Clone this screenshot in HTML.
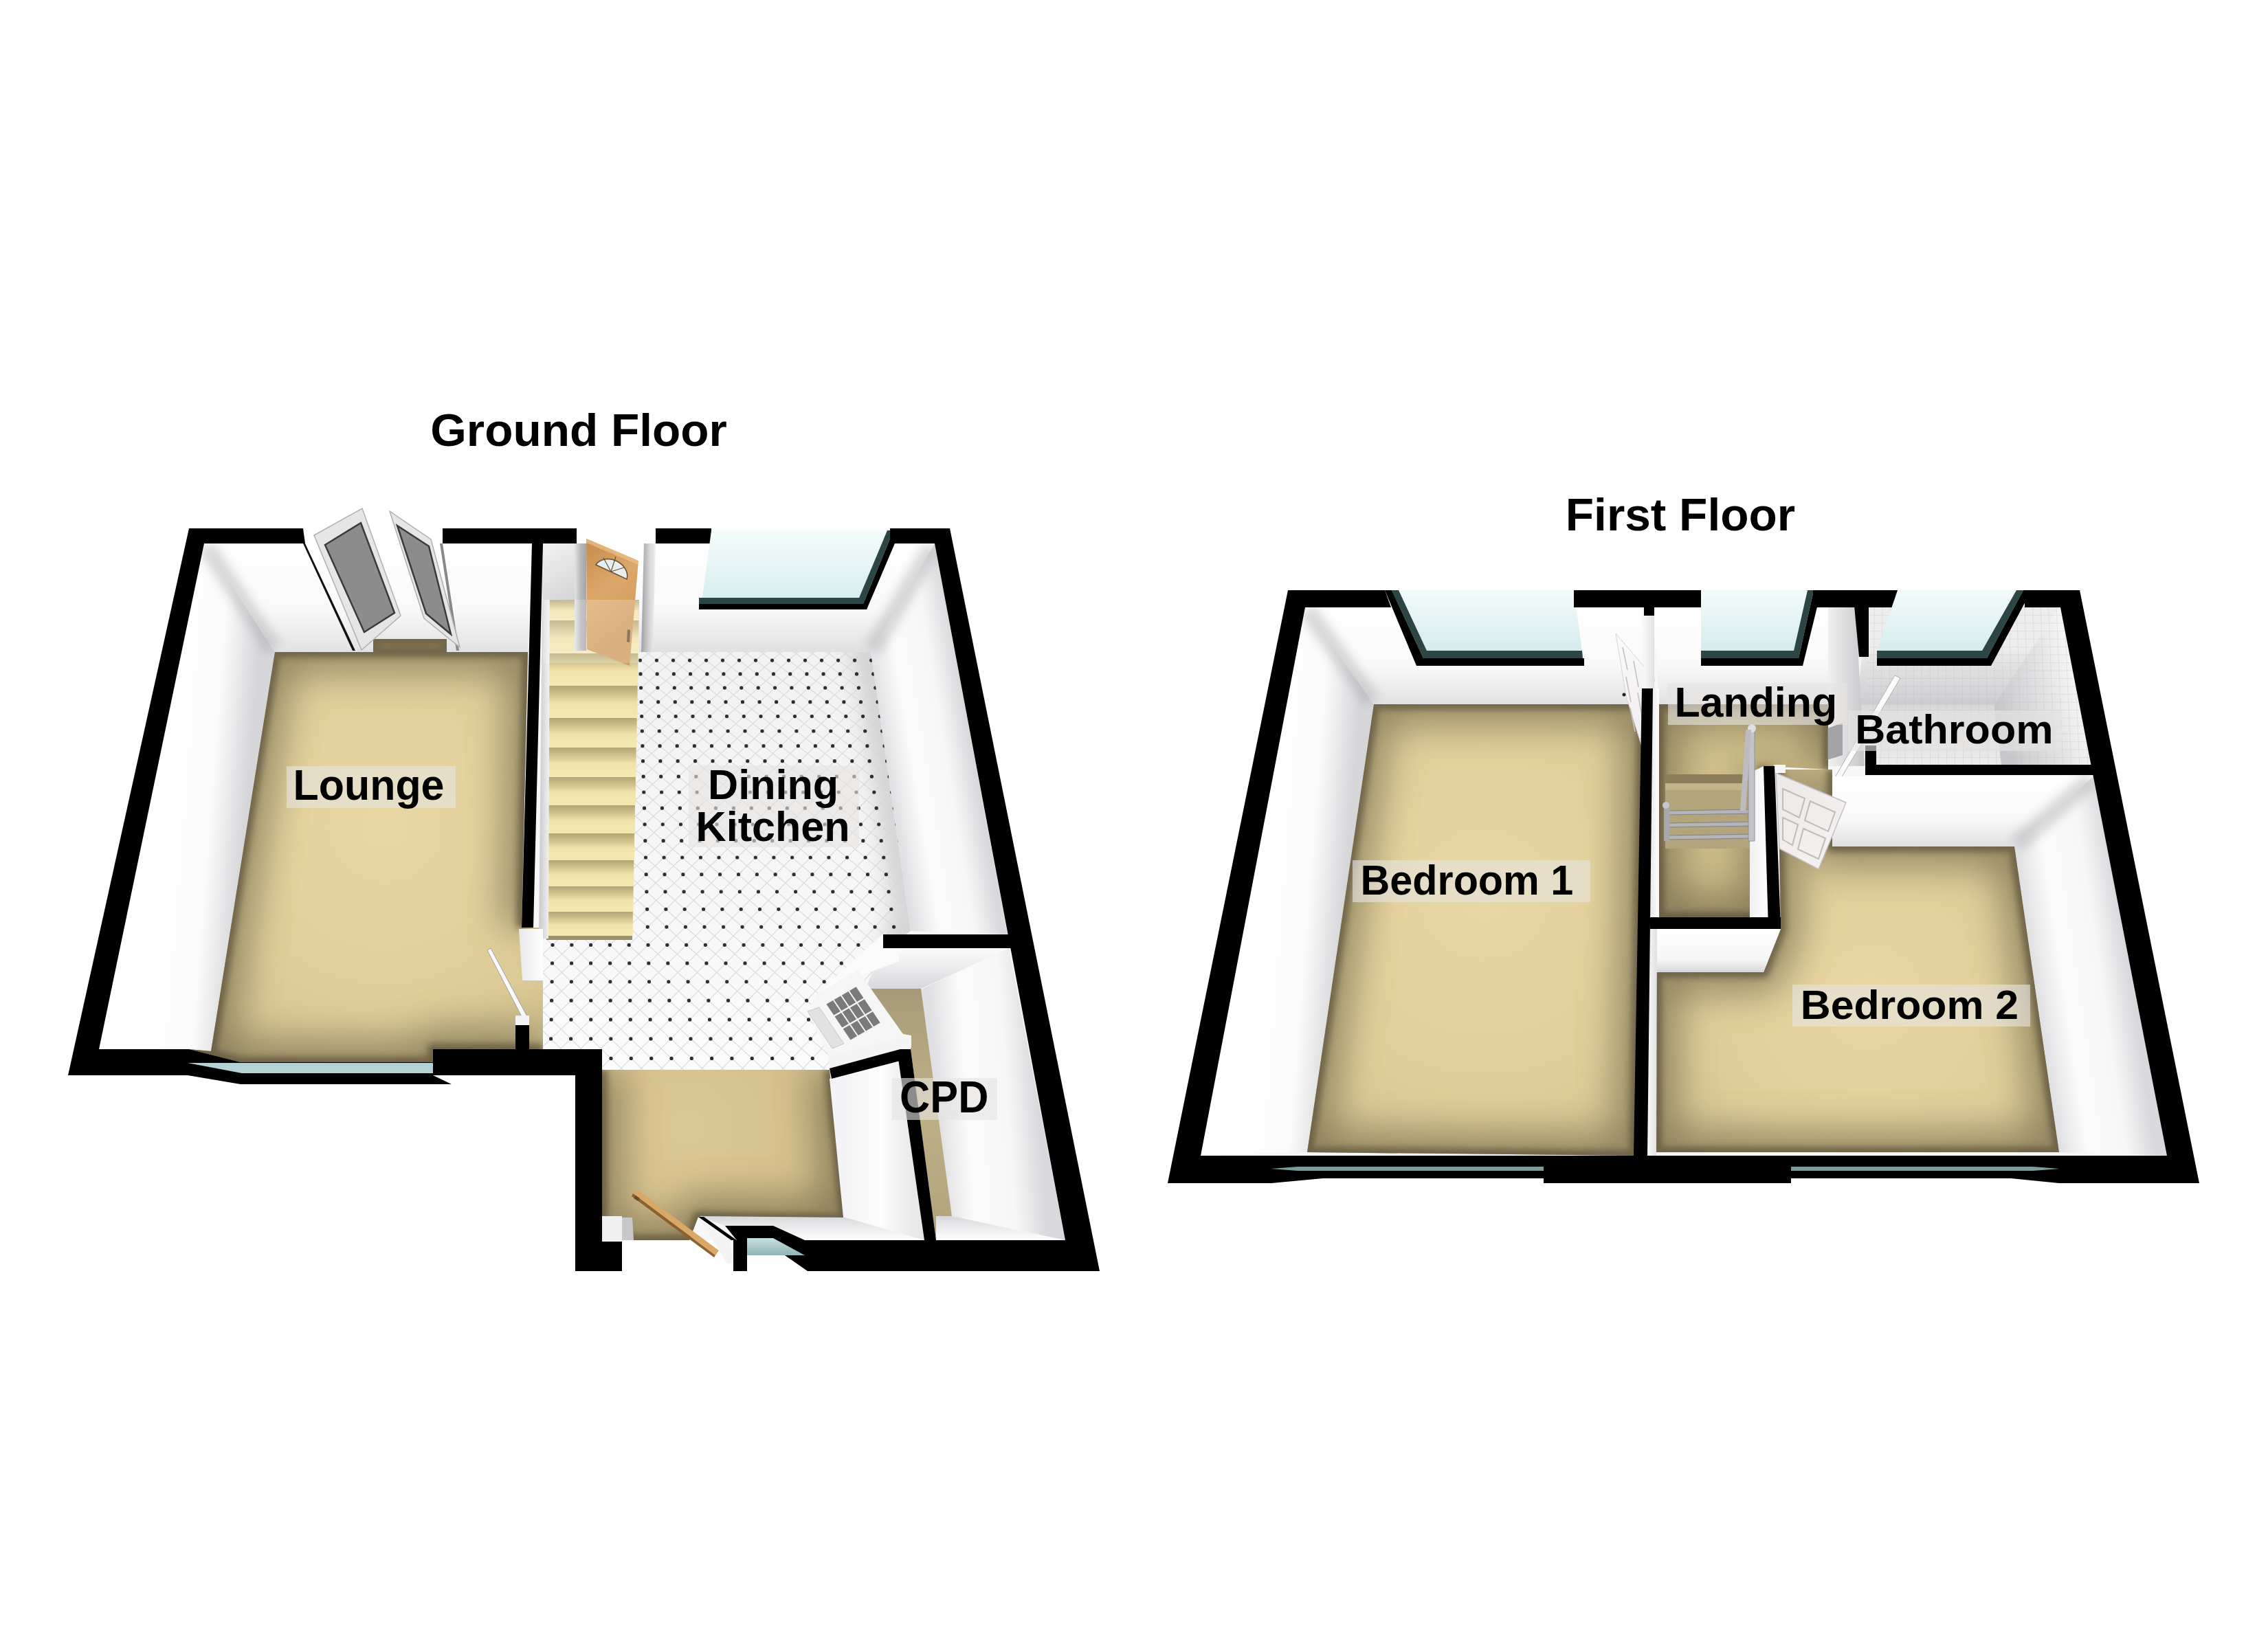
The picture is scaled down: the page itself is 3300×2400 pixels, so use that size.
<!DOCTYPE html>
<html><head><meta charset="utf-8"><style>html,body{margin:0;padding:0;background:#fff;width:3300px;height:2400px;overflow:hidden}</style></head>
<body><svg xmlns="http://www.w3.org/2000/svg" width="3300" height="2400" viewBox="0 0 3300 2400" style="display:block;font-family:'Liberation Sans',sans-serif;font-weight:bold">
<defs>
<filter id="blur" x="-50%" y="-50%" width="200%" height="200%"><feGaussianBlur stdDeviation="7"/></filter>
<filter id="blur2" x="-50%" y="-50%" width="200%" height="200%"><feGaussianBlur stdDeviation="16"/></filter>
<filter id="blur3" x="-20%" y="-20%" width="140%" height="140%"><feGaussianBlur stdDeviation="28"/></filter>
<filter id="blur4" x="-20%" y="-20%" width="140%" height="140%"><feGaussianBlur stdDeviation="5"/></filter>
<linearGradient id="g1" gradientUnits="userSpaceOnUse" x1="500" y1="791" x2="500" y2="949"><stop offset="0" stop-color="#ffffff"/><stop offset="0.6" stop-color="#f9f9f9"/><stop offset="1" stop-color="#e2e2e4"/></linearGradient>
<linearGradient id="g2" gradientUnits="userSpaceOnUse" x1="230" y1="1150" x2="360" y2="1160"><stop offset="0" stop-color="#ffffff"/><stop offset="0.6" stop-color="#fbfbfb"/><stop offset="1" stop-color="#d6d6da"/></linearGradient>
<radialGradient id="g3" gradientUnits="userSpaceOnUse" cx="560" cy="1200" r="420"><stop offset="0" stop-color="#e9d7a3"/><stop offset="0.6" stop-color="#e0ce9a"/><stop offset="1" stop-color="#cebd8c"/></radialGradient>
<clipPath id="cc1"><polygon points="400,949 768,949 759,1350 790,1350 790,1527 630,1527 630,1546 350,1546 275,1527 307,1530"/></clipPath>
<radialGradient id="g4" gradientUnits="userSpaceOnUse" cx="600" cy="1100" r="400"><stop offset="0" stop-color="#e9d7a3"/><stop offset="0.6" stop-color="#e0ce9a"/><stop offset="1" stop-color="#cebd8c"/></radialGradient>
<clipPath id="cc2"><polygon points="543,930 650,930 650,949 543,949"/></clipPath>
<linearGradient id="g5" gradientUnits="userSpaceOnUse" x1="1000" y1="791" x2="1000" y2="949"><stop offset="0" stop-color="#ffffff"/><stop offset="0.6" stop-color="#f9f9f9"/><stop offset="1" stop-color="#e0e0e2"/></linearGradient>
<linearGradient id="g6" gradientUnits="userSpaceOnUse" x1="1296" y1="1150" x2="1420" y2="1130"><stop offset="0" stop-color="#e0e0e3"/><stop offset="0.3" stop-color="#fbfbfb"/><stop offset="0.7" stop-color="#f7f7f7"/><stop offset="1" stop-color="#d9d9dd"/></linearGradient>
<linearGradient id="g7" gradientUnits="userSpaceOnUse" x1="790" y1="949" x2="790" y2="1557"><stop offset="0" stop-color="#f2f2f2"/><stop offset="1" stop-color="#fbfbfb"/></linearGradient>
<clipPath id="kclip"><polygon points="790,949 1267,949 1325,1355 1290,1380 1207,1557 790,1557"/></clipPath>
<linearGradient id="g8" gradientUnits="userSpaceOnUse" x1="0" y1="873" x2="0" y2="903"><stop offset="0" stop-color="#b4a474"/><stop offset="0.28" stop-color="#d3c38e"/><stop offset="0.55" stop-color="#f1e3aa"/><stop offset="1" stop-color="#f4e8b2"/></linearGradient>
<linearGradient id="g9" gradientUnits="userSpaceOnUse" x1="0" y1="903" x2="0" y2="951"><stop offset="0" stop-color="#b4a474"/><stop offset="0.28" stop-color="#d3c38e"/><stop offset="0.55" stop-color="#f1e3aa"/><stop offset="1" stop-color="#f4e8b2"/></linearGradient>
<linearGradient id="g10" gradientUnits="userSpaceOnUse" x1="0" y1="951" x2="0" y2="998"><stop offset="0" stop-color="#b4a474"/><stop offset="0.28" stop-color="#d3c38e"/><stop offset="0.55" stop-color="#f1e3aa"/><stop offset="1" stop-color="#f4e8b2"/></linearGradient>
<linearGradient id="g11" gradientUnits="userSpaceOnUse" x1="0" y1="998" x2="0" y2="1045"><stop offset="0" stop-color="#b4a474"/><stop offset="0.28" stop-color="#d3c38e"/><stop offset="0.55" stop-color="#f1e3aa"/><stop offset="1" stop-color="#f4e8b2"/></linearGradient>
<linearGradient id="g12" gradientUnits="userSpaceOnUse" x1="0" y1="1045" x2="0" y2="1088"><stop offset="0" stop-color="#b4a474"/><stop offset="0.28" stop-color="#d3c38e"/><stop offset="0.55" stop-color="#f1e3aa"/><stop offset="1" stop-color="#f4e8b2"/></linearGradient>
<linearGradient id="g13" gradientUnits="userSpaceOnUse" x1="0" y1="1088" x2="0" y2="1131"><stop offset="0" stop-color="#b4a474"/><stop offset="0.28" stop-color="#d3c38e"/><stop offset="0.55" stop-color="#f1e3aa"/><stop offset="1" stop-color="#f4e8b2"/></linearGradient>
<linearGradient id="g14" gradientUnits="userSpaceOnUse" x1="0" y1="1131" x2="0" y2="1172"><stop offset="0" stop-color="#b4a474"/><stop offset="0.28" stop-color="#d3c38e"/><stop offset="0.55" stop-color="#f1e3aa"/><stop offset="1" stop-color="#f4e8b2"/></linearGradient>
<linearGradient id="g15" gradientUnits="userSpaceOnUse" x1="0" y1="1172" x2="0" y2="1213"><stop offset="0" stop-color="#b4a474"/><stop offset="0.28" stop-color="#d3c38e"/><stop offset="0.55" stop-color="#f1e3aa"/><stop offset="1" stop-color="#f4e8b2"/></linearGradient>
<linearGradient id="g16" gradientUnits="userSpaceOnUse" x1="0" y1="1213" x2="0" y2="1252"><stop offset="0" stop-color="#b4a474"/><stop offset="0.28" stop-color="#d3c38e"/><stop offset="0.55" stop-color="#f1e3aa"/><stop offset="1" stop-color="#f4e8b2"/></linearGradient>
<linearGradient id="g17" gradientUnits="userSpaceOnUse" x1="0" y1="1252" x2="0" y2="1290"><stop offset="0" stop-color="#b4a474"/><stop offset="0.28" stop-color="#d3c38e"/><stop offset="0.55" stop-color="#f1e3aa"/><stop offset="1" stop-color="#f4e8b2"/></linearGradient>
<linearGradient id="g18" gradientUnits="userSpaceOnUse" x1="0" y1="1290" x2="0" y2="1327"><stop offset="0" stop-color="#b4a474"/><stop offset="0.28" stop-color="#d3c38e"/><stop offset="0.55" stop-color="#f1e3aa"/><stop offset="1" stop-color="#f4e8b2"/></linearGradient>
<linearGradient id="g19" gradientUnits="userSpaceOnUse" x1="0" y1="1327" x2="0" y2="1362"><stop offset="0" stop-color="#b4a474"/><stop offset="0.28" stop-color="#d3c38e"/><stop offset="0.55" stop-color="#f1e3aa"/><stop offset="1" stop-color="#f4e8b2"/></linearGradient>
<linearGradient id="g20" gradientUnits="userSpaceOnUse" x1="784" y1="0" x2="800" y2="0"><stop offset="0" stop-color="#c8c8cc"/><stop offset="1" stop-color="#f4f4f4"/></linearGradient>
<linearGradient id="g21" gradientUnits="userSpaceOnUse" x1="790" y1="791" x2="839" y2="873"><stop offset="0" stop-color="#f2f2f2"/><stop offset="1" stop-color="#d4d4d6"/></linearGradient>
<linearGradient id="g22" gradientUnits="userSpaceOnUse" x1="836" y1="0" x2="853" y2="0"><stop offset="0" stop-color="#e4e4e4"/><stop offset="0.5" stop-color="#b8b8ba"/><stop offset="1" stop-color="#a4a4a6"/></linearGradient>
<linearGradient id="g23" gradientUnits="userSpaceOnUse" x1="853" y1="800" x2="929" y2="900"><stop offset="0" stop-color="#c99050"/><stop offset="0.5" stop-color="#dca86a"/><stop offset="1" stop-color="#cf9a5c"/></linearGradient>
<linearGradient id="g24" gradientUnits="userSpaceOnUse" x1="0" y1="873" x2="0" y2="965"><stop offset="0" stop-color="#ffffff"/><stop offset="1" stop-color="#ffffff"/></linearGradient>
<linearGradient id="g25" gradientUnits="userSpaceOnUse" x1="933" y1="0" x2="954" y2="0"><stop offset="0" stop-color="#a0a0a4"/><stop offset="0.6" stop-color="#d8d8da"/><stop offset="1" stop-color="#f0f0f0"/></linearGradient>
<radialGradient id="g26" gradientUnits="userSpaceOnUse" cx="1000" cy="1640" r="300"><stop offset="0" stop-color="#dcc894"/><stop offset="0.6" stop-color="#d4c08c"/><stop offset="1" stop-color="#c4b080"/></radialGradient>
<clipPath id="cc3"><polygon points="876,1557 1207,1557 1230,1775 1016,1771 1003,1805 876,1805"/></clipPath>
<linearGradient id="g27" gradientUnits="userSpaceOnUse" x1="1230" y1="1680" x2="1330" y2="1680"><stop offset="0" stop-color="#f4f4f6"/><stop offset="0.5" stop-color="#fdfdfd"/><stop offset="1" stop-color="#e8e8ea"/></linearGradient>
<linearGradient id="g28" gradientUnits="userSpaceOnUse" x1="1150" y1="1770" x2="1150" y2="1805"><stop offset="0" stop-color="#d8d8dc"/><stop offset="1" stop-color="#ffffff"/></linearGradient>
<linearGradient id="g29" gradientUnits="userSpaceOnUse" x1="1350" y1="1380" x2="1350" y2="1439"><stop offset="0" stop-color="#fcfcfc"/><stop offset="1" stop-color="#d8d8dc"/></linearGradient>
<linearGradient id="g30" gradientUnits="userSpaceOnUse" x1="1362" y1="1600" x2="1510" y2="1590"><stop offset="0" stop-color="#e0e0e3"/><stop offset="0.3" stop-color="#fbfbfb"/><stop offset="0.7" stop-color="#f7f7f7"/><stop offset="1" stop-color="#d9d9dd"/></linearGradient>
<linearGradient id="g31" gradientUnits="userSpaceOnUse" x1="0" y1="1439" x2="0" y2="1780"><stop offset="0" stop-color="#a89a78"/><stop offset="0.5" stop-color="#c0b088"/><stop offset="1" stop-color="#b4a47e"/></linearGradient>
<linearGradient id="g32" gradientUnits="userSpaceOnUse" x1="1450" y1="1770" x2="1450" y2="1805"><stop offset="0" stop-color="#d8d8dc"/><stop offset="1" stop-color="#ffffff"/></linearGradient>
<linearGradient id="g33" gradientUnits="userSpaceOnUse" x1="755" y1="0" x2="790" y2="0"><stop offset="0" stop-color="#e8e8e8"/><stop offset="1" stop-color="#ffffff"/></linearGradient>
<linearGradient id="g34" gradientUnits="userSpaceOnUse" x1="0" y1="772" x2="0" y2="870"><stop offset="0" stop-color="#f6fcfc"/><stop offset="1" stop-color="#d6eeee"/></linearGradient>
<linearGradient id="g35" gradientUnits="userSpaceOnUse" x1="0" y1="1802" x2="0" y2="1827"><stop offset="0" stop-color="#c8e0e0"/><stop offset="1" stop-color="#90b4b4"/></linearGradient>
<linearGradient id="g36" gradientUnits="userSpaceOnUse" x1="2100" y1="884" x2="2100" y2="1025"><stop offset="0" stop-color="#ffffff"/><stop offset="0.6" stop-color="#f9f9f9"/><stop offset="1" stop-color="#e2e2e4"/></linearGradient>
<linearGradient id="g37" gradientUnits="userSpaceOnUse" x1="1830" y1="1250" x2="1960" y2="1260"><stop offset="0" stop-color="#ffffff"/><stop offset="0.6" stop-color="#fbfbfb"/><stop offset="1" stop-color="#d6d6da"/></linearGradient>
<radialGradient id="g38" gradientUnits="userSpaceOnUse" cx="2160" cy="1300" r="480"><stop offset="0" stop-color="#e9d7a3"/><stop offset="0.6" stop-color="#e0ce9a"/><stop offset="1" stop-color="#cebd8c"/></radialGradient>
<clipPath id="cc4"><polygon points="1999,1025 2390,1025 2378,1682 1902,1677"/></clipPath>
<linearGradient id="g39" gradientUnits="userSpaceOnUse" x1="2500" y1="884" x2="2500" y2="1025"><stop offset="0" stop-color="#ffffff"/><stop offset="0.6" stop-color="#f9f9f9"/><stop offset="1" stop-color="#e2e2e4"/></linearGradient>
<radialGradient id="g40" gradientUnits="userSpaceOnUse" cx="2530" cy="1150" r="230"><stop offset="0" stop-color="#d4c490"/><stop offset="0.6" stop-color="#ccbb88"/><stop offset="1" stop-color="#bcab80"/></radialGradient>
<clipPath id="cc5"><polygon points="2414,1025 2660,1025 2660,1120 2566,1115 2566,1335 2414,1335"/></clipPath>
<linearGradient id="g41" gradientUnits="userSpaceOnUse" x1="2401" y1="0" x2="2414" y2="0"><stop offset="0" stop-color="#e8e8e8"/><stop offset="1" stop-color="#ffffff"/></linearGradient>
<linearGradient id="g42" gradientUnits="userSpaceOnUse" x1="2546" y1="0" x2="2573" y2="0"><stop offset="0" stop-color="#f0f0f0"/><stop offset="1" stop-color="#ffffff"/></linearGradient>
<clipPath id="bclip"><polygon points="2716,884 2998,882 3046,1115 2716,1115"/></clipPath>
<linearGradient id="g43" gradientUnits="userSpaceOnUse" x1="2800" y1="940" x2="2800" y2="1026"><stop offset="0" stop-color="#ededed"/><stop offset="1" stop-color="#cdcdd0"/></linearGradient>
<linearGradient id="g44" gradientUnits="userSpaceOnUse" x1="3020" y1="1000" x2="2905" y2="1030"><stop offset="0" stop-color="#f4f4f4"/><stop offset="1" stop-color="#c8c8cc"/></linearGradient>
<linearGradient id="g45" gradientUnits="userSpaceOnUse" x1="0" y1="1026" x2="0" y2="1115"><stop offset="0" stop-color="#d8d8da"/><stop offset="1" stop-color="#ececec"/></linearGradient>
<linearGradient id="g46" gradientUnits="userSpaceOnUse" x1="2660" y1="1000" x2="2713" y2="1000"><stop offset="0" stop-color="#f0f0f0"/><stop offset="1" stop-color="#c6c6ca"/></linearGradient>
<linearGradient id="g47" gradientUnits="userSpaceOnUse" x1="2800" y1="1130" x2="2800" y2="1232"><stop offset="0" stop-color="#ffffff"/><stop offset="0.6" stop-color="#f9f9f9"/><stop offset="1" stop-color="#e0e0e2"/></linearGradient>
<linearGradient id="g48" gradientUnits="userSpaceOnUse" x1="2963" y1="1450" x2="3100" y2="1430"><stop offset="0" stop-color="#e0e0e3"/><stop offset="0.3" stop-color="#fbfbfb"/><stop offset="0.7" stop-color="#f7f7f7"/><stop offset="1" stop-color="#d9d9dd"/></linearGradient>
<radialGradient id="g49" gradientUnits="userSpaceOnUse" cx="2720" cy="1450" r="380"><stop offset="0" stop-color="#e9d7a3"/><stop offset="0.6" stop-color="#e0ce9a"/><stop offset="1" stop-color="#cebd8c"/></radialGradient>
<clipPath id="cc6"><polygon points="2587,1120 2666,1120 2666,1232 2931,1232 2996,1677 2410,1677 2410,1415 2566,1415 2591,1352"/></clipPath>
<linearGradient id="g50" gradientUnits="userSpaceOnUse" x1="2500" y1="1352" x2="2500" y2="1415"><stop offset="0" stop-color="#ffffff"/><stop offset="0.7" stop-color="#f6f6f6"/><stop offset="1" stop-color="#d8d8dc"/></linearGradient>
<linearGradient id="g51" gradientUnits="userSpaceOnUse" x1="2397" y1="0" x2="2411" y2="0"><stop offset="0" stop-color="#f8f8f8"/><stop offset="1" stop-color="#e0e0e4"/></linearGradient>
<linearGradient id="g52" gradientUnits="userSpaceOnUse" x1="2584" y1="1125" x2="2686" y2="1265"><stop offset="0" stop-color="#ece8e8"/><stop offset="1" stop-color="#f6f2f2"/></linearGradient>
<linearGradient id="g53" gradientUnits="userSpaceOnUse" x1="2352" y1="923" x2="2406" y2="1085"><stop offset="0" stop-color="#fbfafa"/><stop offset="1" stop-color="#efecec"/></linearGradient>
<linearGradient id="g54" gradientUnits="userSpaceOnUse" x1="2392" y1="0" x2="2407" y2="0"><stop offset="0" stop-color="#f8f8f8"/><stop offset="1" stop-color="#e0e0e4"/></linearGradient>
<linearGradient id="g55" gradientUnits="userSpaceOnUse" x1="0" y1="859" x2="0" y2="947"><stop offset="0" stop-color="#f4fbfb"/><stop offset="1" stop-color="#d4ecec"/></linearGradient>
</defs>
<rect width="3300" height="2400" fill="#fff"/>
<polygon points="297,791 1360,791 1550,1805 876,1805 876,1527 144,1527" fill="#f7f7f7" />
<polygon points="297,791 774,791 768,949 400,949" fill="url(#g1)" />
<polygon points="297,791 400,949 307,1530 144,1527" fill="url(#g2)" />
<line x1="297" y1="791" x2="400" y2="949" stroke="#a0a0a4" stroke-width="0" />
<line x1="300" y1="795" x2="398" y2="945" stroke="#a8a8ac" stroke-width="26" filter="url(#blur)" opacity="0.42"/>
<polygon points="400,949 768,949 759,1350 790,1350 790,1527 630,1527 630,1546 350,1546 275,1527 307,1530" fill="url(#g3)" />
<g clip-path="url(#cc1)"><polyline points="790,1527 630,1527 630,1546 350,1546 275,1527 307,1530 400,949 768,949 759,1350" fill="none" stroke="#6a5e44" stroke-width="56" stroke-linejoin="round" filter="url(#blur3)" opacity="0.68"/><polyline points="790,1527 630,1527 630,1546 350,1546 275,1527 307,1530 400,949 768,949 759,1350" fill="none" stroke="#5a5038" stroke-width="16" stroke-linejoin="round" filter="url(#blur4)" opacity="0.7"/></g>
<polygon points="543,930 650,930 650,949 543,949" fill="url(#g4)" />
<g clip-path="url(#cc2)"><polygon points="543,930 650,930 650,949 543,949" fill="none" stroke="#6a5e44" stroke-width="56" stroke-linejoin="round" filter="url(#blur3)" opacity="0.68"/><polygon points="543,930 650,930 650,949 543,949" fill="none" stroke="#5a5038" stroke-width="16" stroke-linejoin="round" filter="url(#blur4)" opacity="0.7"/></g>
<polygon points="790,791 1360,791 1267,949 790,949" fill="url(#g5)" />
<polygon points="1360,791 1466,1360 1325,1355 1267,949" fill="url(#g6)" />
<line x1="1357" y1="795" x2="1270" y2="945" stroke="#a8a8ac" stroke-width="26" filter="url(#blur)" opacity="0.42"/>
<polygon points="839,769 954,769 954,791 839,791" fill="#ffffff" />
<polygon points="790,949 1267,949 1325,1355 1290,1380 1207,1557 790,1557" fill="url(#g7)" />
<g clip-path="url(#kclip)">
<polyline points="1240,946 1267,949 1325,1355 1290,1380" fill="none" stroke="#b4b4b8" stroke-width="46" filter="url(#blur2)" opacity="0.55"/>
<polyline points="790,949 1267,949" fill="none" stroke="#c4c4c8" stroke-width="30" filter="url(#blur2)" opacity="0.45"/>
<g fill="none" stroke="#d6d6d8" stroke-width="1.3" opacity="0.8"><polyline points="-110.6,922.6 -93.9,941.7 -77.0,961.1 -59.9,980.9 -42.5,1001.1 -24.9,1021.7 -7.0,1042.6 11.1,1064.0 29.5,1085.7 48.2,1107.7 67.2,1130.2 86.5,1153.0 106.1,1176.2 126.0,1199.8 146.3,1223.7 167.0,1248.0 187.9,1272.7 209.3,1297.8 231.1,1323.3 253.2,1349.1 275.7,1375.3 298.7,1401.9 322.1,1428.8 345.9,1456.2 370.1,1483.9 394.8,1511.9 420.0,1540.4 445.6,1569.2 471.7,1598.4 498.3,1628.0"/><polyline points="-15.9,922.6 -46.2,941.7 -77.0,961.1 -108.3,980.9 -140.0,1001.1 -172.3,1021.7 -205.1,1042.6 -238.4,1064.0 -272.3,1085.7 -306.8,1107.7 -341.8,1130.2 -377.4,1153.0 -413.5,1176.2 -450.3,1199.8 -487.7,1223.7 -525.7,1248.0 -564.3,1272.7 -603.5,1297.8 -643.4,1323.3 -684.0,1349.1 -725.2,1375.3 -767.1,1401.9 -809.7,1428.8 -853.0,1456.2 -897.0,1483.9 -941.8,1511.9 -987.2,1540.4 -1033.4,1569.2 -1080.4,1598.4 -1128.1,1628.0"/><polyline points="-86.9,922.6 -70.1,941.7 -53.0,961.1 -35.7,980.9 -18.1,1001.1 -0.3,1021.7 17.7,1042.6 36.0,1064.0 54.6,1085.7 73.5,1107.7 92.7,1130.2 112.2,1153.0 132.1,1176.2 152.2,1199.8 172.7,1223.7 193.6,1248.0 214.8,1272.7 236.4,1297.8 258.4,1323.3 280.8,1349.1 303.5,1375.3 326.7,1401.9 350.3,1428.8 374.4,1456.2 398.9,1483.9 423.9,1511.9 449.3,1540.4 475.2,1569.2 501.6,1598.4 528.4,1628.0"/><polyline points="7.7,922.6 -22.4,941.7 -53.0,961.1 -84.1,980.9 -115.6,1001.1 -147.7,1021.7 -180.3,1042.6 -213.5,1064.0 -247.2,1085.7 -281.4,1107.7 -316.2,1130.2 -351.6,1153.0 -387.5,1176.2 -424.1,1199.8 -461.2,1223.7 -499.0,1248.0 -537.4,1272.7 -576.4,1297.8 -616.1,1323.3 -656.4,1349.1 -697.4,1375.3 -739.1,1401.9 -781.4,1428.8 -824.5,1456.2 -868.2,1483.9 -912.7,1511.9 -957.9,1540.4 -1003.9,1569.2 -1050.5,1598.4 -1098.0,1628.0"/><polyline points="-63.3,922.6 -46.2,941.7 -29.0,961.1 -11.5,980.9 6.2,1001.1 24.2,1021.7 42.5,1042.6 61.0,1064.0 79.8,1085.7 98.9,1107.7 118.3,1130.2 138.0,1153.0 158.0,1176.2 178.4,1199.8 199.1,1223.7 220.2,1248.0 241.7,1272.7 263.5,1297.8 285.7,1323.3 308.3,1349.1 331.3,1375.3 354.8,1401.9 378.6,1428.8 402.9,1456.2 427.7,1483.9 452.9,1511.9 478.6,1540.4 504.8,1569.2 531.4,1598.4 558.6,1628.0"/><polyline points="31.4,922.6 1.4,941.7 -29.0,961.1 -59.9,980.9 -91.3,1001.1 -123.2,1021.7 -155.6,1042.6 -188.5,1064.0 -222.0,1085.7 -256.1,1107.7 -290.7,1130.2 -325.8,1153.0 -361.6,1176.2 -397.9,1199.8 -434.8,1223.7 -472.4,1248.0 -510.5,1272.7 -549.3,1297.8 -588.8,1323.3 -628.9,1349.1 -669.6,1375.3 -711.0,1401.9 -753.1,1428.8 -795.9,1456.2 -839.4,1483.9 -883.7,1511.9 -928.6,1540.4 -974.3,1569.2 -1020.7,1598.4 -1067.9,1628.0"/><polyline points="-39.6,922.6 -22.4,941.7 -5.0,961.1 12.7,980.9 30.6,1001.1 48.8,1021.7 67.2,1042.6 85.9,1064.0 104.9,1085.7 124.2,1107.7 143.8,1130.2 163.8,1153.0 184.0,1176.2 204.6,1199.8 225.6,1223.7 246.9,1248.0 268.5,1272.7 290.6,1297.8 313.0,1323.3 335.9,1349.1 359.1,1375.3 382.8,1401.9 406.9,1428.8 431.5,1456.2 456.5,1483.9 482.0,1511.9 507.9,1540.4 534.3,1569.2 561.3,1598.4 588.7,1628.0"/><polyline points="55.0,922.6 25.3,941.7 -5.0,961.1 -35.7,980.9 -66.9,1001.1 -98.6,1021.7 -130.8,1042.6 -163.6,1064.0 -196.9,1085.7 -230.7,1107.7 -265.1,1130.2 -300.1,1153.0 -335.6,1176.2 -371.7,1199.8 -408.4,1223.7 -445.7,1248.0 -483.7,1272.7 -522.2,1297.8 -561.4,1323.3 -601.3,1349.1 -641.8,1375.3 -683.0,1401.9 -724.8,1428.8 -767.4,1456.2 -810.6,1483.9 -854.6,1511.9 -899.3,1540.4 -944.7,1569.2 -990.8,1598.4 -1037.8,1628.0"/><polyline points="-15.9,922.6 1.4,941.7 19.0,961.1 36.9,980.9 55.0,1001.1 73.4,1021.7 92.0,1042.6 110.9,1064.0 130.1,1085.7 149.6,1107.7 169.4,1130.2 189.5,1153.0 210.0,1176.2 230.8,1199.8 252.0,1223.7 273.5,1248.0 295.4,1272.7 317.7,1297.8 340.4,1323.3 363.5,1349.1 386.9,1375.3 410.9,1401.9 435.2,1428.8 460.0,1456.2 485.3,1483.9 511.0,1511.9 537.2,1540.4 563.9,1569.2 591.1,1598.4 618.8,1628.0"/><polyline points="78.7,922.6 49.1,941.7 19.0,961.1 -11.5,980.9 -42.5,1001.1 -74.0,1021.7 -106.1,1042.6 -138.6,1064.0 -171.7,1085.7 -205.4,1107.7 -239.5,1130.2 -274.3,1153.0 -309.6,1176.2 -345.5,1199.8 -382.0,1223.7 -419.1,1248.0 -456.8,1272.7 -495.1,1297.8 -534.1,1323.3 -573.7,1349.1 -614.0,1375.3 -654.9,1401.9 -696.6,1428.8 -738.9,1456.2 -781.8,1483.9 -825.6,1511.9 -870.0,1540.4 -915.1,1569.2 -961.0,1598.4 -1007.6,1628.0"/><polyline points="7.7,922.6 25.3,941.7 43.1,961.1 61.1,980.9 79.4,1001.1 97.9,1021.7 116.7,1042.6 135.8,1064.0 155.2,1085.7 174.9,1107.7 195.0,1130.2 215.3,1153.0 236.0,1176.2 257.0,1199.8 278.4,1223.7 300.1,1248.0 322.3,1272.7 344.8,1297.8 367.7,1323.3 391.0,1349.1 414.8,1375.3 438.9,1401.9 463.5,1428.8 488.6,1456.2 514.1,1483.9 540.1,1511.9 566.5,1540.4 593.5,1569.2 621.0,1598.4 648.9,1628.0"/><polyline points="102.3,922.6 72.9,941.7 43.1,961.1 12.7,980.9 -18.1,1001.1 -49.5,1021.7 -81.3,1042.6 -113.7,1064.0 -146.6,1085.7 -180.0,1107.7 -214.0,1130.2 -248.5,1153.0 -283.6,1176.2 -319.3,1199.8 -355.6,1223.7 -392.5,1248.0 -429.9,1272.7 -468.1,1297.8 -506.8,1323.3 -546.2,1349.1 -586.2,1375.3 -626.9,1401.9 -668.3,1428.8 -710.3,1456.2 -753.0,1483.9 -796.5,1511.9 -840.7,1540.4 -885.5,1569.2 -931.2,1598.4 -977.5,1628.0"/><polyline points="31.4,922.6 49.1,941.7 67.1,961.1 85.3,980.9 103.7,1001.1 122.5,1021.7 141.5,1042.6 160.8,1064.0 180.4,1085.7 200.3,1107.7 220.5,1130.2 241.1,1153.0 262.0,1176.2 283.2,1199.8 304.8,1223.7 326.8,1248.0 349.1,1272.7 371.9,1297.8 395.0,1323.3 418.6,1349.1 442.6,1375.3 467.0,1401.9 491.8,1428.8 517.1,1456.2 542.9,1483.9 569.1,1511.9 595.9,1540.4 623.1,1569.2 650.8,1598.4 679.0,1628.0"/><polyline points="126.0,922.6 96.8,941.7 67.1,961.1 36.9,980.9 6.2,1001.1 -24.9,1021.7 -56.6,1042.6 -88.7,1064.0 -121.4,1085.7 -154.7,1107.7 -188.4,1130.2 -222.7,1153.0 -257.6,1176.2 -293.1,1199.8 -329.2,1223.7 -365.8,1248.0 -403.1,1272.7 -441.0,1297.8 -479.5,1323.3 -518.6,1349.1 -558.4,1375.3 -598.8,1401.9 -640.0,1428.8 -681.8,1456.2 -724.3,1483.9 -767.4,1511.9 -811.3,1540.4 -856.0,1569.2 -901.3,1598.4 -947.4,1628.0"/><polyline points="55.0,922.6 72.9,941.7 91.1,961.1 109.5,980.9 128.1,1001.1 147.0,1021.7 166.2,1042.6 185.7,1064.0 205.5,1085.7 225.6,1107.7 246.1,1130.2 266.8,1153.0 287.9,1176.2 309.4,1199.8 331.2,1223.7 353.4,1248.0 376.0,1272.7 399.0,1297.8 422.4,1323.3 446.1,1349.1 470.4,1375.3 495.0,1401.9 520.1,1428.8 545.7,1456.2 571.7,1483.9 598.2,1511.9 625.2,1540.4 652.7,1569.2 680.7,1598.4 709.2,1628.0"/><polyline points="149.7,922.6 120.6,941.7 91.1,961.1 61.1,980.9 30.6,1001.1 -0.3,1021.7 -31.8,1042.6 -63.8,1064.0 -96.3,1085.7 -129.3,1107.7 -162.9,1130.2 -197.0,1153.0 -231.7,1176.2 -266.9,1199.8 -302.8,1223.7 -339.2,1248.0 -376.2,1272.7 -413.9,1297.8 -452.1,1323.3 -491.0,1349.1 -530.6,1375.3 -570.8,1401.9 -611.7,1428.8 -653.2,1456.2 -695.5,1483.9 -738.4,1511.9 -782.0,1540.4 -826.4,1569.2 -871.5,1598.4 -917.3,1628.0"/><polyline points="78.7,922.6 96.8,941.7 115.1,961.1 133.7,980.9 152.5,1001.1 171.6,1021.7 191.0,1042.6 210.7,1064.0 230.7,1085.7 251.0,1107.7 271.6,1130.2 292.6,1153.0 313.9,1176.2 335.6,1199.8 357.6,1223.7 380.1,1248.0 402.9,1272.7 426.1,1297.8 449.7,1323.3 473.7,1349.1 498.2,1375.3 523.1,1401.9 548.4,1428.8 574.2,1456.2 600.5,1483.9 627.2,1511.9 654.5,1540.4 682.2,1569.2 710.5,1598.4 739.3,1628.0"/><polyline points="173.3,922.6 144.4,941.7 115.1,961.1 85.3,980.9 55.0,1001.1 24.2,1021.7 -7.0,1042.6 -38.8,1064.0 -71.1,1085.7 -103.9,1107.7 -137.3,1130.2 -171.2,1153.0 -205.7,1176.2 -240.7,1199.8 -276.3,1223.7 -312.5,1248.0 -349.4,1272.7 -386.8,1297.8 -424.8,1323.3 -463.5,1349.1 -502.8,1375.3 -542.8,1401.9 -583.4,1428.8 -624.7,1456.2 -666.7,1483.9 -709.3,1511.9 -752.7,1540.4 -796.8,1569.2 -841.6,1598.4 -887.2,1628.0"/><polyline points="102.3,922.6 120.6,941.7 139.1,961.1 157.9,980.9 176.9,1001.1 196.2,1021.7 215.8,1042.6 235.6,1064.0 255.8,1085.7 276.4,1107.7 297.2,1130.2 318.4,1153.0 339.9,1176.2 361.8,1199.8 384.1,1223.7 406.7,1248.0 429.7,1272.7 453.2,1297.8 477.0,1323.3 501.3,1349.1 526.0,1375.3 551.1,1401.9 576.7,1428.8 602.8,1456.2 629.3,1483.9 656.3,1511.9 683.8,1540.4 711.8,1569.2 740.3,1598.4 769.4,1628.0"/><polyline points="197.0,922.6 168.3,941.7 139.1,961.1 109.5,980.9 79.4,1001.1 48.8,1021.7 17.7,1042.6 -13.9,1064.0 -46.0,1085.7 -78.6,1107.7 -111.7,1130.2 -145.4,1153.0 -179.7,1176.2 -214.5,1199.8 -249.9,1223.7 -285.9,1248.0 -322.5,1272.7 -359.7,1297.8 -397.5,1323.3 -435.9,1349.1 -475.0,1375.3 -514.7,1401.9 -555.1,1428.8 -596.1,1456.2 -637.9,1483.9 -680.3,1511.9 -723.4,1540.4 -767.2,1569.2 -811.8,1598.4 -857.0,1628.0"/><polyline points="126.0,922.6 144.4,941.7 163.1,961.1 182.0,980.9 201.3,1001.1 220.7,1021.7 240.5,1042.6 260.6,1064.0 281.0,1085.7 301.7,1107.7 322.8,1130.2 344.1,1153.0 365.9,1176.2 388.0,1199.8 410.5,1223.7 433.3,1248.0 456.6,1272.7 480.3,1297.8 504.3,1323.3 528.8,1349.1 553.8,1375.3 579.2,1401.9 605.0,1428.8 631.3,1456.2 658.1,1483.9 685.4,1511.9 713.1,1540.4 741.4,1569.2 770.2,1598.4 799.5,1628.0"/><polyline points="220.6,922.6 192.1,941.7 163.1,961.1 133.7,980.9 103.7,1001.1 73.4,1021.7 42.5,1042.6 11.1,1064.0 -20.8,1085.7 -53.2,1107.7 -86.2,1130.2 -119.7,1153.0 -153.7,1176.2 -188.3,1199.8 -223.5,1223.7 -259.3,1248.0 -295.6,1272.7 -332.6,1297.8 -370.2,1323.3 -408.3,1349.1 -447.2,1375.3 -486.7,1401.9 -526.8,1428.8 -567.6,1456.2 -609.1,1483.9 -651.2,1511.9 -694.1,1540.4 -737.6,1569.2 -781.9,1598.4 -826.9,1628.0"/><polyline points="149.7,922.6 168.3,941.7 187.1,961.1 206.2,980.9 225.6,1001.1 245.3,1021.7 265.3,1042.6 285.6,1064.0 306.1,1085.7 327.1,1107.7 348.3,1130.2 369.9,1153.0 391.9,1176.2 414.2,1199.8 436.9,1223.7 460.0,1248.0 483.5,1272.7 507.4,1297.8 531.7,1323.3 556.4,1349.1 581.6,1375.3 607.2,1401.9 633.3,1428.8 659.9,1456.2 686.9,1483.9 714.4,1511.9 742.4,1540.4 771.0,1569.2 800.0,1598.4 829.6,1628.0"/><polyline points="244.3,922.6 215.9,941.7 187.1,961.1 157.9,980.9 128.1,1001.1 97.9,1021.7 67.2,1042.6 36.0,1064.0 4.3,1085.7 -27.9,1107.7 -60.6,1130.2 -93.9,1153.0 -127.7,1176.2 -162.1,1199.8 -197.1,1223.7 -232.6,1248.0 -268.8,1272.7 -305.5,1297.8 -342.8,1323.3 -380.8,1349.1 -419.4,1375.3 -458.6,1401.9 -498.5,1428.8 -539.0,1456.2 -580.3,1483.9 -622.2,1511.9 -664.8,1540.4 -708.1,1569.2 -752.1,1598.4 -796.8,1628.0"/><polyline points="173.3,922.6 192.1,941.7 211.1,961.1 230.4,980.9 250.0,1001.1 269.9,1021.7 290.0,1042.6 310.5,1064.0 331.3,1085.7 352.4,1107.7 373.9,1130.2 395.7,1153.0 417.8,1176.2 440.4,1199.8 463.3,1223.7 486.6,1248.0 510.3,1272.7 534.4,1297.8 559.0,1323.3 584.0,1349.1 609.4,1375.3 635.3,1401.9 661.6,1428.8 688.4,1456.2 715.7,1483.9 743.5,1511.9 771.8,1540.4 800.6,1569.2 829.9,1598.4 859.8,1628.0"/><polyline points="267.9,922.6 239.8,941.7 211.1,961.1 182.0,980.9 152.5,1001.1 122.5,1021.7 92.0,1042.6 61.0,1064.0 29.5,1085.7 -2.5,1107.7 -35.1,1130.2 -68.1,1153.0 -101.8,1176.2 -135.9,1199.8 -170.7,1223.7 -206.0,1248.0 -241.9,1272.7 -278.4,1297.8 -315.5,1323.3 -353.2,1349.1 -391.6,1375.3 -430.6,1401.9 -470.2,1428.8 -510.5,1456.2 -551.5,1483.9 -593.1,1511.9 -635.4,1540.4 -678.5,1569.2 -722.2,1598.4 -766.7,1628.0"/><polyline points="197.0,922.6 215.9,941.7 235.1,961.1 254.6,980.9 274.4,1001.1 294.4,1021.7 314.8,1042.6 335.5,1064.0 356.4,1085.7 377.8,1107.7 399.4,1130.2 421.4,1153.0 443.8,1176.2 466.6,1199.8 489.7,1223.7 513.3,1248.0 537.2,1272.7 561.5,1297.8 586.3,1323.3 611.5,1349.1 637.2,1375.3 663.3,1401.9 689.9,1428.8 716.9,1456.2 744.5,1483.9 772.5,1511.9 801.1,1540.4 830.1,1569.2 859.7,1598.4 889.9,1628.0"/><polyline points="291.6,922.6 263.6,941.7 235.1,961.1 206.2,980.9 176.9,1001.1 147.0,1021.7 116.7,1042.6 85.9,1064.0 54.6,1085.7 22.8,1107.7 -9.5,1130.2 -42.4,1153.0 -75.8,1176.2 -109.7,1199.8 -144.3,1223.7 -179.4,1248.0 -215.0,1272.7 -251.3,1297.8 -288.2,1323.3 -325.7,1349.1 -363.8,1375.3 -402.5,1401.9 -441.9,1428.8 -481.9,1456.2 -522.7,1483.9 -564.0,1511.9 -606.1,1540.4 -648.9,1569.2 -692.4,1598.4 -736.6,1628.0"/><polyline points="220.6,922.6 239.8,941.7 259.1,961.1 278.8,980.9 298.8,1001.1 319.0,1021.7 339.5,1042.6 360.4,1064.0 381.6,1085.7 403.1,1107.7 425.0,1130.2 447.2,1153.0 469.8,1176.2 492.8,1199.8 516.1,1223.7 539.9,1248.0 564.1,1272.7 588.6,1297.8 613.6,1323.3 639.1,1349.1 665.0,1375.3 691.3,1401.9 718.2,1428.8 745.5,1456.2 773.3,1483.9 801.6,1511.9 830.4,1540.4 859.7,1569.2 889.6,1598.4 920.0,1628.0"/><polyline points="315.3,922.6 287.4,941.7 259.1,961.1 230.4,980.9 201.3,1001.1 171.6,1021.7 141.5,1042.6 110.9,1064.0 79.8,1085.7 48.2,1107.7 16.0,1130.2 -16.6,1153.0 -49.8,1176.2 -83.5,1199.8 -117.8,1223.7 -152.7,1248.0 -188.2,1272.7 -224.2,1297.8 -260.8,1323.3 -298.1,1349.1 -336.0,1375.3 -374.5,1401.9 -413.6,1428.8 -453.4,1456.2 -493.9,1483.9 -535.0,1511.9 -576.8,1540.4 -619.3,1569.2 -662.5,1598.4 -706.4,1628.0"/><polyline points="244.3,922.6 263.6,941.7 283.2,961.1 303.0,980.9 323.1,1001.1 343.6,1021.7 364.3,1042.6 385.4,1064.0 406.7,1085.7 428.5,1107.7 450.5,1130.2 473.0,1153.0 495.8,1176.2 519.0,1199.8 542.6,1223.7 566.5,1248.0 590.9,1272.7 615.7,1297.8 641.0,1323.3 666.7,1349.1 692.8,1375.3 719.4,1401.9 746.5,1428.8 774.0,1456.2 802.1,1483.9 830.6,1511.9 859.7,1540.4 889.3,1569.2 919.4,1598.4 950.1,1628.0"/><polyline points="338.9,922.6 311.3,941.7 283.2,961.1 254.6,980.9 225.6,1001.1 196.2,1021.7 166.2,1042.6 135.8,1064.0 104.9,1085.7 73.5,1107.7 41.6,1130.2 9.2,1153.0 -23.8,1176.2 -57.3,1199.8 -91.4,1223.7 -126.1,1248.0 -161.3,1272.7 -197.1,1297.8 -233.5,1323.3 -270.5,1349.1 -308.2,1375.3 -346.4,1401.9 -385.3,1428.8 -424.9,1456.2 -465.1,1483.9 -505.9,1511.9 -547.5,1540.4 -589.7,1569.2 -632.7,1598.4 -676.3,1628.0"/><polyline points="267.9,922.6 287.4,941.7 307.2,961.1 327.2,980.9 347.5,1001.1 368.1,1021.7 389.1,1042.6 410.3,1064.0 431.9,1085.7 453.8,1107.7 476.1,1130.2 498.8,1153.0 521.8,1176.2 545.2,1199.8 569.0,1223.7 593.2,1248.0 617.8,1272.7 642.8,1297.8 668.3,1323.3 694.2,1349.1 720.6,1375.3 747.4,1401.9 774.8,1428.8 802.6,1456.2 830.9,1483.9 859.7,1511.9 889.0,1540.4 918.9,1569.2 949.3,1598.4 980.2,1628.0"/><polyline points="362.6,922.6 335.1,941.7 307.2,961.1 278.8,980.9 250.0,1001.1 220.7,1021.7 191.0,1042.6 160.8,1064.0 130.1,1085.7 98.9,1107.7 67.2,1130.2 34.9,1153.0 2.2,1176.2 -31.1,1199.8 -65.0,1223.7 -99.4,1248.0 -134.4,1272.7 -170.0,1297.8 -206.2,1323.3 -243.0,1349.1 -280.4,1375.3 -318.4,1401.9 -357.0,1428.8 -396.3,1456.2 -436.3,1483.9 -476.9,1511.9 -518.2,1540.4 -560.1,1569.2 -602.8,1598.4 -646.2,1628.0"/><polyline points="291.6,922.6 311.3,941.7 331.2,961.1 351.4,980.9 371.9,1001.1 392.7,1021.7 413.8,1042.6 435.3,1064.0 457.1,1085.7 479.2,1107.7 501.7,1130.2 524.5,1153.0 547.8,1176.2 571.4,1199.8 595.4,1223.7 619.8,1248.0 644.6,1272.7 669.9,1297.8 695.6,1323.3 721.8,1349.1 748.4,1375.3 775.5,1401.9 803.1,1428.8 831.1,1456.2 859.7,1483.9 888.8,1511.9 918.3,1540.4 948.5,1569.2 979.1,1598.4 1010.4,1628.0"/><polyline points="386.2,922.6 358.9,941.7 331.2,961.1 303.0,980.9 274.4,1001.1 245.3,1021.7 215.8,1042.6 185.7,1064.0 155.2,1085.7 124.2,1107.7 92.7,1130.2 60.7,1153.0 28.1,1176.2 -5.0,1199.8 -38.6,1223.7 -72.8,1248.0 -107.6,1272.7 -142.9,1297.8 -178.9,1323.3 -215.4,1349.1 -252.5,1375.3 -290.3,1401.9 -328.7,1428.8 -367.8,1456.2 -407.5,1483.9 -447.8,1511.9 -488.9,1540.4 -530.6,1569.2 -573.0,1598.4 -616.1,1628.0"/><polyline points="315.3,922.6 335.1,941.7 355.2,961.1 375.6,980.9 396.3,1001.1 417.3,1021.7 438.6,1042.6 460.2,1064.0 482.2,1085.7 504.5,1107.7 527.2,1130.2 550.3,1153.0 573.7,1176.2 597.6,1199.8 621.8,1223.7 646.4,1248.0 671.5,1272.7 697.0,1297.8 723.0,1323.3 749.4,1349.1 776.2,1375.3 803.5,1401.9 831.4,1428.8 859.7,1456.2 888.5,1483.9 917.8,1511.9 947.7,1540.4 978.0,1569.2 1009.0,1598.4 1040.5,1628.0"/><polyline points="409.9,922.6 382.8,941.7 355.2,961.1 327.2,980.9 298.8,1001.1 269.9,1021.7 240.5,1042.6 210.7,1064.0 180.4,1085.7 149.6,1107.7 118.3,1130.2 86.5,1153.0 54.1,1176.2 21.2,1199.8 -12.2,1223.7 -46.2,1248.0 -80.7,1272.7 -115.8,1297.8 -151.5,1323.3 -187.8,1349.1 -224.7,1375.3 -262.3,1401.9 -300.4,1428.8 -339.2,1456.2 -378.7,1483.9 -418.8,1511.9 -459.5,1540.4 -501.0,1569.2 -543.1,1598.4 -586.0,1628.0"/><polyline points="338.9,922.6 358.9,941.7 379.2,961.1 399.8,980.9 420.6,1001.1 441.8,1021.7 463.3,1042.6 485.2,1064.0 507.4,1085.7 529.9,1107.7 552.8,1130.2 576.1,1153.0 599.7,1176.2 623.8,1199.8 648.2,1223.7 673.1,1248.0 698.4,1272.7 724.1,1297.8 750.3,1323.3 776.9,1349.1 804.0,1375.3 831.6,1401.9 859.7,1428.8 888.2,1456.2 917.3,1483.9 946.9,1511.9 977.0,1540.4 1007.6,1569.2 1038.8,1598.4 1070.6,1628.0"/><polyline points="433.5,922.6 406.6,941.7 379.2,961.1 351.4,980.9 323.1,1001.1 294.4,1021.7 265.3,1042.6 235.6,1064.0 205.5,1085.7 174.9,1107.7 143.8,1130.2 112.2,1153.0 80.1,1176.2 47.4,1199.8 14.2,1223.7 -19.5,1248.0 -53.8,1272.7 -88.7,1297.8 -124.2,1323.3 -160.3,1349.1 -196.9,1375.3 -234.2,1401.9 -272.1,1428.8 -310.7,1456.2 -349.9,1483.9 -389.7,1511.9 -430.2,1540.4 -471.4,1569.2 -513.3,1598.4 -555.8,1628.0"/><polyline points="362.6,922.6 382.8,941.7 403.2,961.1 424.0,980.9 445.0,1001.1 466.4,1021.7 488.1,1042.6 510.1,1064.0 532.5,1085.7 555.2,1107.7 578.3,1130.2 601.8,1153.0 625.7,1176.2 650.0,1199.8 674.6,1223.7 699.7,1248.0 725.2,1272.7 751.2,1297.8 777.6,1323.3 804.5,1349.1 831.8,1375.3 859.6,1401.9 887.9,1428.8 916.8,1456.2 946.1,1483.9 975.9,1511.9 1006.3,1540.4 1037.2,1569.2 1068.7,1598.4 1100.7,1628.0"/><polyline points="457.2,922.6 430.4,941.7 403.2,961.1 375.6,980.9 347.5,1001.1 319.0,1021.7 290.0,1042.6 260.6,1064.0 230.7,1085.7 200.3,1107.7 169.4,1130.2 138.0,1153.0 106.1,1176.2 73.6,1199.8 40.7,1223.7 7.1,1248.0 -27.0,1272.7 -61.6,1297.8 -96.9,1323.3 -132.7,1349.1 -169.1,1375.3 -206.2,1401.9 -243.8,1428.8 -282.1,1456.2 -321.1,1483.9 -360.7,1511.9 -400.9,1540.4 -441.8,1569.2 -483.4,1598.4 -525.7,1628.0"/><polyline points="386.2,922.6 406.6,941.7 427.2,961.1 448.2,980.9 469.4,1001.1 491.0,1021.7 512.8,1042.6 535.1,1064.0 557.7,1085.7 580.6,1107.7 603.9,1130.2 627.6,1153.0 651.7,1176.2 676.2,1199.8 701.0,1223.7 726.4,1248.0 752.1,1272.7 778.3,1297.8 804.9,1323.3 832.0,1349.1 859.6,1375.3 887.7,1401.9 916.2,1428.8 945.3,1456.2 974.9,1483.9 1005.0,1511.9 1035.6,1540.4 1066.8,1569.2 1098.5,1598.4 1130.8,1628.0"/><polyline points="480.9,922.6 454.2,941.7 427.2,961.1 399.8,980.9 371.9,1001.1 343.6,1021.7 314.8,1042.6 285.6,1064.0 255.8,1085.7 225.6,1107.7 195.0,1130.2 163.8,1153.0 132.1,1176.2 99.8,1199.8 67.1,1223.7 33.8,1248.0 -0.1,1272.7 -34.5,1297.8 -69.5,1323.3 -105.1,1349.1 -141.3,1375.3 -178.1,1401.9 -215.5,1428.8 -253.6,1456.2 -292.3,1483.9 -331.6,1511.9 -371.6,1540.4 -412.2,1569.2 -453.6,1598.4 -495.6,1628.0"/><polyline points="409.9,922.6 430.4,941.7 451.2,961.1 472.3,980.9 493.8,1001.1 515.5,1021.7 537.6,1042.6 560.0,1064.0 582.8,1085.7 605.9,1107.7 629.5,1130.2 653.4,1153.0 677.7,1176.2 702.3,1199.8 727.5,1223.7 753.0,1248.0 779.0,1272.7 805.4,1297.8 832.3,1323.3 859.6,1349.1 887.4,1375.3 915.7,1401.9 944.5,1428.8 973.8,1456.2 1003.7,1483.9 1034.0,1511.9 1064.9,1540.4 1096.4,1569.2 1128.4,1598.4 1160.9,1628.0"/><polyline points="504.5,922.6 478.1,941.7 451.2,961.1 424.0,980.9 396.3,1001.1 368.1,1021.7 339.5,1042.6 310.5,1064.0 281.0,1085.7 251.0,1107.7 220.5,1130.2 189.5,1153.0 158.0,1176.2 126.0,1199.8 93.5,1223.7 60.4,1248.0 26.8,1272.7 -7.4,1297.8 -42.2,1323.3 -77.6,1349.1 -113.5,1375.3 -150.1,1401.9 -187.3,1428.8 -225.0,1456.2 -263.5,1483.9 -302.5,1511.9 -342.3,1540.4 -382.7,1569.2 -423.7,1598.4 -465.5,1628.0"/><polyline points="433.5,922.6 454.2,941.7 475.2,961.1 496.5,980.9 518.1,1001.1 540.1,1021.7 562.4,1042.6 585.0,1064.0 608.0,1085.7 631.3,1107.7 655.0,1130.2 679.1,1153.0 703.6,1176.2 728.5,1199.8 753.9,1223.7 779.6,1248.0 805.8,1272.7 832.5,1297.8 859.6,1323.3 887.2,1349.1 915.2,1375.3 943.8,1401.9 972.8,1428.8 1002.4,1456.2 1032.5,1483.9 1063.1,1511.9 1094.2,1540.4 1126.0,1569.2 1158.2,1598.4 1191.1,1628.0"/><polyline points="528.2,922.6 501.9,941.7 475.2,961.1 448.2,980.9 420.6,1001.1 392.7,1021.7 364.3,1042.6 335.5,1064.0 306.1,1085.7 276.4,1107.7 246.1,1130.2 215.3,1153.0 184.0,1176.2 152.2,1199.8 119.9,1223.7 87.0,1248.0 53.6,1272.7 19.6,1297.8 -14.9,1323.3 -50.0,1349.1 -85.7,1375.3 -122.0,1401.9 -159.0,1428.8 -196.5,1456.2 -234.7,1483.9 -273.5,1511.9 -313.0,1540.4 -353.1,1569.2 -393.9,1598.4 -435.4,1628.0"/><polyline points="457.2,922.6 478.1,941.7 499.2,961.1 520.7,980.9 542.5,1001.1 564.7,1021.7 587.1,1042.6 609.9,1064.0 633.1,1085.7 656.7,1107.7 680.6,1130.2 704.9,1153.0 729.6,1176.2 754.7,1199.8 780.3,1223.7 806.3,1248.0 832.7,1272.7 859.6,1297.8 886.9,1323.3 914.7,1349.1 943.0,1375.3 971.8,1401.9 1001.1,1428.8 1030.9,1456.2 1061.3,1483.9 1092.1,1511.9 1123.6,1540.4 1155.5,1569.2 1188.1,1598.4 1221.2,1628.0"/><polyline points="551.8,922.6 525.7,941.7 499.2,961.1 472.3,980.9 445.0,1001.1 417.3,1021.7 389.1,1042.6 360.4,1064.0 331.3,1085.7 301.7,1107.7 271.6,1130.2 241.1,1153.0 210.0,1176.2 178.4,1199.8 146.3,1223.7 113.7,1248.0 80.5,1272.7 46.7,1297.8 12.4,1323.3 -22.4,1349.1 -57.9,1375.3 -94.0,1401.9 -130.7,1428.8 -168.0,1456.2 -205.9,1483.9 -244.4,1511.9 -283.6,1540.4 -323.5,1569.2 -364.0,1598.4 -405.2,1628.0"/><polyline points="480.9,922.6 501.9,941.7 523.3,961.1 544.9,980.9 566.9,1001.1 589.2,1021.7 611.9,1042.6 634.9,1064.0 658.3,1085.7 682.0,1107.7 706.1,1130.2 730.7,1153.0 755.6,1176.2 780.9,1199.8 806.7,1223.7 832.9,1248.0 859.6,1272.7 886.7,1297.8 914.2,1323.3 942.3,1349.1 970.8,1375.3 999.9,1401.9 1029.4,1428.8 1059.5,1456.2 1090.1,1483.9 1121.2,1511.9 1152.9,1540.4 1185.1,1569.2 1217.9,1598.4 1251.3,1628.0"/><polyline points="575.5,922.6 549.6,941.7 523.3,961.1 496.5,980.9 469.4,1001.1 441.8,1021.7 413.8,1042.6 385.4,1064.0 356.4,1085.7 327.1,1107.7 297.2,1130.2 266.8,1153.0 236.0,1176.2 204.6,1199.8 172.7,1223.7 140.3,1248.0 107.4,1272.7 73.8,1297.8 39.8,1323.3 5.1,1349.1 -30.1,1375.3 -65.9,1401.9 -102.4,1428.8 -139.4,1456.2 -177.1,1483.9 -215.4,1511.9 -254.3,1540.4 -293.9,1569.2 -334.2,1598.4 -375.1,1628.0"/><polyline points="504.5,922.6 525.7,941.7 547.3,961.1 569.1,980.9 591.3,1001.1 613.8,1021.7 636.6,1042.6 659.8,1064.0 683.4,1085.7 707.4,1107.7 731.7,1130.2 756.4,1153.0 781.6,1176.2 807.1,1199.8 833.1,1223.7 859.6,1248.0 886.4,1272.7 913.8,1297.8 941.6,1323.3 969.9,1349.1 998.6,1375.3 1027.9,1401.9 1057.7,1428.8 1088.0,1456.2 1118.9,1483.9 1150.3,1511.9 1182.2,1540.4 1214.7,1569.2 1247.8,1598.4 1281.4,1628.0"/><polyline points="599.2,922.6 573.4,941.7 547.3,961.1 520.7,980.9 493.8,1001.1 466.4,1021.7 438.6,1042.6 410.3,1064.0 381.6,1085.7 352.4,1107.7 322.8,1130.2 292.6,1153.0 262.0,1176.2 230.8,1199.8 199.1,1223.7 167.0,1248.0 134.2,1272.7 100.9,1297.8 67.1,1323.3 32.7,1349.1 -2.3,1375.3 -37.9,1401.9 -74.1,1428.8 -110.9,1456.2 -148.3,1483.9 -186.3,1511.9 -225.0,1540.4 -264.3,1569.2 -304.3,1598.4 -345.0,1628.0"/><polyline points="528.2,922.6 549.6,941.7 571.3,961.1 593.3,980.9 615.7,1001.1 638.3,1021.7 661.4,1042.6 684.8,1064.0 708.6,1085.7 732.7,1107.7 757.3,1130.2 782.2,1153.0 807.6,1176.2 833.3,1199.8 859.5,1223.7 886.2,1248.0 913.3,1272.7 940.9,1297.8 968.9,1323.3 997.4,1349.1 1026.4,1375.3 1056.0,1401.9 1086.0,1428.8 1116.6,1456.2 1147.7,1483.9 1179.3,1511.9 1211.5,1540.4 1244.3,1569.2 1277.6,1598.4 1311.5,1628.0"/><polyline points="622.8,922.6 597.2,941.7 571.3,961.1 544.9,980.9 518.1,1001.1 491.0,1021.7 463.3,1042.6 435.3,1064.0 406.7,1085.7 377.8,1107.7 348.3,1130.2 318.4,1153.0 287.9,1176.2 257.0,1199.8 225.6,1223.7 193.6,1248.0 161.1,1272.7 128.0,1297.8 94.4,1323.3 60.2,1349.1 25.5,1375.3 -9.8,1401.9 -45.8,1428.8 -82.3,1456.2 -119.5,1483.9 -157.3,1511.9 -195.7,1540.4 -234.8,1569.2 -274.5,1598.4 -314.9,1628.0"/><polyline points="551.8,922.6 573.4,941.7 595.3,961.1 617.5,980.9 640.0,1001.1 662.9,1021.7 686.1,1042.6 709.7,1064.0 733.7,1085.7 758.1,1107.7 782.8,1130.2 808.0,1153.0 833.5,1176.2 859.5,1199.8 886.0,1223.7 912.8,1248.0 940.2,1272.7 968.0,1297.8 996.2,1323.3 1025.0,1349.1 1054.3,1375.3 1084.0,1401.9 1114.3,1428.8 1145.1,1456.2 1176.5,1483.9 1208.4,1511.9 1240.8,1540.4 1273.9,1569.2 1307.5,1598.4 1341.7,1628.0"/><polyline points="646.5,922.6 621.1,941.7 595.3,961.1 569.1,980.9 542.5,1001.1 515.5,1021.7 488.1,1042.6 460.2,1064.0 431.9,1085.7 403.1,1107.7 373.9,1130.2 344.1,1153.0 313.9,1176.2 283.2,1199.8 252.0,1223.7 220.2,1248.0 187.9,1272.7 155.1,1297.8 121.7,1323.3 87.8,1349.1 53.3,1375.3 18.2,1401.9 -17.5,1428.8 -53.8,1456.2 -90.7,1483.9 -128.2,1511.9 -166.4,1540.4 -205.2,1569.2 -244.6,1598.4 -284.8,1628.0"/><polyline points="575.5,922.6 597.2,941.7 619.3,961.1 641.7,980.9 664.4,1001.1 687.5,1021.7 710.9,1042.6 734.7,1064.0 758.9,1085.7 783.4,1107.7 808.4,1130.2 833.7,1153.0 859.5,1176.2 885.7,1199.8 912.4,1223.7 939.5,1248.0 967.0,1272.7 995.1,1297.8 1023.6,1323.3 1052.6,1349.1 1082.1,1375.3 1112.1,1401.9 1142.6,1428.8 1173.7,1456.2 1205.3,1483.9 1237.4,1511.9 1270.1,1540.4 1303.4,1569.2 1337.3,1598.4 1371.8,1628.0"/><polyline points="670.1,922.6 644.9,941.7 619.3,961.1 593.3,980.9 566.9,1001.1 540.1,1021.7 512.8,1042.6 485.2,1064.0 457.1,1085.7 428.5,1107.7 399.4,1130.2 369.9,1153.0 339.9,1176.2 309.4,1199.8 278.4,1223.7 246.9,1248.0 214.8,1272.7 182.2,1297.8 149.1,1323.3 115.4,1349.1 81.1,1375.3 46.3,1401.9 10.8,1428.8 -25.2,1456.2 -61.9,1483.9 -99.2,1511.9 -137.1,1540.4 -175.6,1569.2 -214.8,1598.4 -254.7,1628.0"/><polyline points="599.2,922.6 621.1,941.7 643.3,961.1 665.9,980.9 688.8,1001.1 712.0,1021.7 735.7,1042.6 759.6,1064.0 784.0,1085.7 808.8,1107.7 833.9,1130.2 859.5,1153.0 885.5,1176.2 911.9,1199.8 938.8,1223.7 966.1,1248.0 993.9,1272.7 1022.1,1297.8 1050.9,1323.3 1080.1,1349.1 1109.9,1375.3 1140.1,1401.9 1170.9,1428.8 1202.2,1456.2 1234.1,1483.9 1266.5,1511.9 1299.5,1540.4 1333.0,1569.2 1367.2,1598.4 1401.9,1628.0"/><polyline points="693.8,922.6 668.7,941.7 643.3,961.1 617.5,980.9 591.3,1001.1 564.7,1021.7 537.6,1042.6 510.1,1064.0 482.2,1085.7 453.8,1107.7 425.0,1130.2 395.7,1153.0 365.9,1176.2 335.6,1199.8 304.8,1223.7 273.5,1248.0 241.7,1272.7 209.3,1297.8 176.4,1323.3 142.9,1349.1 108.9,1375.3 74.3,1401.9 39.1,1428.8 3.3,1456.2 -33.1,1483.9 -70.1,1511.9 -107.7,1540.4 -146.0,1569.2 -184.9,1598.4 -224.5,1628.0"/><polyline points="622.8,922.6 644.9,941.7 667.3,961.1 690.1,980.9 713.2,1001.1 736.6,1021.7 760.4,1042.6 784.6,1064.0 809.2,1085.7 834.1,1107.7 859.5,1130.2 885.3,1153.0 911.5,1176.2 938.1,1199.8 965.2,1223.7 992.7,1248.0 1020.8,1272.7 1049.2,1297.8 1078.2,1323.3 1107.7,1349.1 1137.7,1375.3 1168.2,1401.9 1199.2,1428.8 1230.7,1456.2 1262.9,1483.9 1295.5,1511.9 1328.8,1540.4 1362.6,1569.2 1397.0,1598.4 1432.0,1628.0"/><polyline points="717.4,922.6 692.6,941.7 667.3,961.1 641.7,980.9 615.7,1001.1 589.2,1021.7 562.4,1042.6 535.1,1064.0 507.4,1085.7 479.2,1107.7 450.5,1130.2 421.4,1153.0 391.9,1176.2 361.8,1199.8 331.2,1223.7 300.1,1248.0 268.5,1272.7 236.4,1297.8 203.7,1323.3 170.5,1349.1 136.7,1375.3 102.3,1401.9 67.4,1428.8 31.9,1456.2 -4.3,1483.9 -41.0,1511.9 -78.4,1540.4 -116.4,1569.2 -155.1,1598.4 -194.4,1628.0"/><polyline points="646.5,922.6 668.7,941.7 691.3,961.1 714.3,980.9 737.5,1001.1 761.2,1021.7 785.2,1042.6 809.6,1064.0 834.3,1085.7 859.5,1107.7 885.0,1130.2 911.0,1153.0 937.5,1176.2 964.3,1199.8 991.6,1223.7 1019.4,1248.0 1047.6,1272.7 1076.3,1297.8 1105.5,1323.3 1135.3,1349.1 1165.5,1375.3 1196.2,1401.9 1227.5,1428.8 1259.3,1456.2 1291.7,1483.9 1324.6,1511.9 1358.1,1540.4 1392.2,1569.2 1426.9,1598.4 1462.1,1628.0"/><polyline points="741.1,922.6 716.4,941.7 691.3,961.1 665.9,980.9 640.0,1001.1 613.8,1021.7 587.1,1042.6 560.0,1064.0 532.5,1085.7 504.5,1107.7 476.1,1130.2 447.2,1153.0 417.8,1176.2 388.0,1199.8 357.6,1223.7 326.8,1248.0 295.4,1272.7 263.5,1297.8 231.1,1323.3 198.1,1349.1 164.5,1375.3 130.4,1401.9 95.7,1428.8 60.4,1456.2 24.5,1483.9 -12.0,1511.9 -49.1,1540.4 -86.9,1569.2 -125.2,1598.4 -164.3,1628.0"/><polyline points="670.1,922.6 692.6,941.7 715.3,961.1 738.5,980.9 761.9,1001.1 785.7,1021.7 809.9,1042.6 834.5,1064.0 859.5,1085.7 884.8,1107.7 910.6,1130.2 936.8,1153.0 963.4,1176.2 990.5,1199.8 1018.0,1223.7 1046.0,1248.0 1074.5,1272.7 1103.4,1297.8 1132.9,1323.3 1162.8,1349.1 1193.3,1375.3 1224.3,1401.9 1255.8,1428.8 1287.8,1456.2 1320.5,1483.9 1353.6,1511.9 1387.4,1540.4 1421.8,1569.2 1456.7,1598.4 1492.3,1628.0"/><polyline points="764.8,922.6 740.2,941.7 715.3,961.1 690.1,980.9 664.4,1001.1 638.3,1021.7 611.9,1042.6 585.0,1064.0 557.7,1085.7 529.9,1107.7 501.7,1130.2 473.0,1153.0 443.8,1176.2 414.2,1199.8 384.1,1223.7 353.4,1248.0 322.3,1272.7 290.6,1297.8 258.4,1323.3 225.6,1349.1 192.3,1375.3 158.4,1401.9 124.0,1428.8 89.0,1456.2 53.3,1483.9 17.1,1511.9 -19.8,1540.4 -57.3,1569.2 -95.4,1598.4 -134.2,1628.0"/><polyline points="693.8,922.6 716.4,941.7 739.4,961.1 762.6,980.9 786.3,1001.1 810.3,1021.7 834.7,1042.6 859.5,1064.0 884.6,1085.7 910.2,1107.7 936.2,1130.2 962.6,1153.0 989.4,1176.2 1016.7,1199.8 1044.5,1223.7 1072.7,1248.0 1101.4,1272.7 1130.5,1297.8 1160.2,1323.3 1190.4,1349.1 1221.1,1375.3 1252.3,1401.9 1284.1,1428.8 1316.4,1456.2 1349.3,1483.9 1382.7,1511.9 1416.7,1540.4 1451.3,1569.2 1486.6,1598.4 1522.4,1628.0"/><polyline points="788.4,922.6 764.1,941.7 739.4,961.1 714.3,980.9 688.8,1001.1 662.9,1021.7 636.6,1042.6 609.9,1064.0 582.8,1085.7 555.2,1107.7 527.2,1130.2 498.8,1153.0 469.8,1176.2 440.4,1199.8 410.5,1223.7 380.1,1248.0 349.1,1272.7 317.7,1297.8 285.7,1323.3 253.2,1349.1 220.1,1375.3 186.5,1401.9 152.3,1428.8 117.5,1456.2 82.1,1483.9 46.1,1511.9 9.5,1540.4 -27.7,1569.2 -65.6,1598.4 -104.1,1628.0"/><polyline points="717.4,922.6 740.2,941.7 763.4,961.1 786.8,980.9 810.7,1001.1 834.9,1021.7 859.4,1042.6 884.4,1064.0 909.8,1085.7 935.5,1107.7 961.7,1130.2 988.3,1153.0 1015.4,1176.2 1042.9,1199.8 1070.9,1223.7 1099.3,1248.0 1128.2,1272.7 1157.6,1297.8 1187.5,1323.3 1217.9,1349.1 1248.9,1375.3 1280.4,1401.9 1312.4,1428.8 1344.9,1456.2 1378.1,1483.9 1411.8,1511.9 1446.0,1540.4 1480.9,1569.2 1516.4,1598.4 1552.5,1628.0"/><polyline points="812.1,922.6 787.9,941.7 763.4,961.1 738.5,980.9 713.2,1001.1 687.5,1021.7 661.4,1042.6 634.9,1064.0 608.0,1085.7 580.6,1107.7 552.8,1130.2 524.5,1153.0 495.8,1176.2 466.6,1199.8 436.9,1223.7 406.7,1248.0 376.0,1272.7 344.8,1297.8 313.0,1323.3 280.8,1349.1 247.9,1375.3 214.5,1401.9 180.6,1428.8 146.0,1456.2 110.9,1483.9 75.2,1511.9 38.8,1540.4 1.9,1569.2 -35.7,1598.4 -73.9,1628.0"/><polyline points="741.1,922.6 764.1,941.7 787.4,961.1 811.0,980.9 835.0,1001.1 859.4,1021.7 884.2,1042.6 909.4,1064.0 934.9,1085.7 960.9,1107.7 987.3,1130.2 1014.1,1153.0 1041.4,1176.2 1069.1,1199.8 1097.3,1223.7 1125.9,1248.0 1155.1,1272.7 1184.7,1297.8 1214.9,1323.3 1245.5,1349.1 1276.7,1375.3 1308.4,1401.9 1340.7,1428.8 1373.5,1456.2 1406.9,1483.9 1440.8,1511.9 1475.4,1540.4 1510.5,1569.2 1546.2,1598.4 1582.6,1628.0"/><polyline points="835.7,922.6 811.7,941.7 787.4,961.1 762.6,980.9 737.5,1001.1 712.0,1021.7 686.1,1042.6 659.8,1064.0 633.1,1085.7 605.9,1107.7 578.3,1130.2 550.3,1153.0 521.8,1176.2 492.8,1199.8 463.3,1223.7 433.3,1248.0 402.9,1272.7 371.9,1297.8 340.4,1323.3 308.3,1349.1 275.7,1375.3 242.6,1401.9 208.9,1428.8 174.6,1456.2 139.7,1483.9 104.2,1511.9 68.2,1540.4 31.5,1569.2 -5.9,1598.4 -43.8,1628.0"/><polyline points="764.8,922.6 787.9,941.7 811.4,961.1 835.2,980.9 859.4,1001.1 884.0,1021.7 909.0,1042.6 934.3,1064.0 960.1,1085.7 986.2,1107.7 1012.8,1130.2 1039.9,1153.0 1067.4,1176.2 1095.3,1199.8 1123.7,1223.7 1152.6,1248.0 1181.9,1272.7 1211.8,1297.8 1242.2,1323.3 1273.1,1349.1 1304.5,1375.3 1336.4,1401.9 1369.0,1428.8 1402.0,1456.2 1435.7,1483.9 1469.9,1511.9 1504.7,1540.4 1540.1,1569.2 1576.1,1598.4 1612.7,1628.0"/><polyline points="859.4,922.6 835.6,941.7 811.4,961.1 786.8,980.9 761.9,1001.1 736.6,1021.7 710.9,1042.6 684.8,1064.0 658.3,1085.7 631.3,1107.7 603.9,1130.2 576.1,1153.0 547.8,1176.2 519.0,1199.8 489.7,1223.7 460.0,1248.0 429.7,1272.7 399.0,1297.8 367.7,1323.3 335.9,1349.1 303.5,1375.3 270.6,1401.9 237.2,1428.8 203.1,1456.2 168.5,1483.9 133.3,1511.9 97.5,1540.4 61.0,1569.2 24.0,1598.4 -13.7,1628.0"/><polyline points="788.4,922.6 811.7,941.7 835.4,961.1 859.4,980.9 883.8,1001.1 908.6,1021.7 933.7,1042.6 959.3,1064.0 985.2,1085.7 1011.6,1107.7 1038.4,1130.2 1065.6,1153.0 1093.3,1176.2 1121.5,1199.8 1150.1,1223.7 1179.2,1248.0 1208.8,1272.7 1238.9,1297.8 1269.5,1323.3 1300.6,1349.1 1332.3,1375.3 1364.5,1401.9 1397.2,1428.8 1430.6,1456.2 1464.5,1483.9 1498.9,1511.9 1534.0,1540.4 1569.7,1569.2 1605.9,1598.4 1642.9,1628.0"/><polyline points="883.0,922.6 859.4,941.7 835.4,961.1 811.0,980.9 786.3,1001.1 761.2,1021.7 735.7,1042.6 709.7,1064.0 683.4,1085.7 656.7,1107.7 629.5,1130.2 601.8,1153.0 573.7,1176.2 545.2,1199.8 516.1,1223.7 486.6,1248.0 456.6,1272.7 426.1,1297.8 395.0,1323.3 363.5,1349.1 331.3,1375.3 298.7,1401.9 265.5,1428.8 231.7,1456.2 197.3,1483.9 162.4,1511.9 126.8,1540.4 90.6,1569.2 53.8,1598.4 16.4,1628.0"/><polyline points="812.1,922.6 835.6,941.7 859.4,961.1 883.6,980.9 908.2,1001.1 933.1,1021.7 958.5,1042.6 984.2,1064.0 1010.4,1085.7 1037.0,1107.7 1064.0,1130.2 1091.4,1153.0 1119.3,1176.2 1147.7,1199.8 1176.5,1223.7 1205.9,1248.0 1235.7,1272.7 1266.0,1297.8 1296.8,1323.3 1328.2,1349.1 1360.1,1375.3 1392.5,1401.9 1425.5,1428.8 1459.1,1456.2 1493.3,1483.9 1528.0,1511.9 1563.3,1540.4 1599.2,1569.2 1635.8,1598.4 1673.0,1628.0"/><polyline points="906.7,922.6 883.2,941.7 859.4,961.1 835.2,980.9 810.7,1001.1 785.7,1021.7 760.4,1042.6 734.7,1064.0 708.6,1085.7 682.0,1107.7 655.0,1130.2 627.6,1153.0 599.7,1176.2 571.4,1199.8 542.6,1223.7 513.3,1248.0 483.5,1272.7 453.2,1297.8 422.4,1323.3 391.0,1349.1 359.1,1375.3 326.7,1401.9 293.8,1428.8 260.2,1456.2 226.1,1483.9 191.4,1511.9 156.1,1540.4 120.2,1569.2 83.7,1598.4 46.5,1628.0"/><polyline points="835.7,922.6 859.4,941.7 883.4,961.1 907.8,980.9 932.6,1001.1 957.7,1021.7 983.2,1042.6 1009.2,1064.0 1035.5,1085.7 1062.3,1107.7 1089.5,1130.2 1117.2,1153.0 1145.3,1176.2 1173.9,1199.8 1202.9,1223.7 1232.5,1248.0 1262.5,1272.7 1293.1,1297.8 1324.2,1323.3 1355.8,1349.1 1387.9,1375.3 1420.6,1401.9 1453.8,1428.8 1487.7,1456.2 1522.1,1483.9 1557.0,1511.9 1592.6,1540.4 1628.8,1569.2 1665.6,1598.4 1703.1,1628.0"/><polyline points="930.4,922.6 907.1,941.7 883.4,961.1 859.4,980.9 835.0,1001.1 810.3,1021.7 785.2,1042.6 759.6,1064.0 733.7,1085.7 707.4,1107.7 680.6,1130.2 653.4,1153.0 625.7,1176.2 597.6,1199.8 569.0,1223.7 539.9,1248.0 510.3,1272.7 480.3,1297.8 449.7,1323.3 418.6,1349.1 386.9,1375.3 354.8,1401.9 322.1,1428.8 288.8,1456.2 254.9,1483.9 220.5,1511.9 185.4,1540.4 149.8,1569.2 113.5,1598.4 76.7,1628.0"/><polyline points="859.4,922.6 883.2,941.7 907.4,961.1 932.0,980.9 956.9,1001.1 982.3,1021.7 1008.0,1042.6 1034.1,1064.0 1060.7,1085.7 1087.7,1107.7 1115.1,1130.2 1143.0,1153.0 1171.3,1176.2 1200.1,1199.8 1229.4,1223.7 1259.1,1248.0 1289.4,1272.7 1320.2,1297.8 1351.5,1323.3 1383.3,1349.1 1415.7,1375.3 1448.6,1401.9 1482.1,1428.8 1516.2,1456.2 1550.8,1483.9 1586.1,1511.9 1621.9,1540.4 1658.4,1569.2 1695.5,1598.4 1733.2,1628.0"/><polyline points="954.0,922.6 930.9,941.7 907.4,961.1 883.6,980.9 859.4,1001.1 834.9,1021.7 809.9,1042.6 784.6,1064.0 758.9,1085.7 732.7,1107.7 706.1,1130.2 679.1,1153.0 651.7,1176.2 623.8,1199.8 595.4,1223.7 566.5,1248.0 537.2,1272.7 507.4,1297.8 477.0,1323.3 446.1,1349.1 414.8,1375.3 382.8,1401.9 350.3,1428.8 317.3,1456.2 283.7,1483.9 249.5,1511.9 214.7,1540.4 179.4,1569.2 143.4,1598.4 106.8,1628.0"/><polyline points="883.0,922.6 907.1,941.7 931.4,961.1 956.2,980.9 981.3,1001.1 1006.8,1021.7 1032.7,1042.6 1059.1,1064.0 1085.8,1085.7 1113.0,1107.7 1140.6,1130.2 1168.7,1153.0 1197.3,1176.2 1226.3,1199.8 1255.8,1223.7 1285.8,1248.0 1316.3,1272.7 1347.3,1297.8 1378.8,1323.3 1410.9,1349.1 1443.5,1375.3 1476.7,1401.9 1510.4,1428.8 1544.7,1456.2 1579.6,1483.9 1615.1,1511.9 1651.3,1540.4 1688.0,1569.2 1725.3,1598.4 1763.3,1628.0"/><polyline points="977.7,922.6 954.7,941.7 931.4,961.1 907.8,980.9 883.8,1001.1 859.4,1021.7 834.7,1042.6 809.6,1064.0 784.0,1085.7 758.1,1107.7 731.7,1130.2 704.9,1153.0 677.7,1176.2 650.0,1199.8 621.8,1223.7 593.2,1248.0 564.1,1272.7 534.4,1297.8 504.3,1323.3 473.7,1349.1 442.6,1375.3 410.9,1401.9 378.6,1428.8 345.9,1456.2 312.5,1483.9 278.6,1511.9 244.1,1540.4 209.0,1569.2 173.2,1598.4 136.9,1628.0"/><polyline points="906.7,922.6 930.9,941.7 955.4,961.1 980.4,980.9 1005.7,1001.1 1031.4,1021.7 1057.5,1042.6 1084.0,1064.0 1111.0,1085.7 1138.4,1107.7 1166.2,1130.2 1194.5,1153.0 1223.2,1176.2 1252.5,1199.8 1282.2,1223.7 1312.4,1248.0 1343.1,1272.7 1374.4,1297.8 1406.1,1323.3 1438.5,1349.1 1471.3,1375.3 1504.7,1401.9 1538.7,1428.8 1573.3,1456.2 1608.4,1483.9 1644.2,1511.9 1680.6,1540.4 1717.6,1569.2 1755.2,1598.4 1793.5,1628.0"/><polyline points="1001.3,922.6 978.5,941.7 955.4,961.1 932.0,980.9 908.2,1001.1 884.0,1021.7 859.4,1042.6 834.5,1064.0 809.2,1085.7 783.4,1107.7 757.3,1130.2 730.7,1153.0 703.6,1176.2 676.2,1199.8 648.2,1223.7 619.8,1248.0 590.9,1272.7 561.5,1297.8 531.7,1323.3 501.3,1349.1 470.4,1375.3 438.9,1401.9 406.9,1428.8 374.4,1456.2 341.3,1483.9 307.6,1511.9 273.4,1540.4 238.5,1569.2 203.1,1598.4 167.0,1628.0"/><polyline points="930.4,922.6 954.7,941.7 979.5,961.1 1004.6,980.9 1030.1,1001.1 1056.0,1021.7 1082.3,1042.6 1109.0,1064.0 1136.1,1085.7 1163.7,1107.7 1191.8,1130.2 1220.3,1153.0 1249.2,1176.2 1278.7,1199.8 1308.6,1223.7 1339.0,1248.0 1370.0,1272.7 1401.5,1297.8 1433.5,1323.3 1466.0,1349.1 1499.1,1375.3 1532.8,1401.9 1567.0,1428.8 1601.8,1456.2 1637.2,1483.9 1673.3,1511.9 1709.9,1540.4 1747.1,1569.2 1785.0,1598.4 1823.6,1628.0"/><polyline points="1025.0,922.6 1002.4,941.7 979.5,961.1 956.2,980.9 932.6,1001.1 908.6,1021.7 884.2,1042.6 859.5,1064.0 834.3,1085.7 808.8,1107.7 782.8,1130.2 756.4,1153.0 729.6,1176.2 702.3,1199.8 674.6,1223.7 646.4,1248.0 617.8,1272.7 588.6,1297.8 559.0,1323.3 528.8,1349.1 498.2,1375.3 467.0,1401.9 435.2,1428.8 402.9,1456.2 370.1,1483.9 336.7,1511.9 302.7,1540.4 268.1,1569.2 232.9,1598.4 197.1,1628.0"/><polyline points="954.0,922.6 978.5,941.7 1003.5,961.1 1028.8,980.9 1054.4,1001.1 1080.5,1021.7 1107.0,1042.6 1133.9,1064.0 1161.3,1085.7 1189.1,1107.7 1217.3,1130.2 1246.0,1153.0 1275.2,1176.2 1304.9,1199.8 1335.0,1223.7 1365.7,1248.0 1396.9,1272.7 1428.6,1297.8 1460.8,1323.3 1493.6,1349.1 1526.9,1375.3 1560.8,1401.9 1595.3,1428.8 1630.4,1456.2 1666.0,1483.9 1702.3,1511.9 1739.2,1540.4 1776.7,1569.2 1814.9,1598.4 1853.7,1628.0"/><polyline points="1048.6,922.6 1026.2,941.7 1003.5,961.1 980.4,980.9 956.9,1001.1 933.1,1021.7 909.0,1042.6 884.4,1064.0 859.5,1085.7 834.1,1107.7 808.4,1130.2 782.2,1153.0 755.6,1176.2 728.5,1199.8 701.0,1223.7 673.1,1248.0 644.6,1272.7 615.7,1297.8 586.3,1323.3 556.4,1349.1 526.0,1375.3 495.0,1401.9 463.5,1428.8 431.5,1456.2 398.9,1483.9 365.7,1511.9 332.0,1540.4 297.7,1569.2 262.8,1598.4 227.3,1628.0"/><polyline points="977.7,922.6 1002.4,941.7 1027.5,961.1 1052.9,980.9 1078.8,1001.1 1105.1,1021.7 1131.8,1042.6 1158.9,1064.0 1186.4,1085.7 1214.4,1107.7 1242.9,1130.2 1271.8,1153.0 1301.2,1176.2 1331.1,1199.8 1361.4,1223.7 1392.3,1248.0 1423.7,1272.7 1455.7,1297.8 1488.1,1323.3 1521.2,1349.1 1554.7,1375.3 1588.9,1401.9 1623.6,1428.8 1658.9,1456.2 1694.8,1483.9 1731.4,1511.9 1768.5,1540.4 1806.3,1569.2 1844.7,1598.4 1883.8,1628.0"/><polyline points="1072.3,922.6 1050.0,941.7 1027.5,961.1 1004.6,980.9 981.3,1001.1 957.7,1021.7 933.7,1042.6 909.4,1064.0 884.6,1085.7 859.5,1107.7 833.9,1130.2 808.0,1153.0 781.6,1176.2 754.7,1199.8 727.5,1223.7 699.7,1248.0 671.5,1272.7 642.8,1297.8 613.6,1323.3 584.0,1349.1 553.8,1375.3 523.1,1401.9 491.8,1428.8 460.0,1456.2 427.7,1483.9 394.8,1511.9 361.3,1540.4 327.3,1569.2 292.6,1598.4 257.4,1628.0"/><polyline points="1001.3,922.6 1026.2,941.7 1051.5,961.1 1077.1,980.9 1103.2,1001.1 1129.6,1021.7 1156.5,1042.6 1183.8,1064.0 1211.6,1085.7 1239.8,1107.7 1268.4,1130.2 1297.6,1153.0 1327.2,1176.2 1357.3,1199.8 1387.9,1223.7 1419.0,1248.0 1450.6,1272.7 1482.8,1297.8 1515.5,1323.3 1548.7,1349.1 1582.5,1375.3 1616.9,1401.9 1651.9,1428.8 1687.5,1456.2 1723.6,1483.9 1760.4,1511.9 1797.8,1540.4 1835.9,1569.2 1874.6,1598.4 1913.9,1628.0"/><polyline points="1096.0,922.6 1073.9,941.7 1051.5,961.1 1028.8,980.9 1005.7,1001.1 982.3,1021.7 958.5,1042.6 934.3,1064.0 909.8,1085.7 884.8,1107.7 859.5,1130.2 833.7,1153.0 807.6,1176.2 780.9,1199.8 753.9,1223.7 726.4,1248.0 698.4,1272.7 669.9,1297.8 641.0,1323.3 611.5,1349.1 581.6,1375.3 551.1,1401.9 520.1,1428.8 488.6,1456.2 456.5,1483.9 423.9,1511.9 390.6,1540.4 356.9,1569.2 322.5,1598.4 287.5,1628.0"/><polyline points="1025.0,922.6 1050.0,941.7 1075.5,961.1 1101.3,980.9 1127.6,1001.1 1154.2,1021.7 1181.3,1042.6 1208.8,1064.0 1236.7,1085.7 1265.1,1107.7 1294.0,1130.2 1323.3,1153.0 1353.1,1176.2 1383.5,1199.8 1414.3,1223.7 1445.6,1248.0 1477.5,1272.7 1509.9,1297.8 1542.8,1323.3 1576.3,1349.1 1610.3,1375.3 1645.0,1401.9 1680.2,1428.8 1716.0,1456.2 1752.4,1483.9 1789.5,1511.9 1827.2,1540.4 1865.5,1569.2 1904.4,1598.4 1944.0,1628.0"/><polyline points="1119.6,922.6 1097.7,941.7 1075.5,961.1 1052.9,980.9 1030.1,1001.1 1006.8,1021.7 983.2,1042.6 959.3,1064.0 934.9,1085.7 910.2,1107.7 885.0,1130.2 859.5,1153.0 833.5,1176.2 807.1,1199.8 780.3,1223.7 753.0,1248.0 725.2,1272.7 697.0,1297.8 668.3,1323.3 639.1,1349.1 609.4,1375.3 579.2,1401.9 548.4,1428.8 517.1,1456.2 485.3,1483.9 452.9,1511.9 420.0,1540.4 386.4,1569.2 352.3,1598.4 317.6,1628.0"/><polyline points="1048.6,922.6 1073.9,941.7 1099.5,961.1 1125.5,980.9 1151.9,1001.1 1178.8,1021.7 1206.0,1042.6 1233.7,1064.0 1261.9,1085.7 1290.5,1107.7 1319.6,1130.2 1349.1,1153.0 1379.1,1176.2 1409.7,1199.8 1440.7,1223.7 1472.2,1248.0 1504.3,1272.7 1536.9,1297.8 1570.1,1323.3 1603.8,1349.1 1638.1,1375.3 1673.0,1401.9 1708.5,1428.8 1744.6,1456.2 1781.2,1483.9 1818.5,1511.9 1856.5,1540.4 1895.0,1569.2 1934.3,1598.4 1974.2,1628.0"/><polyline points="1143.3,922.6 1121.5,941.7 1099.5,961.1 1077.1,980.9 1054.4,1001.1 1031.4,1021.7 1008.0,1042.6 984.2,1064.0 960.1,1085.7 935.5,1107.7 910.6,1130.2 885.3,1153.0 859.5,1176.2 833.3,1199.8 806.7,1223.7 779.6,1248.0 752.1,1272.7 724.1,1297.8 695.6,1323.3 666.7,1349.1 637.2,1375.3 607.2,1401.9 576.7,1428.8 545.7,1456.2 514.1,1483.9 482.0,1511.9 449.3,1540.4 416.0,1569.2 382.2,1598.4 347.7,1628.0"/><polyline points="1072.3,922.6 1097.7,941.7 1123.5,961.1 1149.7,980.9 1176.3,1001.1 1203.3,1021.7 1230.8,1042.6 1258.7,1064.0 1287.0,1085.7 1315.8,1107.7 1345.1,1130.2 1374.9,1153.0 1405.1,1176.2 1435.8,1199.8 1467.1,1223.7 1498.9,1248.0 1531.2,1272.7 1564.0,1297.8 1597.4,1323.3 1631.4,1349.1 1665.9,1375.3 1701.1,1401.9 1736.8,1428.8 1773.1,1456.2 1810.0,1483.9 1847.6,1511.9 1885.8,1540.4 1924.6,1569.2 1964.1,1598.4 2004.3,1628.0"/><polyline points="1166.9,922.6 1145.4,941.7 1123.5,961.1 1101.3,980.9 1078.8,1001.1 1056.0,1021.7 1032.7,1042.6 1009.2,1064.0 985.2,1085.7 960.9,1107.7 936.2,1130.2 911.0,1153.0 885.5,1176.2 859.5,1199.8 833.1,1223.7 806.3,1248.0 779.0,1272.7 751.2,1297.8 723.0,1323.3 694.2,1349.1 665.0,1375.3 635.3,1401.9 605.0,1428.8 574.2,1456.2 542.9,1483.9 511.0,1511.9 478.6,1540.4 445.6,1569.2 412.0,1598.4 377.9,1628.0"/><polyline points="1096.0,922.6 1121.5,941.7 1147.5,961.1 1173.9,980.9 1200.7,1001.1 1227.9,1021.7 1255.6,1042.6 1283.6,1064.0 1312.2,1085.7 1341.2,1107.7 1370.7,1130.2 1400.6,1153.0 1431.1,1176.2 1462.0,1199.8 1493.5,1223.7 1525.5,1248.0 1558.1,1272.7 1591.1,1297.8 1624.8,1323.3 1659.0,1349.1 1693.8,1375.3 1729.1,1401.9 1765.1,1428.8 1801.6,1456.2 1838.8,1483.9 1876.7,1511.9 1915.1,1540.4 1954.2,1569.2 1994.0,1598.4 2034.4,1628.0"/><polyline points="1190.6,922.6 1169.2,941.7 1147.5,961.1 1125.5,980.9 1103.2,1001.1 1080.5,1021.7 1057.5,1042.6 1034.1,1064.0 1010.4,1085.7 986.2,1107.7 961.7,1130.2 936.8,1153.0 911.5,1176.2 885.7,1199.8 859.5,1223.7 832.9,1248.0 805.8,1272.7 778.3,1297.8 750.3,1323.3 721.8,1349.1 692.8,1375.3 663.3,1401.9 633.3,1428.8 602.8,1456.2 571.7,1483.9 540.1,1511.9 507.9,1540.4 475.2,1569.2 441.9,1598.4 408.0,1628.0"/><polyline points="1119.6,922.6 1145.4,941.7 1171.5,961.1 1198.1,980.9 1225.1,1001.1 1252.5,1021.7 1280.3,1042.6 1308.6,1064.0 1337.3,1085.7 1366.5,1107.7 1396.2,1130.2 1426.4,1153.0 1457.1,1176.2 1488.2,1199.8 1519.9,1223.7 1552.2,1248.0 1584.9,1272.7 1618.2,1297.8 1652.1,1323.3 1686.5,1349.1 1721.6,1375.3 1757.2,1401.9 1793.4,1428.8 1830.2,1456.2 1867.6,1483.9 1905.7,1511.9 1944.4,1540.4 1983.8,1569.2 2023.8,1598.4 2064.5,1628.0"/><polyline points="1214.2,922.6 1193.0,941.7 1171.5,961.1 1149.7,980.9 1127.6,1001.1 1105.1,1021.7 1082.3,1042.6 1059.1,1064.0 1035.5,1085.7 1011.6,1107.7 987.3,1130.2 962.6,1153.0 937.5,1176.2 911.9,1199.8 886.0,1223.7 859.6,1248.0 832.7,1272.7 805.4,1297.8 777.6,1323.3 749.4,1349.1 720.6,1375.3 691.3,1401.9 661.6,1428.8 631.3,1456.2 600.5,1483.9 569.1,1511.9 537.2,1540.4 504.8,1569.2 471.7,1598.4 438.1,1628.0"/><polyline points="1143.3,922.6 1169.2,941.7 1195.5,961.1 1222.3,980.9 1249.4,1001.1 1277.0,1021.7 1305.1,1042.6 1333.5,1064.0 1362.5,1085.7 1391.9,1107.7 1421.8,1130.2 1452.2,1153.0 1483.0,1176.2 1514.4,1199.8 1546.4,1223.7 1578.8,1248.0 1611.8,1272.7 1645.3,1297.8 1679.4,1323.3 1714.1,1349.1 1749.4,1375.3 1785.2,1401.9 1821.7,1428.8 1858.7,1456.2 1896.4,1483.9 1934.8,1511.9 1973.7,1540.4 2013.4,1569.2 2053.7,1598.4 2094.6,1628.0"/><polyline points="1237.9,922.6 1216.9,941.7 1195.5,961.1 1173.9,980.9 1151.9,1001.1 1129.6,1021.7 1107.0,1042.6 1084.0,1064.0 1060.7,1085.7 1037.0,1107.7 1012.8,1130.2 988.3,1153.0 963.4,1176.2 938.1,1199.8 912.4,1223.7 886.2,1248.0 859.6,1272.7 832.5,1297.8 804.9,1323.3 776.9,1349.1 748.4,1375.3 719.4,1401.9 689.9,1428.8 659.9,1456.2 629.3,1483.9 598.2,1511.9 566.5,1540.4 534.3,1569.2 501.6,1598.4 468.2,1628.0"/><polyline points="1166.9,922.6 1193.0,941.7 1219.6,961.1 1246.5,980.9 1273.8,1001.1 1301.6,1021.7 1329.8,1042.6 1358.5,1064.0 1387.6,1085.7 1417.2,1107.7 1447.3,1130.2 1477.9,1153.0 1509.0,1176.2 1540.6,1199.8 1572.8,1223.7 1605.4,1248.0 1638.6,1272.7 1672.4,1297.8 1706.8,1323.3 1741.7,1349.1 1777.2,1375.3 1813.3,1401.9 1850.0,1428.8 1887.3,1456.2 1925.2,1483.9 1963.8,1511.9 2003.1,1540.4 2043.0,1569.2 2083.5,1598.4 2124.8,1628.0"/><polyline points="1261.6,922.6 1240.7,941.7 1219.6,961.1 1198.1,980.9 1176.3,1001.1 1154.2,1021.7 1131.8,1042.6 1109.0,1064.0 1085.8,1085.7 1062.3,1107.7 1038.4,1130.2 1014.1,1153.0 989.4,1176.2 964.3,1199.8 938.8,1223.7 912.8,1248.0 886.4,1272.7 859.6,1297.8 832.3,1323.3 804.5,1349.1 776.2,1375.3 747.4,1401.9 718.2,1428.8 688.4,1456.2 658.1,1483.9 627.2,1511.9 595.9,1540.4 563.9,1569.2 531.4,1598.4 498.3,1628.0"/><polyline points="1190.6,922.6 1216.9,941.7 1243.6,961.1 1270.7,980.9 1298.2,1001.1 1326.2,1021.7 1354.6,1042.6 1383.5,1064.0 1412.8,1085.7 1442.6,1107.7 1472.9,1130.2 1503.7,1153.0 1535.0,1176.2 1566.8,1199.8 1599.2,1223.7 1632.1,1248.0 1665.5,1272.7 1699.5,1297.8 1734.1,1323.3 1769.2,1349.1 1805.0,1375.3 1841.3,1401.9 1878.3,1428.8 1915.8,1456.2 1954.0,1483.9 1992.9,1511.9 2032.4,1540.4 2072.5,1569.2 2113.4,1598.4 2154.9,1628.0"/><polyline points="1285.2,922.6 1264.5,941.7 1243.6,961.1 1222.3,980.9 1200.7,1001.1 1178.8,1021.7 1156.5,1042.6 1133.9,1064.0 1111.0,1085.7 1087.7,1107.7 1064.0,1130.2 1039.9,1153.0 1015.4,1176.2 990.5,1199.8 965.2,1223.7 939.5,1248.0 913.3,1272.7 886.7,1297.8 859.6,1323.3 832.0,1349.1 804.0,1375.3 775.5,1401.9 746.5,1428.8 716.9,1456.2 686.9,1483.9 656.3,1511.9 625.2,1540.4 593.5,1569.2 561.3,1598.4 528.4,1628.0"/><polyline points="1214.2,922.6 1240.7,941.7 1267.6,961.1 1294.9,980.9 1322.6,1001.1 1350.7,1021.7 1379.3,1042.6 1408.4,1064.0 1437.9,1085.7 1468.0,1107.7 1498.5,1130.2 1529.5,1153.0 1561.0,1176.2 1593.0,1199.8 1625.6,1223.7 1658.7,1248.0 1692.4,1272.7 1726.6,1297.8 1761.4,1323.3 1796.8,1349.1 1832.8,1375.3 1869.4,1401.9 1906.6,1428.8 1944.4,1456.2 1982.8,1483.9 2021.9,1511.9 2061.7,1540.4 2102.1,1569.2 2143.2,1598.4 2185.0,1628.0"/><polyline points="1308.9,922.6 1288.4,941.7 1267.6,961.1 1246.5,980.9 1225.1,1001.1 1203.3,1021.7 1181.3,1042.6 1158.9,1064.0 1136.1,1085.7 1113.0,1107.7 1089.5,1130.2 1065.6,1153.0 1041.4,1176.2 1016.7,1199.8 991.6,1223.7 966.1,1248.0 940.2,1272.7 913.8,1297.8 886.9,1323.3 859.6,1349.1 831.8,1375.3 803.5,1401.9 774.8,1428.8 745.5,1456.2 715.7,1483.9 685.4,1511.9 654.5,1540.4 623.1,1569.2 591.1,1598.4 558.6,1628.0"/><polyline points="1237.9,922.6 1264.5,941.7 1291.6,961.1 1319.1,980.9 1347.0,1001.1 1375.3,1021.7 1404.1,1042.6 1433.4,1064.0 1463.1,1085.7 1493.3,1107.7 1524.0,1130.2 1555.2,1153.0 1587.0,1176.2 1619.2,1199.8 1652.0,1223.7 1685.4,1248.0 1719.2,1272.7 1753.7,1297.8 1788.7,1323.3 1824.4,1349.1 1860.6,1375.3 1897.4,1401.9 1934.8,1428.8 1972.9,1456.2 2011.6,1483.9 2051.0,1511.9 2091.0,1540.4 2131.7,1569.2 2173.1,1598.4 2215.1,1628.0"/><polyline points="1332.5,922.6 1312.2,941.7 1291.6,961.1 1270.7,980.9 1249.4,1001.1 1227.9,1021.7 1206.0,1042.6 1183.8,1064.0 1161.3,1085.7 1138.4,1107.7 1115.1,1130.2 1091.4,1153.0 1067.4,1176.2 1042.9,1199.8 1018.0,1223.7 992.7,1248.0 967.0,1272.7 940.9,1297.8 914.2,1323.3 887.2,1349.1 859.6,1375.3 831.6,1401.9 803.1,1428.8 774.0,1456.2 744.5,1483.9 714.4,1511.9 683.8,1540.4 652.7,1569.2 621.0,1598.4 588.7,1628.0"/><polyline points="1261.6,922.6 1288.4,941.7 1315.6,961.1 1343.2,980.9 1371.3,1001.1 1399.9,1021.7 1428.9,1042.6 1458.3,1064.0 1488.2,1085.7 1518.7,1107.7 1549.6,1130.2 1581.0,1153.0 1612.9,1176.2 1645.4,1199.8 1678.4,1223.7 1712.0,1248.0 1746.1,1272.7 1780.8,1297.8 1816.1,1323.3 1851.9,1349.1 1888.4,1375.3 1925.5,1401.9 1963.1,1428.8 2001.5,1456.2 2040.4,1483.9 2080.0,1511.9 2120.3,1540.4 2161.3,1569.2 2202.9,1598.4 2245.2,1628.0"/><polyline points="1356.2,922.6 1336.0,941.7 1315.6,961.1 1294.9,980.9 1273.8,1001.1 1252.5,1021.7 1230.8,1042.6 1208.8,1064.0 1186.4,1085.7 1163.7,1107.7 1140.6,1130.2 1117.2,1153.0 1093.3,1176.2 1069.1,1199.8 1044.5,1223.7 1019.4,1248.0 993.9,1272.7 968.0,1297.8 941.6,1323.3 914.7,1349.1 887.4,1375.3 859.6,1401.9 831.4,1428.8 802.6,1456.2 773.3,1483.9 743.5,1511.9 713.1,1540.4 682.2,1569.2 650.8,1598.4 618.8,1628.0"/><polyline points="1285.2,922.6 1312.2,941.7 1339.6,961.1 1367.4,980.9 1395.7,1001.1 1424.4,1021.7 1453.6,1042.6 1483.3,1064.0 1513.4,1085.7 1544.0,1107.7 1575.1,1130.2 1606.8,1153.0 1638.9,1176.2 1671.6,1199.8 1704.8,1223.7 1738.6,1248.0 1773.0,1272.7 1807.9,1297.8 1843.4,1323.3 1879.5,1349.1 1916.2,1375.3 1953.5,1401.9 1991.4,1428.8 2030.0,1456.2 2069.2,1483.9 2109.1,1511.9 2149.6,1540.4 2190.9,1569.2 2232.8,1598.4 2275.4,1628.0"/><polyline points="1379.8,922.6 1359.9,941.7 1339.6,961.1 1319.1,980.9 1298.2,1001.1 1277.0,1021.7 1255.6,1042.6 1233.7,1064.0 1211.6,1085.7 1189.1,1107.7 1166.2,1130.2 1143.0,1153.0 1119.3,1176.2 1095.3,1199.8 1070.9,1223.7 1046.0,1248.0 1020.8,1272.7 995.1,1297.8 968.9,1323.3 942.3,1349.1 915.2,1375.3 887.7,1401.9 859.7,1428.8 831.1,1456.2 802.1,1483.9 772.5,1511.9 742.4,1540.4 711.8,1569.2 680.7,1598.4 648.9,1628.0"/><polyline points="1308.9,922.6 1336.0,941.7 1363.6,961.1 1391.6,980.9 1420.1,1001.1 1449.0,1021.7 1478.4,1042.6 1508.2,1064.0 1538.5,1085.7 1569.4,1107.7 1600.7,1130.2 1632.5,1153.0 1664.9,1176.2 1697.8,1199.8 1731.3,1223.7 1765.3,1248.0 1799.8,1272.7 1835.0,1297.8 1870.7,1323.3 1907.1,1349.1 1944.0,1375.3 1981.5,1401.9 2019.7,1428.8 2058.6,1456.2 2098.0,1483.9 2138.2,1511.9 2179.0,1540.4 2220.4,1569.2 2262.6,1598.4 2305.5,1628.0"/><polyline points="1403.5,922.6 1383.7,941.7 1363.6,961.1 1343.2,980.9 1322.6,1001.1 1301.6,1021.7 1280.3,1042.6 1258.7,1064.0 1236.7,1085.7 1214.4,1107.7 1191.8,1130.2 1168.7,1153.0 1145.3,1176.2 1121.5,1199.8 1097.3,1223.7 1072.7,1248.0 1047.6,1272.7 1022.1,1297.8 996.2,1323.3 969.9,1349.1 943.0,1375.3 915.7,1401.9 887.9,1428.8 859.7,1456.2 830.9,1483.9 801.6,1511.9 771.8,1540.4 741.4,1569.2 710.5,1598.4 679.0,1628.0"/><polyline points="1332.5,922.6 1359.9,941.7 1387.6,961.1 1415.8,980.9 1444.5,1001.1 1473.6,1021.7 1503.1,1042.6 1533.2,1064.0 1563.7,1085.7 1594.7,1107.7 1626.3,1130.2 1658.3,1153.0 1690.9,1176.2 1724.0,1199.8 1757.7,1223.7 1791.9,1248.0 1826.7,1272.7 1862.1,1297.8 1898.0,1323.3 1934.6,1349.1 1971.8,1375.3 2009.6,1401.9 2048.0,1428.8 2087.1,1456.2 2126.8,1483.9 2167.2,1511.9 2208.3,1540.4 2250.0,1569.2 2292.5,1598.4 2335.6,1628.0"/><polyline points="1427.2,922.6 1407.5,941.7 1387.6,961.1 1367.4,980.9 1347.0,1001.1 1326.2,1021.7 1305.1,1042.6 1283.6,1064.0 1261.9,1085.7 1239.8,1107.7 1217.3,1130.2 1194.5,1153.0 1171.3,1176.2 1147.7,1199.8 1123.7,1223.7 1099.3,1248.0 1074.5,1272.7 1049.2,1297.8 1023.6,1323.3 997.4,1349.1 970.8,1375.3 943.8,1401.9 916.2,1428.8 888.2,1456.2 859.7,1483.9 830.6,1511.9 801.1,1540.4 771.0,1569.2 740.3,1598.4 709.2,1628.0"/><polyline points="1356.2,922.6 1383.7,941.7 1411.6,961.1 1440.0,980.9 1468.8,1001.1 1498.1,1021.7 1527.9,1042.6 1558.1,1064.0 1588.8,1085.7 1620.1,1107.7 1651.8,1130.2 1684.1,1153.0 1716.9,1176.2 1750.2,1199.8 1784.1,1223.7 1818.5,1248.0 1853.6,1272.7 1889.2,1297.8 1925.4,1323.3 1962.2,1349.1 1999.6,1375.3 2037.6,1401.9 2076.3,1428.8 2115.6,1456.2 2155.6,1483.9 2196.3,1511.9 2237.6,1540.4 2279.6,1569.2 2322.3,1598.4 2365.7,1628.0"/><polyline points="1450.8,922.6 1431.4,941.7 1411.6,961.1 1391.6,980.9 1371.3,1001.1 1350.7,1021.7 1329.8,1042.6 1308.6,1064.0 1287.0,1085.7 1265.1,1107.7 1242.9,1130.2 1220.3,1153.0 1197.3,1176.2 1173.9,1199.8 1150.1,1223.7 1125.9,1248.0 1101.4,1272.7 1076.3,1297.8 1050.9,1323.3 1025.0,1349.1 998.6,1375.3 971.8,1401.9 944.5,1428.8 916.8,1456.2 888.5,1483.9 859.7,1511.9 830.4,1540.4 800.6,1569.2 770.2,1598.4 739.3,1628.0"/><polyline points="1379.8,922.6 1407.5,941.7 1435.6,961.1 1464.2,980.9 1493.2,1001.1 1522.7,1021.7 1552.6,1042.6 1583.1,1064.0 1614.0,1085.7 1645.4,1107.7 1677.4,1130.2 1709.8,1153.0 1742.9,1176.2 1776.4,1199.8 1810.5,1223.7 1845.2,1248.0 1880.4,1272.7 1916.3,1297.8 1952.7,1323.3 1989.7,1349.1 2027.4,1375.3 2065.7,1401.9 2104.6,1428.8 2144.2,1456.2 2184.4,1483.9 2225.3,1511.9 2266.9,1540.4 2309.2,1569.2 2352.2,1598.4 2395.8,1628.0"/><polyline points="1474.5,922.6 1455.2,941.7 1435.6,961.1 1415.8,980.9 1395.7,1001.1 1375.3,1021.7 1354.6,1042.6 1333.5,1064.0 1312.2,1085.7 1290.5,1107.7 1268.4,1130.2 1246.0,1153.0 1223.2,1176.2 1200.1,1199.8 1176.5,1223.7 1152.6,1248.0 1128.2,1272.7 1103.4,1297.8 1078.2,1323.3 1052.6,1349.1 1026.4,1375.3 999.9,1401.9 972.8,1428.8 945.3,1456.2 917.3,1483.9 888.8,1511.9 859.7,1540.4 830.1,1569.2 800.0,1598.4 769.4,1628.0"/><polyline points="1403.5,922.6 1431.4,941.7 1459.7,961.1 1488.4,980.9 1517.6,1001.1 1547.3,1021.7 1577.4,1042.6 1608.0,1064.0 1639.1,1085.7 1670.8,1107.7 1702.9,1130.2 1735.6,1153.0 1768.8,1176.2 1802.6,1199.8 1836.9,1223.7 1871.8,1248.0 1907.3,1272.7 1943.4,1297.8 1980.0,1323.3 2017.3,1349.1 2055.2,1375.3 2093.7,1401.9 2132.9,1428.8 2172.7,1456.2 2213.2,1483.9 2254.4,1511.9 2296.2,1540.4 2338.8,1569.2 2382.0,1598.4 2426.0,1628.0"/><polyline points="1498.1,922.6 1479.0,941.7 1459.7,961.1 1440.0,980.9 1420.1,1001.1 1399.9,1021.7 1379.3,1042.6 1358.5,1064.0 1337.3,1085.7 1315.8,1107.7 1294.0,1130.2 1271.8,1153.0 1249.2,1176.2 1226.3,1199.8 1202.9,1223.7 1179.2,1248.0 1155.1,1272.7 1130.5,1297.8 1105.5,1323.3 1080.1,1349.1 1054.3,1375.3 1027.9,1401.9 1001.1,1428.8 973.8,1456.2 946.1,1483.9 917.8,1511.9 889.0,1540.4 859.7,1569.2 829.9,1598.4 799.5,1628.0"/><polyline points="1427.2,922.6 1455.2,941.7 1483.7,961.1 1512.6,980.9 1542.0,1001.1 1571.8,1021.7 1602.2,1042.6 1633.0,1064.0 1664.3,1085.7 1696.1,1107.7 1728.5,1130.2 1761.4,1153.0 1794.8,1176.2 1828.8,1199.8 1863.3,1223.7 1898.5,1248.0 1934.2,1272.7 1970.5,1297.8 2007.4,1323.3 2044.9,1349.1 2083.0,1375.3 2121.8,1401.9 2161.2,1428.8 2201.3,1456.2 2242.0,1483.9 2283.4,1511.9 2325.5,1540.4 2368.3,1569.2 2411.8,1598.4 2456.1,1628.0"/><polyline points="1521.8,922.6 1502.9,941.7 1483.7,961.1 1464.2,980.9 1444.5,1001.1 1424.4,1021.7 1404.1,1042.6 1383.5,1064.0 1362.5,1085.7 1341.2,1107.7 1319.6,1130.2 1297.6,1153.0 1275.2,1176.2 1252.5,1199.8 1229.4,1223.7 1205.9,1248.0 1181.9,1272.7 1157.6,1297.8 1132.9,1323.3 1107.7,1349.1 1082.1,1375.3 1056.0,1401.9 1029.4,1428.8 1002.4,1456.2 974.9,1483.9 946.9,1511.9 918.3,1540.4 889.3,1569.2 859.7,1598.4 829.6,1628.0"/><polyline points="1450.8,922.6 1479.0,941.7 1507.7,961.1 1536.8,980.9 1566.3,1001.1 1596.4,1021.7 1626.9,1042.6 1657.9,1064.0 1689.5,1085.7 1721.5,1107.7 1754.1,1130.2 1787.1,1153.0 1820.8,1176.2 1855.0,1199.8 1889.8,1223.7 1925.1,1248.0 1961.0,1272.7 1997.6,1297.8 2034.7,1323.3 2072.4,1349.1 2110.8,1375.3 2149.8,1401.9 2189.5,1428.8 2229.8,1456.2 2270.8,1483.9 2312.5,1511.9 2354.9,1540.4 2397.9,1569.2 2441.7,1598.4 2486.2,1628.0"/><polyline points="1545.4,922.6 1526.7,941.7 1507.7,961.1 1488.4,980.9 1468.8,1001.1 1449.0,1021.7 1428.9,1042.6 1408.4,1064.0 1387.6,1085.7 1366.5,1107.7 1345.1,1130.2 1323.3,1153.0 1301.2,1176.2 1278.7,1199.8 1255.8,1223.7 1232.5,1248.0 1208.8,1272.7 1184.7,1297.8 1160.2,1323.3 1135.3,1349.1 1109.9,1375.3 1084.0,1401.9 1057.7,1428.8 1030.9,1456.2 1003.7,1483.9 975.9,1511.9 947.7,1540.4 918.9,1569.2 889.6,1598.4 859.8,1628.0"/><polyline points="1474.5,922.6 1502.9,941.7 1531.7,961.1 1561.0,980.9 1590.7,1001.1 1621.0,1021.7 1651.7,1042.6 1682.9,1064.0 1714.6,1085.7 1746.8,1107.7 1779.6,1130.2 1812.9,1153.0 1846.8,1176.2 1881.2,1199.8 1916.2,1223.7 1951.7,1248.0 1987.9,1272.7 2024.6,1297.8 2062.0,1323.3 2100.0,1349.1 2138.6,1375.3 2177.9,1401.9 2217.8,1428.8 2258.4,1456.2 2299.6,1483.9 2341.5,1511.9 2384.2,1540.4 2427.5,1569.2 2471.5,1598.4 2516.3,1628.0"/><polyline points="1569.1,922.6 1550.5,941.7 1531.7,961.1 1512.6,980.9 1493.2,1001.1 1473.6,1021.7 1453.6,1042.6 1433.4,1064.0 1412.8,1085.7 1391.9,1107.7 1370.7,1130.2 1349.1,1153.0 1327.2,1176.2 1304.9,1199.8 1282.2,1223.7 1259.1,1248.0 1235.7,1272.7 1211.8,1297.8 1187.5,1323.3 1162.8,1349.1 1137.7,1375.3 1112.1,1401.9 1086.0,1428.8 1059.5,1456.2 1032.5,1483.9 1005.0,1511.9 977.0,1540.4 948.5,1569.2 919.4,1598.4 889.9,1628.0"/><polyline points="1498.1,922.6 1526.7,941.7 1555.7,961.1 1585.2,980.9 1615.1,1001.1 1645.5,1021.7 1676.4,1042.6 1707.8,1064.0 1739.8,1085.7 1772.2,1107.7 1805.2,1130.2 1838.7,1153.0 1872.8,1176.2 1907.4,1199.8 1942.6,1223.7 1978.4,1248.0 2014.8,1272.7 2051.7,1297.8 2089.3,1323.3 2127.6,1349.1 2166.4,1375.3 2205.9,1401.9 2246.1,1428.8 2286.9,1456.2 2328.4,1483.9 2370.6,1511.9 2413.5,1540.4 2457.1,1569.2 2501.4,1598.4 2546.4,1628.0"/><polyline points="1592.8,922.6 1574.3,941.7 1555.7,961.1 1536.8,980.9 1517.6,1001.1 1498.1,1021.7 1478.4,1042.6 1458.3,1064.0 1437.9,1085.7 1417.2,1107.7 1396.2,1130.2 1374.9,1153.0 1353.1,1176.2 1331.1,1199.8 1308.6,1223.7 1285.8,1248.0 1262.5,1272.7 1238.9,1297.8 1214.9,1323.3 1190.4,1349.1 1165.5,1375.3 1140.1,1401.9 1114.3,1428.8 1088.0,1456.2 1061.3,1483.9 1034.0,1511.9 1006.3,1540.4 978.0,1569.2 949.3,1598.4 920.0,1628.0"/><polyline points="1521.8,922.6 1550.5,941.7 1579.7,961.1 1609.4,980.9 1639.5,1001.1 1670.1,1021.7 1701.2,1042.6 1732.8,1064.0 1764.9,1085.7 1797.5,1107.7 1830.7,1130.2 1864.5,1153.0 1898.7,1176.2 1933.6,1199.8 1969.0,1223.7 2005.0,1248.0 2041.6,1272.7 2078.8,1297.8 2116.7,1323.3 2155.1,1349.1 2194.2,1375.3 2234.0,1401.9 2274.4,1428.8 2315.5,1456.2 2357.2,1483.9 2399.7,1511.9 2442.8,1540.4 2486.7,1569.2 2531.2,1598.4 2576.5,1628.0"/><polyline points="1616.4,922.6 1598.2,941.7 1579.7,961.1 1561.0,980.9 1542.0,1001.1 1522.7,1021.7 1503.1,1042.6 1483.3,1064.0 1463.1,1085.7 1442.6,1107.7 1421.8,1130.2 1400.6,1153.0 1379.1,1176.2 1357.3,1199.8 1335.0,1223.7 1312.4,1248.0 1289.4,1272.7 1266.0,1297.8 1242.2,1323.3 1217.9,1349.1 1193.3,1375.3 1168.2,1401.9 1142.6,1428.8 1116.6,1456.2 1090.1,1483.9 1063.1,1511.9 1035.6,1540.4 1007.6,1569.2 979.1,1598.4 950.1,1628.0"/><polyline points="1545.4,922.6 1574.3,941.7 1603.7,961.1 1633.5,980.9 1663.9,1001.1 1694.6,1021.7 1725.9,1042.6 1757.7,1064.0 1790.1,1085.7 1822.9,1107.7 1856.3,1130.2 1890.2,1153.0 1924.7,1176.2 1959.8,1199.8 1995.4,1223.7 2031.7,1248.0 2068.5,1272.7 2105.9,1297.8 2144.0,1323.3 2182.7,1349.1 2222.0,1375.3 2262.0,1401.9 2302.7,1428.8 2344.0,1456.2 2386.0,1483.9 2428.7,1511.9 2472.1,1540.4 2516.2,1569.2 2561.1,1598.4 2606.7,1628.0"/><polyline points="1640.1,922.6 1622.0,941.7 1603.7,961.1 1585.2,980.9 1566.3,1001.1 1547.3,1021.7 1527.9,1042.6 1508.2,1064.0 1488.2,1085.7 1468.0,1107.7 1447.3,1130.2 1426.4,1153.0 1405.1,1176.2 1383.5,1199.8 1361.4,1223.7 1339.0,1248.0 1316.3,1272.7 1293.1,1297.8 1269.5,1323.3 1245.5,1349.1 1221.1,1375.3 1196.2,1401.9 1170.9,1428.8 1145.1,1456.2 1118.9,1483.9 1092.1,1511.9 1064.9,1540.4 1037.2,1569.2 1009.0,1598.4 980.2,1628.0"/><polyline points="1569.1,922.6 1598.2,941.7 1627.7,961.1 1657.7,980.9 1688.2,1001.1 1719.2,1021.7 1750.7,1042.6 1782.7,1064.0 1815.2,1085.7 1848.3,1107.7 1881.8,1130.2 1916.0,1153.0 1950.7,1176.2 1986.0,1199.8 2021.8,1223.7 2058.3,1248.0 2095.4,1272.7 2133.0,1297.8 2171.3,1323.3 2210.3,1349.1 2249.8,1375.3 2290.1,1401.9 2331.0,1428.8 2372.5,1456.2 2414.8,1483.9 2457.8,1511.9 2501.4,1540.4 2545.8,1569.2 2590.9,1598.4 2636.8,1628.0"/><polyline points="1663.7,922.6 1645.8,941.7 1627.7,961.1 1609.4,980.9 1590.7,1001.1 1571.8,1021.7 1552.6,1042.6 1533.2,1064.0 1513.4,1085.7 1493.3,1107.7 1472.9,1130.2 1452.2,1153.0 1431.1,1176.2 1409.7,1199.8 1387.9,1223.7 1365.7,1248.0 1343.1,1272.7 1320.2,1297.8 1296.8,1323.3 1273.1,1349.1 1248.9,1375.3 1224.3,1401.9 1199.2,1428.8 1173.7,1456.2 1147.7,1483.9 1121.2,1511.9 1094.2,1540.4 1066.8,1569.2 1038.8,1598.4 1010.4,1628.0"/><polyline points="1592.8,922.6 1622.0,941.7 1651.7,961.1 1681.9,980.9 1712.6,1001.1 1743.8,1021.7 1775.5,1042.6 1807.6,1064.0 1840.4,1085.7 1873.6,1107.7 1907.4,1130.2 1941.8,1153.0 1976.7,1176.2 2012.2,1199.8 2048.3,1223.7 2084.9,1248.0 2122.2,1272.7 2160.1,1297.8 2198.7,1323.3 2237.8,1349.1 2277.6,1375.3 2318.1,1401.9 2359.3,1428.8 2401.1,1456.2 2443.6,1483.9 2486.8,1511.9 2530.8,1540.4 2575.4,1569.2 2620.8,1598.4 2666.9,1628.0"/><polyline points="1687.4,922.6 1669.7,941.7 1651.7,961.1 1633.5,980.9 1615.1,1001.1 1596.4,1021.7 1577.4,1042.6 1558.1,1064.0 1538.5,1085.7 1518.7,1107.7 1498.5,1130.2 1477.9,1153.0 1457.1,1176.2 1435.8,1199.8 1414.3,1223.7 1392.3,1248.0 1370.0,1272.7 1347.3,1297.8 1324.2,1323.3 1300.6,1349.1 1276.7,1375.3 1252.3,1401.9 1227.5,1428.8 1202.2,1456.2 1176.5,1483.9 1150.3,1511.9 1123.6,1540.4 1096.4,1569.2 1068.7,1598.4 1040.5,1628.0"/><polyline points="1616.4,922.6 1645.8,941.7 1675.7,961.1 1706.1,980.9 1737.0,1001.1 1768.3,1021.7 1800.2,1042.6 1832.6,1064.0 1865.5,1085.7 1899.0,1107.7 1933.0,1130.2 1967.5,1153.0 2002.7,1176.2 2038.4,1199.8 2074.7,1223.7 2111.6,1248.0 2149.1,1272.7 2187.2,1297.8 2226.0,1323.3 2265.4,1349.1 2305.4,1375.3 2346.2,1401.9 2387.6,1428.8 2429.6,1456.2 2472.4,1483.9 2515.9,1511.9 2560.1,1540.4 2605.0,1569.2 2650.6,1598.4 2697.0,1628.0"/><polyline points="1711.0,922.6 1693.5,941.7 1675.7,961.1 1657.7,980.9 1639.5,1001.1 1621.0,1021.7 1602.2,1042.6 1583.1,1064.0 1563.7,1085.7 1544.0,1107.7 1524.0,1130.2 1503.7,1153.0 1483.0,1176.2 1462.0,1199.8 1440.7,1223.7 1419.0,1248.0 1396.9,1272.7 1374.4,1297.8 1351.5,1323.3 1328.2,1349.1 1304.5,1375.3 1280.4,1401.9 1255.8,1428.8 1230.7,1456.2 1205.3,1483.9 1179.3,1511.9 1152.9,1540.4 1126.0,1569.2 1098.5,1598.4 1070.6,1628.0"/><polyline points="1640.1,922.6 1669.7,941.7 1699.8,961.1 1730.3,980.9 1761.4,1001.1 1792.9,1021.7 1825.0,1042.6 1857.5,1064.0 1890.7,1085.7 1924.3,1107.7 1958.5,1130.2 1993.3,1153.0 2028.6,1176.2 2064.6,1199.8 2101.1,1223.7 2138.2,1248.0 2175.9,1272.7 2214.3,1297.8 2253.3,1323.3 2293.0,1349.1 2333.2,1375.3 2374.2,1401.9 2415.9,1428.8 2458.2,1456.2 2501.2,1483.9 2544.9,1511.9 2589.4,1540.4 2634.6,1569.2 2680.5,1598.4 2727.1,1628.0"/><polyline points="1734.7,922.6 1717.3,941.7 1699.8,961.1 1681.9,980.9 1663.9,1001.1 1645.5,1021.7 1626.9,1042.6 1608.0,1064.0 1588.8,1085.7 1569.4,1107.7 1549.6,1130.2 1529.5,1153.0 1509.0,1176.2 1488.2,1199.8 1467.1,1223.7 1445.6,1248.0 1423.7,1272.7 1401.5,1297.8 1378.8,1323.3 1355.8,1349.1 1332.3,1375.3 1308.4,1401.9 1284.1,1428.8 1259.3,1456.2 1234.1,1483.9 1208.4,1511.9 1182.2,1540.4 1155.5,1569.2 1128.4,1598.4 1100.7,1628.0"/><polyline points="1663.7,922.6 1693.5,941.7 1723.8,961.1 1754.5,980.9 1785.7,1001.1 1817.5,1021.7 1849.7,1042.6 1882.5,1064.0 1915.8,1085.7 1949.7,1107.7 1984.1,1130.2 2019.1,1153.0 2054.6,1176.2 2090.8,1199.8 2127.5,1223.7 2164.8,1248.0 2202.8,1272.7 2241.4,1297.8 2280.6,1323.3 2320.5,1349.1 2361.1,1375.3 2402.3,1401.9 2444.2,1428.8 2486.7,1456.2 2530.0,1483.9 2574.0,1511.9 2618.7,1540.4 2664.1,1569.2 2710.3,1598.4 2757.3,1628.0"/><polyline points="1758.4,922.6 1741.2,941.7 1723.8,961.1 1706.1,980.9 1688.2,1001.1 1670.1,1021.7 1651.7,1042.6 1633.0,1064.0 1614.0,1085.7 1594.7,1107.7 1575.1,1130.2 1555.2,1153.0 1535.0,1176.2 1514.4,1199.8 1493.5,1223.7 1472.2,1248.0 1450.6,1272.7 1428.6,1297.8 1406.1,1323.3 1383.3,1349.1 1360.1,1375.3 1336.4,1401.9 1312.4,1428.8 1287.8,1456.2 1262.9,1483.9 1237.4,1511.9 1211.5,1540.4 1185.1,1569.2 1158.2,1598.4 1130.8,1628.0"/><polyline points="1687.4,922.6 1717.3,941.7 1747.8,961.1 1778.7,980.9 1810.1,1001.1 1842.0,1021.7 1874.5,1042.6 1907.5,1064.0 1941.0,1085.7 1975.0,1107.7 2009.6,1130.2 2044.8,1153.0 2080.6,1176.2 2117.0,1199.8 2153.9,1223.7 2191.5,1248.0 2229.7,1272.7 2268.5,1297.8 2308.0,1323.3 2348.1,1349.1 2388.9,1375.3 2430.3,1401.9 2472.4,1428.8 2515.3,1456.2 2558.8,1483.9 2603.1,1511.9 2648.0,1540.4 2693.7,1569.2 2740.2,1598.4 2787.4,1628.0"/><polyline points="1782.0,922.6 1765.0,941.7 1747.8,961.1 1730.3,980.9 1712.6,1001.1 1694.6,1021.7 1676.4,1042.6 1657.9,1064.0 1639.1,1085.7 1620.1,1107.7 1600.7,1130.2 1581.0,1153.0 1561.0,1176.2 1540.6,1199.8 1519.9,1223.7 1498.9,1248.0 1477.5,1272.7 1455.7,1297.8 1433.5,1323.3 1410.9,1349.1 1387.9,1375.3 1364.5,1401.9 1340.7,1428.8 1316.4,1456.2 1291.7,1483.9 1266.5,1511.9 1240.8,1540.4 1214.7,1569.2 1188.1,1598.4 1160.9,1628.0"/><polyline points="1711.0,922.6 1741.2,941.7 1771.8,961.1 1802.9,980.9 1834.5,1001.1 1866.6,1021.7 1899.2,1042.6 1932.4,1064.0 1966.1,1085.7 2000.4,1107.7 2035.2,1130.2 2070.6,1153.0 2106.6,1176.2 2143.2,1199.8 2180.3,1223.7 2218.1,1248.0 2256.5,1272.7 2295.6,1297.8 2335.3,1323.3 2375.6,1349.1 2416.7,1375.3 2458.4,1401.9 2500.7,1428.8 2543.8,1456.2 2587.6,1483.9 2632.1,1511.9 2677.3,1540.4 2723.3,1569.2 2770.0,1598.4 2817.5,1628.0"/><polyline points="1805.7,922.6 1788.8,941.7 1771.8,961.1 1754.5,980.9 1737.0,1001.1 1719.2,1021.7 1701.2,1042.6 1682.9,1064.0 1664.3,1085.7 1645.4,1107.7 1626.3,1130.2 1606.8,1153.0 1587.0,1176.2 1566.8,1199.8 1546.4,1223.7 1525.5,1248.0 1504.3,1272.7 1482.8,1297.8 1460.8,1323.3 1438.5,1349.1 1415.7,1375.3 1392.5,1401.9 1369.0,1428.8 1344.9,1456.2 1320.5,1483.9 1295.5,1511.9 1270.1,1540.4 1244.3,1569.2 1217.9,1598.4 1191.1,1628.0"/><polyline points="1734.7,922.6 1765.0,941.7 1795.8,961.1 1827.1,980.9 1858.9,1001.1 1891.2,1021.7 1924.0,1042.6 1957.4,1064.0 1991.3,1085.7 2025.7,1107.7 2060.8,1130.2 2096.4,1153.0 2132.6,1176.2 2169.3,1199.8 2206.7,1223.7 2244.8,1248.0 2283.4,1272.7 2322.7,1297.8 2362.6,1323.3 2403.2,1349.1 2444.5,1375.3 2486.4,1401.9 2529.0,1428.8 2572.4,1456.2 2616.4,1483.9 2661.2,1511.9 2706.7,1540.4 2752.9,1569.2 2799.9,1598.4 2847.6,1628.0"/><polyline points="1829.3,922.6 1812.7,941.7 1795.8,961.1 1778.7,980.9 1761.4,1001.1 1743.8,1021.7 1725.9,1042.6 1707.8,1064.0 1689.5,1085.7 1670.8,1107.7 1651.8,1130.2 1632.5,1153.0 1612.9,1176.2 1593.0,1199.8 1572.8,1223.7 1552.2,1248.0 1531.2,1272.7 1509.9,1297.8 1488.1,1323.3 1466.0,1349.1 1443.5,1375.3 1420.6,1401.9 1397.2,1428.8 1373.5,1456.2 1349.3,1483.9 1324.6,1511.9 1299.5,1540.4 1273.9,1569.2 1247.8,1598.4 1221.2,1628.0"/><polyline points="1758.4,922.6 1788.8,941.7 1819.8,961.1 1851.3,980.9 1883.2,1001.1 1915.7,1021.7 1948.8,1042.6 1982.3,1064.0 2016.4,1085.7 2051.1,1107.7 2086.3,1130.2 2122.1,1153.0 2158.5,1176.2 2195.5,1199.8 2233.2,1223.7 2271.4,1248.0 2310.3,1272.7 2349.8,1297.8 2389.9,1323.3 2430.8,1349.1 2472.3,1375.3 2514.5,1401.9 2557.3,1428.8 2600.9,1456.2 2645.2,1483.9 2690.2,1511.9 2736.0,1540.4 2782.5,1569.2 2829.7,1598.4 2877.7,1628.0"/><polyline points="1853.0,922.6 1836.5,941.7 1819.8,961.1 1802.9,980.9 1785.7,1001.1 1768.3,1021.7 1750.7,1042.6 1732.8,1064.0 1714.6,1085.7 1696.1,1107.7 1677.4,1130.2 1658.3,1153.0 1638.9,1176.2 1619.2,1199.8 1599.2,1223.7 1578.8,1248.0 1558.1,1272.7 1536.9,1297.8 1515.5,1323.3 1493.6,1349.1 1471.3,1375.3 1448.6,1401.9 1425.5,1428.8 1402.0,1456.2 1378.1,1483.9 1353.6,1511.9 1328.8,1540.4 1303.4,1569.2 1277.6,1598.4 1251.3,1628.0"/><polyline points="1782.0,922.6 1812.7,941.7 1843.8,961.1 1875.5,980.9 1907.6,1001.1 1940.3,1021.7 1973.5,1042.6 2007.3,1064.0 2041.6,1085.7 2076.4,1107.7 2111.9,1130.2 2147.9,1153.0 2184.5,1176.2 2221.7,1199.8 2259.6,1223.7 2298.0,1248.0 2337.1,1272.7 2376.9,1297.8 2417.3,1323.3 2458.3,1349.1 2500.1,1375.3 2542.5,1401.9 2585.6,1428.8 2629.5,1456.2 2674.0,1483.9 2719.3,1511.9 2765.3,1540.4 2812.1,1569.2 2859.6,1598.4 2907.9,1628.0"/><polyline points="1876.6,922.6 1860.3,941.7 1843.8,961.1 1827.1,980.9 1810.1,1001.1 1792.9,1021.7 1775.5,1042.6 1757.7,1064.0 1739.8,1085.7 1721.5,1107.7 1702.9,1130.2 1684.1,1153.0 1664.9,1176.2 1645.4,1199.8 1625.6,1223.7 1605.4,1248.0 1584.9,1272.7 1564.0,1297.8 1542.8,1323.3 1521.2,1349.1 1499.1,1375.3 1476.7,1401.9 1453.8,1428.8 1430.6,1456.2 1406.9,1483.9 1382.7,1511.9 1358.1,1540.4 1333.0,1569.2 1307.5,1598.4 1281.4,1628.0"/><polyline points="1805.7,922.6 1836.5,941.7 1867.8,961.1 1899.7,980.9 1932.0,1001.1 1964.9,1021.7 1998.3,1042.6 2032.2,1064.0 2066.7,1085.7 2101.8,1107.7 2137.4,1130.2 2173.7,1153.0 2210.5,1176.2 2247.9,1199.8 2286.0,1223.7 2324.7,1248.0 2364.0,1272.7 2404.0,1297.8 2444.6,1323.3 2485.9,1349.1 2527.9,1375.3 2570.5,1401.9 2613.9,1428.8 2658.0,1456.2 2702.8,1483.9 2748.3,1511.9 2794.6,1540.4 2841.6,1569.2 2889.4,1598.4 2938.0,1628.0"/><polyline points="1900.3,922.6 1884.2,941.7 1867.8,961.1 1851.3,980.9 1834.5,1001.1 1817.5,1021.7 1800.2,1042.6 1782.7,1064.0 1764.9,1085.7 1746.8,1107.7 1728.5,1130.2 1709.8,1153.0 1690.9,1176.2 1671.6,1199.8 1652.0,1223.7 1632.1,1248.0 1611.8,1272.7 1591.1,1297.8 1570.1,1323.3 1548.7,1349.1 1526.9,1375.3 1504.7,1401.9 1482.1,1428.8 1459.1,1456.2 1435.7,1483.9 1411.8,1511.9 1387.4,1540.4 1362.6,1569.2 1337.3,1598.4 1311.5,1628.0"/><polyline points="1829.3,922.6 1860.3,941.7 1891.8,961.1 1923.8,980.9 1956.4,1001.1 1989.4,1021.7 2023.0,1042.6 2057.2,1064.0 2091.9,1085.7 2127.1,1107.7 2163.0,1130.2 2199.4,1153.0 2236.5,1176.2 2274.1,1199.8 2312.4,1223.7 2351.3,1248.0 2390.9,1272.7 2431.1,1297.8 2471.9,1323.3 2513.5,1349.1 2555.7,1375.3 2598.6,1401.9 2642.2,1428.8 2686.5,1456.2 2731.6,1483.9 2777.4,1511.9 2823.9,1540.4 2871.2,1569.2 2919.3,1598.4 2968.1,1628.0"/><polyline points="1924.0,922.6 1908.0,941.7 1891.8,961.1 1875.5,980.9 1858.9,1001.1 1842.0,1021.7 1825.0,1042.6 1807.6,1064.0 1790.1,1085.7 1772.2,1107.7 1754.1,1130.2 1735.6,1153.0 1716.9,1176.2 1697.8,1199.8 1678.4,1223.7 1658.7,1248.0 1638.6,1272.7 1618.2,1297.8 1597.4,1323.3 1576.3,1349.1 1554.7,1375.3 1532.8,1401.9 1510.4,1428.8 1487.7,1456.2 1464.5,1483.9 1440.8,1511.9 1416.7,1540.4 1392.2,1569.2 1367.2,1598.4 1341.7,1628.0"/><polyline points="1853.0,922.6 1884.2,941.7 1915.8,961.1 1948.0,980.9 1980.7,1001.1 2014.0,1021.7 2047.8,1042.6 2082.1,1064.0 2117.0,1085.7 2152.5,1107.7 2188.6,1130.2 2225.2,1153.0 2262.5,1176.2 2300.3,1199.8 2338.8,1223.7 2378.0,1248.0 2417.7,1272.7 2458.2,1297.8 2499.3,1323.3 2541.0,1349.1 2583.5,1375.3 2626.6,1401.9 2670.5,1428.8 2715.1,1456.2 2760.4,1483.9 2806.4,1511.9 2853.2,1540.4 2900.8,1569.2 2949.1,1598.4 2998.2,1628.0"/><polyline points="1947.6,922.6 1931.8,941.7 1915.8,961.1 1899.7,980.9 1883.2,1001.1 1866.6,1021.7 1849.7,1042.6 1832.6,1064.0 1815.2,1085.7 1797.5,1107.7 1779.6,1130.2 1761.4,1153.0 1742.9,1176.2 1724.0,1199.8 1704.8,1223.7 1685.4,1248.0 1665.5,1272.7 1645.3,1297.8 1624.8,1323.3 1603.8,1349.1 1582.5,1375.3 1560.8,1401.9 1538.7,1428.8 1516.2,1456.2 1493.3,1483.9 1469.9,1511.9 1446.0,1540.4 1421.8,1569.2 1397.0,1598.4 1371.8,1628.0"/><polyline points="1876.6,922.6 1908.0,941.7 1939.9,961.1 1972.2,980.9 2005.1,1001.1 2038.6,1021.7 2072.5,1042.6 2107.1,1064.0 2142.2,1085.7 2177.8,1107.7 2214.1,1130.2 2251.0,1153.0 2288.4,1176.2 2326.5,1199.8 2365.2,1223.7 2404.6,1248.0 2444.6,1272.7 2485.3,1297.8 2526.6,1323.3 2568.6,1349.1 2611.3,1375.3 2654.7,1401.9 2698.8,1428.8 2743.6,1456.2 2789.2,1483.9 2835.5,1511.9 2882.6,1540.4 2930.4,1569.2 2979.0,1598.4 3028.3,1628.0"/><polyline points="1971.3,922.6 1955.7,941.7 1939.9,961.1 1923.8,980.9 1907.6,1001.1 1891.2,1021.7 1874.5,1042.6 1857.5,1064.0 1840.4,1085.7 1822.9,1107.7 1805.2,1130.2 1787.1,1153.0 1768.8,1176.2 1750.2,1199.8 1731.3,1223.7 1712.0,1248.0 1692.4,1272.7 1672.4,1297.8 1652.1,1323.3 1631.4,1349.1 1610.3,1375.3 1588.9,1401.9 1567.0,1428.8 1544.7,1456.2 1522.1,1483.9 1498.9,1511.9 1475.4,1540.4 1451.3,1569.2 1426.9,1598.4 1401.9,1628.0"/><polyline points="1900.3,922.6 1931.8,941.7 1963.9,961.1 1996.4,980.9 2029.5,1001.1 2063.1,1021.7 2097.3,1042.6 2132.0,1064.0 2167.3,1085.7 2203.2,1107.7 2239.7,1130.2 2276.7,1153.0 2314.4,1176.2 2352.7,1199.8 2391.7,1223.7 2431.2,1248.0 2471.5,1272.7 2512.3,1297.8 2553.9,1323.3 2596.2,1349.1 2639.1,1375.3 2682.7,1401.9 2727.1,1428.8 2772.2,1456.2 2818.0,1483.9 2864.6,1511.9 2911.9,1540.4 2960.0,1569.2 3008.8,1598.4 3058.5,1628.0"/><polyline points="1994.9,922.6 1979.5,941.7 1963.9,961.1 1948.0,980.9 1932.0,1001.1 1915.7,1021.7 1899.2,1042.6 1882.5,1064.0 1865.5,1085.7 1848.3,1107.7 1830.7,1130.2 1812.9,1153.0 1794.8,1176.2 1776.4,1199.8 1757.7,1223.7 1738.6,1248.0 1719.2,1272.7 1699.5,1297.8 1679.4,1323.3 1659.0,1349.1 1638.1,1375.3 1616.9,1401.9 1595.3,1428.8 1573.3,1456.2 1550.8,1483.9 1528.0,1511.9 1504.7,1540.4 1480.9,1569.2 1456.7,1598.4 1432.0,1628.0"/><polyline points="1924.0,922.6 1955.7,941.7 1987.9,961.1 2020.6,980.9 2053.9,1001.1 2087.7,1021.7 2122.0,1042.6 2157.0,1064.0 2192.5,1085.7 2228.6,1107.7 2265.2,1130.2 2302.5,1153.0 2340.4,1176.2 2378.9,1199.8 2418.1,1223.7 2457.9,1248.0 2498.3,1272.7 2539.4,1297.8 2581.2,1323.3 2623.7,1349.1 2666.9,1375.3 2710.8,1401.9 2755.4,1428.8 2800.7,1456.2 2846.8,1483.9 2893.6,1511.9 2941.2,1540.4 2989.5,1569.2 3038.7,1598.4 3088.6,1628.0"/><polyline points="2018.6,922.6 2003.3,941.7 1987.9,961.1 1972.2,980.9 1956.4,1001.1 1940.3,1021.7 1924.0,1042.6 1907.5,1064.0 1890.7,1085.7 1873.6,1107.7 1856.3,1130.2 1838.7,1153.0 1820.8,1176.2 1802.6,1199.8 1784.1,1223.7 1765.3,1248.0 1746.1,1272.7 1726.6,1297.8 1706.8,1323.3 1686.5,1349.1 1665.9,1375.3 1645.0,1401.9 1623.6,1428.8 1601.8,1456.2 1579.6,1483.9 1557.0,1511.9 1534.0,1540.4 1510.5,1569.2 1486.6,1598.4 1462.1,1628.0"/><polyline points="1947.6,922.6 1979.5,941.7 2011.9,961.1 2044.8,980.9 2078.3,1001.1 2112.3,1021.7 2146.8,1042.6 2181.9,1064.0 2217.6,1085.7 2253.9,1107.7 2290.8,1130.2 2328.3,1153.0 2366.4,1176.2 2405.1,1199.8 2444.5,1223.7 2484.5,1248.0 2525.2,1272.7 2566.5,1297.8 2608.6,1323.3 2651.3,1349.1 2694.7,1375.3 2738.8,1401.9 2783.7,1428.8 2829.3,1456.2 2875.6,1483.9 2922.7,1511.9 2970.5,1540.4 3019.1,1569.2 3068.5,1598.4 3118.7,1628.0"/><polyline points="2042.2,922.6 2027.2,941.7 2011.9,961.1 1996.4,980.9 1980.7,1001.1 1964.9,1021.7 1948.8,1042.6 1932.4,1064.0 1915.8,1085.7 1899.0,1107.7 1881.8,1130.2 1864.5,1153.0 1846.8,1176.2 1828.8,1199.8 1810.5,1223.7 1791.9,1248.0 1773.0,1272.7 1753.7,1297.8 1734.1,1323.3 1714.1,1349.1 1693.8,1375.3 1673.0,1401.9 1651.9,1428.8 1630.4,1456.2 1608.4,1483.9 1586.1,1511.9 1563.3,1540.4 1540.1,1569.2 1516.4,1598.4 1492.3,1628.0"/><polyline points="1971.3,922.6 2003.3,941.7 2035.9,961.1 2069.0,980.9 2102.6,1001.1 2136.8,1021.7 2171.6,1042.6 2206.9,1064.0 2242.8,1085.7 2279.3,1107.7 2316.3,1130.2 2354.0,1153.0 2392.4,1176.2 2431.3,1199.8 2470.9,1223.7 2511.1,1248.0 2552.1,1272.7 2593.6,1297.8 2635.9,1323.3 2678.9,1349.1 2722.5,1375.3 2766.9,1401.9 2812.0,1428.8 2857.8,1456.2 2904.4,1483.9 2951.7,1511.9 2999.8,1540.4 3048.7,1569.2 3098.4,1598.4 3148.8,1628.0"/><polyline points="2065.9,922.6 2051.0,941.7 2035.9,961.1 2020.6,980.9 2005.1,1001.1 1989.4,1021.7 1973.5,1042.6 1957.4,1064.0 1941.0,1085.7 1924.3,1107.7 1907.4,1130.2 1890.2,1153.0 1872.8,1176.2 1855.0,1199.8 1836.9,1223.7 1818.5,1248.0 1799.8,1272.7 1780.8,1297.8 1761.4,1323.3 1741.7,1349.1 1721.6,1375.3 1701.1,1401.9 1680.2,1428.8 1658.9,1456.2 1637.2,1483.9 1615.1,1511.9 1592.6,1540.4 1569.7,1569.2 1546.2,1598.4 1522.4,1628.0"/><polyline points="1994.9,922.6 2027.2,941.7 2059.9,961.1 2093.2,980.9 2127.0,1001.1 2161.4,1021.7 2196.3,1042.6 2231.8,1064.0 2267.9,1085.7 2304.6,1107.7 2341.9,1130.2 2379.8,1153.0 2418.3,1176.2 2457.5,1199.8 2497.3,1223.7 2537.8,1248.0 2578.9,1272.7 2620.7,1297.8 2663.2,1323.3 2706.4,1349.1 2750.3,1375.3 2794.9,1401.9 2840.3,1428.8 2886.4,1456.2 2933.2,1483.9 2980.8,1511.9 3029.1,1540.4 3078.3,1569.2 3128.2,1598.4 3178.9,1628.0"/><polyline points="2089.6,922.6 2074.8,941.7 2059.9,961.1 2044.8,980.9 2029.5,1001.1 2014.0,1021.7 1998.3,1042.6 1982.3,1064.0 1966.1,1085.7 1949.7,1107.7 1933.0,1130.2 1916.0,1153.0 1898.7,1176.2 1881.2,1199.8 1863.3,1223.7 1845.2,1248.0 1826.7,1272.7 1807.9,1297.8 1788.7,1323.3 1769.2,1349.1 1749.4,1375.3 1729.1,1401.9 1708.5,1428.8 1687.5,1456.2 1666.0,1483.9 1644.2,1511.9 1621.9,1540.4 1599.2,1569.2 1576.1,1598.4 1552.5,1628.0"/></g>
<g fill="#2e2e2e"><circle cx="763.4" cy="961.1" r="2.6"/><circle cx="787.4" cy="961.1" r="2.6"/><circle cx="811.4" cy="961.1" r="2.6"/><circle cx="835.4" cy="961.1" r="2.6"/><circle cx="859.4" cy="961.1" r="2.6"/><circle cx="883.4" cy="961.1" r="2.6"/><circle cx="907.4" cy="961.1" r="2.6"/><circle cx="931.4" cy="961.1" r="2.6"/><circle cx="955.4" cy="961.1" r="2.6"/><circle cx="979.5" cy="961.1" r="2.6"/><circle cx="1003.5" cy="961.1" r="2.6"/><circle cx="1027.5" cy="961.1" r="2.6"/><circle cx="1051.5" cy="961.1" r="2.6"/><circle cx="1075.5" cy="961.1" r="2.6"/><circle cx="1099.5" cy="961.1" r="2.6"/><circle cx="1123.5" cy="961.1" r="2.6"/><circle cx="1147.5" cy="961.1" r="2.6"/><circle cx="1171.5" cy="961.1" r="2.6"/><circle cx="1195.5" cy="961.1" r="2.6"/><circle cx="1219.6" cy="961.1" r="2.6"/><circle cx="1243.6" cy="961.1" r="2.6"/><circle cx="1267.6" cy="961.1" r="2.6"/><circle cx="1291.6" cy="961.1" r="2.6"/><circle cx="1315.6" cy="961.1" r="2.6"/><circle cx="1339.6" cy="961.1" r="2.6"/><circle cx="762.6" cy="980.9" r="2.6"/><circle cx="786.8" cy="980.9" r="2.6"/><circle cx="811.0" cy="980.9" r="2.6"/><circle cx="835.2" cy="980.9" r="2.6"/><circle cx="859.4" cy="980.9" r="2.6"/><circle cx="883.6" cy="980.9" r="2.6"/><circle cx="907.8" cy="980.9" r="2.6"/><circle cx="932.0" cy="980.9" r="2.6"/><circle cx="956.2" cy="980.9" r="2.6"/><circle cx="980.4" cy="980.9" r="2.6"/><circle cx="1004.6" cy="980.9" r="2.6"/><circle cx="1028.8" cy="980.9" r="2.6"/><circle cx="1052.9" cy="980.9" r="2.6"/><circle cx="1077.1" cy="980.9" r="2.6"/><circle cx="1101.3" cy="980.9" r="2.6"/><circle cx="1125.5" cy="980.9" r="2.6"/><circle cx="1149.7" cy="980.9" r="2.6"/><circle cx="1173.9" cy="980.9" r="2.6"/><circle cx="1198.1" cy="980.9" r="2.6"/><circle cx="1222.3" cy="980.9" r="2.6"/><circle cx="1246.5" cy="980.9" r="2.6"/><circle cx="1270.7" cy="980.9" r="2.6"/><circle cx="1294.9" cy="980.9" r="2.6"/><circle cx="1319.1" cy="980.9" r="2.6"/><circle cx="1343.2" cy="980.9" r="2.6"/><circle cx="761.9" cy="1001.1" r="2.6"/><circle cx="786.3" cy="1001.1" r="2.6"/><circle cx="810.7" cy="1001.1" r="2.6"/><circle cx="835.0" cy="1001.1" r="2.6"/><circle cx="859.4" cy="1001.1" r="2.6"/><circle cx="883.8" cy="1001.1" r="2.6"/><circle cx="908.2" cy="1001.1" r="2.6"/><circle cx="932.6" cy="1001.1" r="2.6"/><circle cx="956.9" cy="1001.1" r="2.6"/><circle cx="981.3" cy="1001.1" r="2.6"/><circle cx="1005.7" cy="1001.1" r="2.6"/><circle cx="1030.1" cy="1001.1" r="2.6"/><circle cx="1054.4" cy="1001.1" r="2.6"/><circle cx="1078.8" cy="1001.1" r="2.6"/><circle cx="1103.2" cy="1001.1" r="2.6"/><circle cx="1127.6" cy="1001.1" r="2.6"/><circle cx="1151.9" cy="1001.1" r="2.6"/><circle cx="1176.3" cy="1001.1" r="2.6"/><circle cx="1200.7" cy="1001.1" r="2.6"/><circle cx="1225.1" cy="1001.1" r="2.6"/><circle cx="1249.4" cy="1001.1" r="2.6"/><circle cx="1273.8" cy="1001.1" r="2.6"/><circle cx="1298.2" cy="1001.1" r="2.6"/><circle cx="1322.6" cy="1001.1" r="2.6"/><circle cx="1347.0" cy="1001.1" r="2.6"/><circle cx="761.2" cy="1021.7" r="2.6"/><circle cx="785.7" cy="1021.7" r="2.6"/><circle cx="810.3" cy="1021.7" r="2.6"/><circle cx="834.9" cy="1021.7" r="2.6"/><circle cx="859.4" cy="1021.7" r="2.6"/><circle cx="884.0" cy="1021.7" r="2.6"/><circle cx="908.6" cy="1021.7" r="2.6"/><circle cx="933.1" cy="1021.7" r="2.6"/><circle cx="957.7" cy="1021.7" r="2.6"/><circle cx="982.3" cy="1021.7" r="2.6"/><circle cx="1006.8" cy="1021.7" r="2.6"/><circle cx="1031.4" cy="1021.7" r="2.6"/><circle cx="1056.0" cy="1021.7" r="2.6"/><circle cx="1080.5" cy="1021.7" r="2.6"/><circle cx="1105.1" cy="1021.7" r="2.6"/><circle cx="1129.6" cy="1021.7" r="2.6"/><circle cx="1154.2" cy="1021.7" r="2.6"/><circle cx="1178.8" cy="1021.7" r="2.6"/><circle cx="1203.3" cy="1021.7" r="2.6"/><circle cx="1227.9" cy="1021.7" r="2.6"/><circle cx="1252.5" cy="1021.7" r="2.6"/><circle cx="1277.0" cy="1021.7" r="2.6"/><circle cx="1301.6" cy="1021.7" r="2.6"/><circle cx="1326.2" cy="1021.7" r="2.6"/><circle cx="1350.7" cy="1021.7" r="2.6"/><circle cx="760.4" cy="1042.6" r="2.6"/><circle cx="785.2" cy="1042.6" r="2.6"/><circle cx="809.9" cy="1042.6" r="2.6"/><circle cx="834.7" cy="1042.6" r="2.6"/><circle cx="859.4" cy="1042.6" r="2.6"/><circle cx="884.2" cy="1042.6" r="2.6"/><circle cx="909.0" cy="1042.6" r="2.6"/><circle cx="933.7" cy="1042.6" r="2.6"/><circle cx="958.5" cy="1042.6" r="2.6"/><circle cx="983.2" cy="1042.6" r="2.6"/><circle cx="1008.0" cy="1042.6" r="2.6"/><circle cx="1032.7" cy="1042.6" r="2.6"/><circle cx="1057.5" cy="1042.6" r="2.6"/><circle cx="1082.3" cy="1042.6" r="2.6"/><circle cx="1107.0" cy="1042.6" r="2.6"/><circle cx="1131.8" cy="1042.6" r="2.6"/><circle cx="1156.5" cy="1042.6" r="2.6"/><circle cx="1181.3" cy="1042.6" r="2.6"/><circle cx="1206.0" cy="1042.6" r="2.6"/><circle cx="1230.8" cy="1042.6" r="2.6"/><circle cx="1255.6" cy="1042.6" r="2.6"/><circle cx="1280.3" cy="1042.6" r="2.6"/><circle cx="1305.1" cy="1042.6" r="2.6"/><circle cx="1329.8" cy="1042.6" r="2.6"/><circle cx="1354.6" cy="1042.6" r="2.6"/><circle cx="784.6" cy="1064.0" r="2.6"/><circle cx="809.6" cy="1064.0" r="2.6"/><circle cx="834.5" cy="1064.0" r="2.6"/><circle cx="859.5" cy="1064.0" r="2.6"/><circle cx="884.4" cy="1064.0" r="2.6"/><circle cx="909.4" cy="1064.0" r="2.6"/><circle cx="934.3" cy="1064.0" r="2.6"/><circle cx="959.3" cy="1064.0" r="2.6"/><circle cx="984.2" cy="1064.0" r="2.6"/><circle cx="1009.2" cy="1064.0" r="2.6"/><circle cx="1034.1" cy="1064.0" r="2.6"/><circle cx="1059.1" cy="1064.0" r="2.6"/><circle cx="1084.0" cy="1064.0" r="2.6"/><circle cx="1109.0" cy="1064.0" r="2.6"/><circle cx="1133.9" cy="1064.0" r="2.6"/><circle cx="1158.9" cy="1064.0" r="2.6"/><circle cx="1183.8" cy="1064.0" r="2.6"/><circle cx="1208.8" cy="1064.0" r="2.6"/><circle cx="1233.7" cy="1064.0" r="2.6"/><circle cx="1258.7" cy="1064.0" r="2.6"/><circle cx="1283.6" cy="1064.0" r="2.6"/><circle cx="1308.6" cy="1064.0" r="2.6"/><circle cx="1333.5" cy="1064.0" r="2.6"/><circle cx="1358.5" cy="1064.0" r="2.6"/><circle cx="784.0" cy="1085.7" r="2.6"/><circle cx="809.2" cy="1085.7" r="2.6"/><circle cx="834.3" cy="1085.7" r="2.6"/><circle cx="859.5" cy="1085.7" r="2.6"/><circle cx="884.6" cy="1085.7" r="2.6"/><circle cx="909.8" cy="1085.7" r="2.6"/><circle cx="934.9" cy="1085.7" r="2.6"/><circle cx="960.1" cy="1085.7" r="2.6"/><circle cx="985.2" cy="1085.7" r="2.6"/><circle cx="1010.4" cy="1085.7" r="2.6"/><circle cx="1035.5" cy="1085.7" r="2.6"/><circle cx="1060.7" cy="1085.7" r="2.6"/><circle cx="1085.8" cy="1085.7" r="2.6"/><circle cx="1111.0" cy="1085.7" r="2.6"/><circle cx="1136.1" cy="1085.7" r="2.6"/><circle cx="1161.3" cy="1085.7" r="2.6"/><circle cx="1186.4" cy="1085.7" r="2.6"/><circle cx="1211.6" cy="1085.7" r="2.6"/><circle cx="1236.7" cy="1085.7" r="2.6"/><circle cx="1261.9" cy="1085.7" r="2.6"/><circle cx="1287.0" cy="1085.7" r="2.6"/><circle cx="1312.2" cy="1085.7" r="2.6"/><circle cx="1337.3" cy="1085.7" r="2.6"/><circle cx="783.4" cy="1107.7" r="2.6"/><circle cx="808.8" cy="1107.7" r="2.6"/><circle cx="834.1" cy="1107.7" r="2.6"/><circle cx="859.5" cy="1107.7" r="2.6"/><circle cx="884.8" cy="1107.7" r="2.6"/><circle cx="910.2" cy="1107.7" r="2.6"/><circle cx="935.5" cy="1107.7" r="2.6"/><circle cx="960.9" cy="1107.7" r="2.6"/><circle cx="986.2" cy="1107.7" r="2.6"/><circle cx="1011.6" cy="1107.7" r="2.6"/><circle cx="1037.0" cy="1107.7" r="2.6"/><circle cx="1062.3" cy="1107.7" r="2.6"/><circle cx="1087.7" cy="1107.7" r="2.6"/><circle cx="1113.0" cy="1107.7" r="2.6"/><circle cx="1138.4" cy="1107.7" r="2.6"/><circle cx="1163.7" cy="1107.7" r="2.6"/><circle cx="1189.1" cy="1107.7" r="2.6"/><circle cx="1214.4" cy="1107.7" r="2.6"/><circle cx="1239.8" cy="1107.7" r="2.6"/><circle cx="1265.1" cy="1107.7" r="2.6"/><circle cx="1290.5" cy="1107.7" r="2.6"/><circle cx="1315.8" cy="1107.7" r="2.6"/><circle cx="1341.2" cy="1107.7" r="2.6"/><circle cx="782.8" cy="1130.2" r="2.6"/><circle cx="808.4" cy="1130.2" r="2.6"/><circle cx="833.9" cy="1130.2" r="2.6"/><circle cx="859.5" cy="1130.2" r="2.6"/><circle cx="885.0" cy="1130.2" r="2.6"/><circle cx="910.6" cy="1130.2" r="2.6"/><circle cx="936.2" cy="1130.2" r="2.6"/><circle cx="961.7" cy="1130.2" r="2.6"/><circle cx="987.3" cy="1130.2" r="2.6"/><circle cx="1012.8" cy="1130.2" r="2.6"/><circle cx="1038.4" cy="1130.2" r="2.6"/><circle cx="1064.0" cy="1130.2" r="2.6"/><circle cx="1089.5" cy="1130.2" r="2.6"/><circle cx="1115.1" cy="1130.2" r="2.6"/><circle cx="1140.6" cy="1130.2" r="2.6"/><circle cx="1166.2" cy="1130.2" r="2.6"/><circle cx="1191.8" cy="1130.2" r="2.6"/><circle cx="1217.3" cy="1130.2" r="2.6"/><circle cx="1242.9" cy="1130.2" r="2.6"/><circle cx="1268.4" cy="1130.2" r="2.6"/><circle cx="1294.0" cy="1130.2" r="2.6"/><circle cx="1319.6" cy="1130.2" r="2.6"/><circle cx="1345.1" cy="1130.2" r="2.6"/><circle cx="782.2" cy="1153.0" r="2.6"/><circle cx="808.0" cy="1153.0" r="2.6"/><circle cx="833.7" cy="1153.0" r="2.6"/><circle cx="859.5" cy="1153.0" r="2.6"/><circle cx="885.3" cy="1153.0" r="2.6"/><circle cx="911.0" cy="1153.0" r="2.6"/><circle cx="936.8" cy="1153.0" r="2.6"/><circle cx="962.6" cy="1153.0" r="2.6"/><circle cx="988.3" cy="1153.0" r="2.6"/><circle cx="1014.1" cy="1153.0" r="2.6"/><circle cx="1039.9" cy="1153.0" r="2.6"/><circle cx="1065.6" cy="1153.0" r="2.6"/><circle cx="1091.4" cy="1153.0" r="2.6"/><circle cx="1117.2" cy="1153.0" r="2.6"/><circle cx="1143.0" cy="1153.0" r="2.6"/><circle cx="1168.7" cy="1153.0" r="2.6"/><circle cx="1194.5" cy="1153.0" r="2.6"/><circle cx="1220.3" cy="1153.0" r="2.6"/><circle cx="1246.0" cy="1153.0" r="2.6"/><circle cx="1271.8" cy="1153.0" r="2.6"/><circle cx="1297.6" cy="1153.0" r="2.6"/><circle cx="1323.3" cy="1153.0" r="2.6"/><circle cx="1349.1" cy="1153.0" r="2.6"/><circle cx="781.6" cy="1176.2" r="2.6"/><circle cx="807.6" cy="1176.2" r="2.6"/><circle cx="833.5" cy="1176.2" r="2.6"/><circle cx="859.5" cy="1176.2" r="2.6"/><circle cx="885.5" cy="1176.2" r="2.6"/><circle cx="911.5" cy="1176.2" r="2.6"/><circle cx="937.5" cy="1176.2" r="2.6"/><circle cx="963.4" cy="1176.2" r="2.6"/><circle cx="989.4" cy="1176.2" r="2.6"/><circle cx="1015.4" cy="1176.2" r="2.6"/><circle cx="1041.4" cy="1176.2" r="2.6"/><circle cx="1067.4" cy="1176.2" r="2.6"/><circle cx="1093.3" cy="1176.2" r="2.6"/><circle cx="1119.3" cy="1176.2" r="2.6"/><circle cx="1145.3" cy="1176.2" r="2.6"/><circle cx="1171.3" cy="1176.2" r="2.6"/><circle cx="1197.3" cy="1176.2" r="2.6"/><circle cx="1223.2" cy="1176.2" r="2.6"/><circle cx="1249.2" cy="1176.2" r="2.6"/><circle cx="1275.2" cy="1176.2" r="2.6"/><circle cx="1301.2" cy="1176.2" r="2.6"/><circle cx="1327.2" cy="1176.2" r="2.6"/><circle cx="1353.1" cy="1176.2" r="2.6"/><circle cx="780.9" cy="1199.8" r="2.6"/><circle cx="807.1" cy="1199.8" r="2.6"/><circle cx="833.3" cy="1199.8" r="2.6"/><circle cx="859.5" cy="1199.8" r="2.6"/><circle cx="885.7" cy="1199.8" r="2.6"/><circle cx="911.9" cy="1199.8" r="2.6"/><circle cx="938.1" cy="1199.8" r="2.6"/><circle cx="964.3" cy="1199.8" r="2.6"/><circle cx="990.5" cy="1199.8" r="2.6"/><circle cx="1016.7" cy="1199.8" r="2.6"/><circle cx="1042.9" cy="1199.8" r="2.6"/><circle cx="1069.1" cy="1199.8" r="2.6"/><circle cx="1095.3" cy="1199.8" r="2.6"/><circle cx="1121.5" cy="1199.8" r="2.6"/><circle cx="1147.7" cy="1199.8" r="2.6"/><circle cx="1173.9" cy="1199.8" r="2.6"/><circle cx="1200.1" cy="1199.8" r="2.6"/><circle cx="1226.3" cy="1199.8" r="2.6"/><circle cx="1252.5" cy="1199.8" r="2.6"/><circle cx="1278.7" cy="1199.8" r="2.6"/><circle cx="1304.9" cy="1199.8" r="2.6"/><circle cx="1331.1" cy="1199.8" r="2.6"/><circle cx="1357.3" cy="1199.8" r="2.6"/><circle cx="780.3" cy="1223.7" r="2.6"/><circle cx="806.7" cy="1223.7" r="2.6"/><circle cx="833.1" cy="1223.7" r="2.6"/><circle cx="859.5" cy="1223.7" r="2.6"/><circle cx="886.0" cy="1223.7" r="2.6"/><circle cx="912.4" cy="1223.7" r="2.6"/><circle cx="938.8" cy="1223.7" r="2.6"/><circle cx="965.2" cy="1223.7" r="2.6"/><circle cx="991.6" cy="1223.7" r="2.6"/><circle cx="1018.0" cy="1223.7" r="2.6"/><circle cx="1044.5" cy="1223.7" r="2.6"/><circle cx="1070.9" cy="1223.7" r="2.6"/><circle cx="1097.3" cy="1223.7" r="2.6"/><circle cx="1123.7" cy="1223.7" r="2.6"/><circle cx="1150.1" cy="1223.7" r="2.6"/><circle cx="1176.5" cy="1223.7" r="2.6"/><circle cx="1202.9" cy="1223.7" r="2.6"/><circle cx="1229.4" cy="1223.7" r="2.6"/><circle cx="1255.8" cy="1223.7" r="2.6"/><circle cx="1282.2" cy="1223.7" r="2.6"/><circle cx="1308.6" cy="1223.7" r="2.6"/><circle cx="1335.0" cy="1223.7" r="2.6"/><circle cx="779.6" cy="1248.0" r="2.6"/><circle cx="806.3" cy="1248.0" r="2.6"/><circle cx="832.9" cy="1248.0" r="2.6"/><circle cx="859.6" cy="1248.0" r="2.6"/><circle cx="886.2" cy="1248.0" r="2.6"/><circle cx="912.8" cy="1248.0" r="2.6"/><circle cx="939.5" cy="1248.0" r="2.6"/><circle cx="966.1" cy="1248.0" r="2.6"/><circle cx="992.7" cy="1248.0" r="2.6"/><circle cx="1019.4" cy="1248.0" r="2.6"/><circle cx="1046.0" cy="1248.0" r="2.6"/><circle cx="1072.7" cy="1248.0" r="2.6"/><circle cx="1099.3" cy="1248.0" r="2.6"/><circle cx="1125.9" cy="1248.0" r="2.6"/><circle cx="1152.6" cy="1248.0" r="2.6"/><circle cx="1179.2" cy="1248.0" r="2.6"/><circle cx="1205.9" cy="1248.0" r="2.6"/><circle cx="1232.5" cy="1248.0" r="2.6"/><circle cx="1259.1" cy="1248.0" r="2.6"/><circle cx="1285.8" cy="1248.0" r="2.6"/><circle cx="1312.4" cy="1248.0" r="2.6"/><circle cx="1339.0" cy="1248.0" r="2.6"/><circle cx="779.0" cy="1272.7" r="2.6"/><circle cx="805.8" cy="1272.7" r="2.6"/><circle cx="832.7" cy="1272.7" r="2.6"/><circle cx="859.6" cy="1272.7" r="2.6"/><circle cx="886.4" cy="1272.7" r="2.6"/><circle cx="913.3" cy="1272.7" r="2.6"/><circle cx="940.2" cy="1272.7" r="2.6"/><circle cx="967.0" cy="1272.7" r="2.6"/><circle cx="993.9" cy="1272.7" r="2.6"/><circle cx="1020.8" cy="1272.7" r="2.6"/><circle cx="1047.6" cy="1272.7" r="2.6"/><circle cx="1074.5" cy="1272.7" r="2.6"/><circle cx="1101.4" cy="1272.7" r="2.6"/><circle cx="1128.2" cy="1272.7" r="2.6"/><circle cx="1155.1" cy="1272.7" r="2.6"/><circle cx="1181.9" cy="1272.7" r="2.6"/><circle cx="1208.8" cy="1272.7" r="2.6"/><circle cx="1235.7" cy="1272.7" r="2.6"/><circle cx="1262.5" cy="1272.7" r="2.6"/><circle cx="1289.4" cy="1272.7" r="2.6"/><circle cx="1316.3" cy="1272.7" r="2.6"/><circle cx="1343.1" cy="1272.7" r="2.6"/><circle cx="778.3" cy="1297.8" r="2.6"/><circle cx="805.4" cy="1297.8" r="2.6"/><circle cx="832.5" cy="1297.8" r="2.6"/><circle cx="859.6" cy="1297.8" r="2.6"/><circle cx="886.7" cy="1297.8" r="2.6"/><circle cx="913.8" cy="1297.8" r="2.6"/><circle cx="940.9" cy="1297.8" r="2.6"/><circle cx="968.0" cy="1297.8" r="2.6"/><circle cx="995.1" cy="1297.8" r="2.6"/><circle cx="1022.1" cy="1297.8" r="2.6"/><circle cx="1049.2" cy="1297.8" r="2.6"/><circle cx="1076.3" cy="1297.8" r="2.6"/><circle cx="1103.4" cy="1297.8" r="2.6"/><circle cx="1130.5" cy="1297.8" r="2.6"/><circle cx="1157.6" cy="1297.8" r="2.6"/><circle cx="1184.7" cy="1297.8" r="2.6"/><circle cx="1211.8" cy="1297.8" r="2.6"/><circle cx="1238.9" cy="1297.8" r="2.6"/><circle cx="1266.0" cy="1297.8" r="2.6"/><circle cx="1293.1" cy="1297.8" r="2.6"/><circle cx="1320.2" cy="1297.8" r="2.6"/><circle cx="1347.3" cy="1297.8" r="2.6"/><circle cx="777.6" cy="1323.3" r="2.6"/><circle cx="804.9" cy="1323.3" r="2.6"/><circle cx="832.3" cy="1323.3" r="2.6"/><circle cx="859.6" cy="1323.3" r="2.6"/><circle cx="886.9" cy="1323.3" r="2.6"/><circle cx="914.2" cy="1323.3" r="2.6"/><circle cx="941.6" cy="1323.3" r="2.6"/><circle cx="968.9" cy="1323.3" r="2.6"/><circle cx="996.2" cy="1323.3" r="2.6"/><circle cx="1023.6" cy="1323.3" r="2.6"/><circle cx="1050.9" cy="1323.3" r="2.6"/><circle cx="1078.2" cy="1323.3" r="2.6"/><circle cx="1105.5" cy="1323.3" r="2.6"/><circle cx="1132.9" cy="1323.3" r="2.6"/><circle cx="1160.2" cy="1323.3" r="2.6"/><circle cx="1187.5" cy="1323.3" r="2.6"/><circle cx="1214.9" cy="1323.3" r="2.6"/><circle cx="1242.2" cy="1323.3" r="2.6"/><circle cx="1269.5" cy="1323.3" r="2.6"/><circle cx="1296.8" cy="1323.3" r="2.6"/><circle cx="1324.2" cy="1323.3" r="2.6"/><circle cx="1351.5" cy="1323.3" r="2.6"/><circle cx="776.9" cy="1349.1" r="2.6"/><circle cx="804.5" cy="1349.1" r="2.6"/><circle cx="832.0" cy="1349.1" r="2.6"/><circle cx="859.6" cy="1349.1" r="2.6"/><circle cx="887.2" cy="1349.1" r="2.6"/><circle cx="914.7" cy="1349.1" r="2.6"/><circle cx="942.3" cy="1349.1" r="2.6"/><circle cx="969.9" cy="1349.1" r="2.6"/><circle cx="997.4" cy="1349.1" r="2.6"/><circle cx="1025.0" cy="1349.1" r="2.6"/><circle cx="1052.6" cy="1349.1" r="2.6"/><circle cx="1080.1" cy="1349.1" r="2.6"/><circle cx="1107.7" cy="1349.1" r="2.6"/><circle cx="1135.3" cy="1349.1" r="2.6"/><circle cx="1162.8" cy="1349.1" r="2.6"/><circle cx="1190.4" cy="1349.1" r="2.6"/><circle cx="1217.9" cy="1349.1" r="2.6"/><circle cx="1245.5" cy="1349.1" r="2.6"/><circle cx="1273.1" cy="1349.1" r="2.6"/><circle cx="1300.6" cy="1349.1" r="2.6"/><circle cx="1328.2" cy="1349.1" r="2.6"/><circle cx="1355.8" cy="1349.1" r="2.6"/><circle cx="776.2" cy="1375.3" r="2.6"/><circle cx="804.0" cy="1375.3" r="2.6"/><circle cx="831.8" cy="1375.3" r="2.6"/><circle cx="859.6" cy="1375.3" r="2.6"/><circle cx="887.4" cy="1375.3" r="2.6"/><circle cx="915.2" cy="1375.3" r="2.6"/><circle cx="943.0" cy="1375.3" r="2.6"/><circle cx="970.8" cy="1375.3" r="2.6"/><circle cx="998.6" cy="1375.3" r="2.6"/><circle cx="1026.4" cy="1375.3" r="2.6"/><circle cx="1054.3" cy="1375.3" r="2.6"/><circle cx="1082.1" cy="1375.3" r="2.6"/><circle cx="1109.9" cy="1375.3" r="2.6"/><circle cx="1137.7" cy="1375.3" r="2.6"/><circle cx="1165.5" cy="1375.3" r="2.6"/><circle cx="1193.3" cy="1375.3" r="2.6"/><circle cx="1221.1" cy="1375.3" r="2.6"/><circle cx="1248.9" cy="1375.3" r="2.6"/><circle cx="1276.7" cy="1375.3" r="2.6"/><circle cx="1304.5" cy="1375.3" r="2.6"/><circle cx="1332.3" cy="1375.3" r="2.6"/><circle cx="775.5" cy="1401.9" r="2.6"/><circle cx="803.5" cy="1401.9" r="2.6"/><circle cx="831.6" cy="1401.9" r="2.6"/><circle cx="859.6" cy="1401.9" r="2.6"/><circle cx="887.7" cy="1401.9" r="2.6"/><circle cx="915.7" cy="1401.9" r="2.6"/><circle cx="943.8" cy="1401.9" r="2.6"/><circle cx="971.8" cy="1401.9" r="2.6"/><circle cx="999.9" cy="1401.9" r="2.6"/><circle cx="1027.9" cy="1401.9" r="2.6"/><circle cx="1056.0" cy="1401.9" r="2.6"/><circle cx="1084.0" cy="1401.9" r="2.6"/><circle cx="1112.1" cy="1401.9" r="2.6"/><circle cx="1140.1" cy="1401.9" r="2.6"/><circle cx="1168.2" cy="1401.9" r="2.6"/><circle cx="1196.2" cy="1401.9" r="2.6"/><circle cx="1224.3" cy="1401.9" r="2.6"/><circle cx="1252.3" cy="1401.9" r="2.6"/><circle cx="1280.4" cy="1401.9" r="2.6"/><circle cx="1308.4" cy="1401.9" r="2.6"/><circle cx="1336.4" cy="1401.9" r="2.6"/><circle cx="774.8" cy="1428.8" r="2.6"/><circle cx="803.1" cy="1428.8" r="2.6"/><circle cx="831.4" cy="1428.8" r="2.6"/><circle cx="859.7" cy="1428.8" r="2.6"/><circle cx="887.9" cy="1428.8" r="2.6"/><circle cx="916.2" cy="1428.8" r="2.6"/><circle cx="944.5" cy="1428.8" r="2.6"/><circle cx="972.8" cy="1428.8" r="2.6"/><circle cx="1001.1" cy="1428.8" r="2.6"/><circle cx="1029.4" cy="1428.8" r="2.6"/><circle cx="1057.7" cy="1428.8" r="2.6"/><circle cx="1086.0" cy="1428.8" r="2.6"/><circle cx="1114.3" cy="1428.8" r="2.6"/><circle cx="1142.6" cy="1428.8" r="2.6"/><circle cx="1170.9" cy="1428.8" r="2.6"/><circle cx="1199.2" cy="1428.8" r="2.6"/><circle cx="1227.5" cy="1428.8" r="2.6"/><circle cx="1255.8" cy="1428.8" r="2.6"/><circle cx="1284.1" cy="1428.8" r="2.6"/><circle cx="1312.4" cy="1428.8" r="2.6"/><circle cx="1340.7" cy="1428.8" r="2.6"/><circle cx="774.0" cy="1456.2" r="2.6"/><circle cx="802.6" cy="1456.2" r="2.6"/><circle cx="831.1" cy="1456.2" r="2.6"/><circle cx="859.7" cy="1456.2" r="2.6"/><circle cx="888.2" cy="1456.2" r="2.6"/><circle cx="916.8" cy="1456.2" r="2.6"/><circle cx="945.3" cy="1456.2" r="2.6"/><circle cx="973.8" cy="1456.2" r="2.6"/><circle cx="1002.4" cy="1456.2" r="2.6"/><circle cx="1030.9" cy="1456.2" r="2.6"/><circle cx="1059.5" cy="1456.2" r="2.6"/><circle cx="1088.0" cy="1456.2" r="2.6"/><circle cx="1116.6" cy="1456.2" r="2.6"/><circle cx="1145.1" cy="1456.2" r="2.6"/><circle cx="1173.7" cy="1456.2" r="2.6"/><circle cx="1202.2" cy="1456.2" r="2.6"/><circle cx="1230.7" cy="1456.2" r="2.6"/><circle cx="1259.3" cy="1456.2" r="2.6"/><circle cx="1287.8" cy="1456.2" r="2.6"/><circle cx="1316.4" cy="1456.2" r="2.6"/><circle cx="1344.9" cy="1456.2" r="2.6"/><circle cx="773.3" cy="1483.9" r="2.6"/><circle cx="802.1" cy="1483.9" r="2.6"/><circle cx="830.9" cy="1483.9" r="2.6"/><circle cx="859.7" cy="1483.9" r="2.6"/><circle cx="888.5" cy="1483.9" r="2.6"/><circle cx="917.3" cy="1483.9" r="2.6"/><circle cx="946.1" cy="1483.9" r="2.6"/><circle cx="974.9" cy="1483.9" r="2.6"/><circle cx="1003.7" cy="1483.9" r="2.6"/><circle cx="1032.5" cy="1483.9" r="2.6"/><circle cx="1061.3" cy="1483.9" r="2.6"/><circle cx="1090.1" cy="1483.9" r="2.6"/><circle cx="1118.9" cy="1483.9" r="2.6"/><circle cx="1147.7" cy="1483.9" r="2.6"/><circle cx="1176.5" cy="1483.9" r="2.6"/><circle cx="1205.3" cy="1483.9" r="2.6"/><circle cx="1234.1" cy="1483.9" r="2.6"/><circle cx="1262.9" cy="1483.9" r="2.6"/><circle cx="1291.7" cy="1483.9" r="2.6"/><circle cx="1320.5" cy="1483.9" r="2.6"/><circle cx="1349.3" cy="1483.9" r="2.6"/><circle cx="772.5" cy="1511.9" r="2.6"/><circle cx="801.6" cy="1511.9" r="2.6"/><circle cx="830.6" cy="1511.9" r="2.6"/><circle cx="859.7" cy="1511.9" r="2.6"/><circle cx="888.8" cy="1511.9" r="2.6"/><circle cx="917.8" cy="1511.9" r="2.6"/><circle cx="946.9" cy="1511.9" r="2.6"/><circle cx="975.9" cy="1511.9" r="2.6"/><circle cx="1005.0" cy="1511.9" r="2.6"/><circle cx="1034.0" cy="1511.9" r="2.6"/><circle cx="1063.1" cy="1511.9" r="2.6"/><circle cx="1092.1" cy="1511.9" r="2.6"/><circle cx="1121.2" cy="1511.9" r="2.6"/><circle cx="1150.3" cy="1511.9" r="2.6"/><circle cx="1179.3" cy="1511.9" r="2.6"/><circle cx="1208.4" cy="1511.9" r="2.6"/><circle cx="1237.4" cy="1511.9" r="2.6"/><circle cx="1266.5" cy="1511.9" r="2.6"/><circle cx="1295.5" cy="1511.9" r="2.6"/><circle cx="1324.6" cy="1511.9" r="2.6"/><circle cx="1353.6" cy="1511.9" r="2.6"/><circle cx="771.8" cy="1540.4" r="2.6"/><circle cx="801.1" cy="1540.4" r="2.6"/><circle cx="830.4" cy="1540.4" r="2.6"/><circle cx="859.7" cy="1540.4" r="2.6"/><circle cx="889.0" cy="1540.4" r="2.6"/><circle cx="918.3" cy="1540.4" r="2.6"/><circle cx="947.7" cy="1540.4" r="2.6"/><circle cx="977.0" cy="1540.4" r="2.6"/><circle cx="1006.3" cy="1540.4" r="2.6"/><circle cx="1035.6" cy="1540.4" r="2.6"/><circle cx="1064.9" cy="1540.4" r="2.6"/><circle cx="1094.2" cy="1540.4" r="2.6"/><circle cx="1123.6" cy="1540.4" r="2.6"/><circle cx="1152.9" cy="1540.4" r="2.6"/><circle cx="1182.2" cy="1540.4" r="2.6"/><circle cx="1211.5" cy="1540.4" r="2.6"/><circle cx="1240.8" cy="1540.4" r="2.6"/><circle cx="1270.1" cy="1540.4" r="2.6"/><circle cx="1299.5" cy="1540.4" r="2.6"/><circle cx="1328.8" cy="1540.4" r="2.6"/><circle cx="1358.1" cy="1540.4" r="2.6"/></g>
</g>
<polygon points="790,873 930,873 920,1366 795,1366" fill="#eadb9f" />
<polygon points="790.0,873.0 930.0,873.0 930.0,903.0 790.0,903.0" fill="url(#g8)" />
<polygon points="790.3,903.0 929.4,903.0 929.4,951.0 790.3,951.0" fill="url(#g9)" />
<polygon points="790.8,951.0 928.4,951.0 928.4,998.0 790.8,998.0" fill="url(#g10)" />
<polygon points="791.3,998.0 927.5,998.0 927.5,1045.0 791.3,1045.0" fill="url(#g11)" />
<polygon points="791.7,1045.0 926.5,1045.0 926.5,1088.0 791.7,1088.0" fill="url(#g12)" />
<polygon points="792.2,1088.0 925.6,1088.0 925.6,1131.0 792.2,1131.0" fill="url(#g13)" />
<polygon points="792.6,1131.0 924.8,1131.0 924.8,1172.0 792.6,1172.0" fill="url(#g14)" />
<polygon points="793.0,1172.0 923.9,1172.0 923.9,1213.0 793.0,1213.0" fill="url(#g15)" />
<polygon points="793.4,1213.0 923.1,1213.0 923.1,1252.0 793.4,1252.0" fill="url(#g16)" />
<polygon points="793.8,1252.0 922.3,1252.0 922.3,1290.0 793.8,1290.0" fill="url(#g17)" />
<polygon points="794.2,1290.0 921.5,1290.0 921.5,1327.0 794.2,1327.0" fill="url(#g18)" />
<polygon points="794.6,1327.0 920.8,1327.0 920.8,1362.0 794.6,1362.0" fill="url(#g19)" />
<polygon points="795,1362 920,1362 920,1368 795,1368" fill="#9e9068" />
<polygon points="790,791 800,791 798,1366 784,1366" fill="url(#g20)" />
<polygon points="790,791 839,791 839,873 790,873" fill="url(#g21)" />
<polygon points="836,791 853,791 853,947 836,947" fill="url(#g22)" />
<polygon points="853,784 929,816 916,969 854,945" fill="url(#g23)" />
<polygon points="853,784 929,816 929,822 853,790" fill="#f0c890" opacity="0.6"/>
<path d="M867 822 L912 843 A 25 20 25 0 0 867 822 Z" fill="#e8eef0" stroke="#6a5030" stroke-width="1.5"/>
<path d="M889 832 L878 812 M889 832 L896 810 M889 832 L908 826" stroke="#6a5030" stroke-width="1.2" fill="none"/>
<polygon points="913,916 917,917 916,935 912,934" fill="#6a5030" />
<polygon points="790,873 930,873 930,965 790,965" fill="url(#g24)" opacity="0.22"/>
<polygon points="937,791 954,791 950,949 933,949" fill="url(#g25)" />
<polygon points="876,1557 1207,1557 1230,1775 1016,1771 1003,1805 876,1805" fill="url(#g26)" />
<g clip-path="url(#cc3)"><polyline points="1207,1557 1230,1775 1016,1771 1003,1805 876,1805 876,1557" fill="none" stroke="#6a5e44" stroke-width="56" stroke-linejoin="round" filter="url(#blur3)" opacity="0.68"/><polyline points="1207,1557 1230,1775 1016,1771 1003,1805 876,1805 876,1557" fill="none" stroke="#5a5038" stroke-width="16" stroke-linejoin="round" filter="url(#blur4)" opacity="0.7"/></g>
<polygon points="1207,1570 1310,1545 1345,1805 1227,1772" fill="url(#g27)" />
<polygon points="1017,1770 1230,1772 1345,1805 1171,1805 1125,1784 1055,1784" fill="url(#g28)" />
<polygon points="1285,1380 1468,1380 1340,1439 1259,1439" fill="url(#g29)" />
<polygon points="1468,1380 1550,1805 1385,1770 1340,1440" fill="url(#g30)" />
<polygon points="1340,1439 1259,1439 1310,1527 1325,1527 1362,1805 1385,1770" fill="url(#g31)" />
<polygon points="1362,1770 1385,1770 1550,1805 1362,1805" fill="url(#g32)" />
<polygon points="1188,1447 1285,1359 1308,1380 1308,1399 1255,1419 1248,1412" fill="#fbfbfb" />
<polygon points="1175,1472 1188,1447 1248,1412 1314,1505 1326,1507 1326,1525 1206,1537" fill="#f6f6f6" />
<polygon points="1175,1472 1192,1466 1228,1519 1211,1526" fill="#e2e2e2" stroke="#c8c8c8" stroke-width="1"/>
<g fill="#7a7a7a">
<polygon points="1202.4,1461.5 1212.0,1455.9 1222.8,1472.0 1213.2,1477.6"/>
<polygon points="1213.6,1455.0 1223.2,1449.4 1234.0,1465.4 1224.4,1471.0"/>
<polygon points="1224.8,1448.5 1234.4,1442.9 1245.2,1458.9 1235.6,1464.5"/>
<polygon points="1236.0,1441.9 1245.6,1436.3 1256.5,1452.4 1246.9,1458.0"/>
<polygon points="1214.5,1479.5 1224.1,1473.9 1234.9,1490.0 1225.3,1495.6"/>
<polygon points="1225.7,1473.0 1235.3,1467.4 1246.2,1483.4 1236.5,1489.0"/>
<polygon points="1236.9,1466.5 1246.6,1460.9 1257.4,1476.9 1247.8,1482.5"/>
<polygon points="1248.2,1459.9 1257.8,1454.3 1268.6,1470.4 1259.0,1476.0"/>
<polygon points="1226.6,1497.5 1236.2,1491.9 1247.1,1508.0 1237.5,1513.6"/>
<polygon points="1237.9,1491.0 1247.5,1485.4 1258.3,1501.4 1248.7,1507.0"/>
<polygon points="1249.1,1484.5 1258.7,1478.9 1269.5,1494.9 1259.9,1500.5"/>
<polygon points="1260.3,1477.9 1269.9,1472.3 1280.7,1488.4 1271.1,1494.0"/>
</g>
<polygon points="709,1383 714,1380 769,1483 763,1487" fill="#fafafa" stroke="#a0a0a0" stroke-width="1"/>
<polygon points="755,1352 790,1352 790,1427 760,1427" fill="url(#g33)" />
<polygon points="750,1478 770,1478 770,1492 750,1492" fill="#f4f4f4" />
<polygon points="921,1737 929,1733 1046,1820 1041,1827" fill="#d9a867" />
<polygon points="921,1737 1041,1827 1039,1830 919,1741" fill="#8a6030" />
<polygon points="925,1740 931,1744 928,1748 922,1744" fill="#6a4a28" />
<polygon points="876,1770 905,1770 905,1805 876,1805" fill="#f0f0f0" />
<polygon points="905,1772 920,1772 922,1805 905,1805" fill="#c8c8cc" />
<polygon points="1016,1771 1062,1800 1067,1839 1058,1839" fill="#f4f4f4" />
<polygon points="275,769 441,769 444,791 297,791 144,1527 275,1527 350,1546 630,1546 630,1527 876,1527 876,1807 905,1807 905,1850 837,1850 837,1565 630,1565 657,1578 350,1578 273,1565 99,1565" fill="#000" />
<polygon points="273,1547 630,1547 630,1562 352,1562" fill="#b2d2d6" />
<polygon points="441,791 444,791 517,947 513,947" fill="#111" />
<polygon points="640,791 644,791 668,947 664,947" fill="#888" />
<polygon points="774,791 790,791 776,1350 759,1350" fill="#000" />
<polygon points="750,1492 770,1492 770,1527 750,1527" fill="#000" />
<polygon points="644,769 839,769 839,791 644,791" fill="#000" />
<polygon points="954,769 1035,769 1035,791 954,791" fill="#000" />
<polygon points="1035,772 1291,772 1250,870 1022,870" fill="url(#g34)" />
<polygon points="1017,870 1250,870 1291,772 1300,772 1256,879 1017,879" fill="#2c4646" />
<polygon points="1017,879 1256,879 1300,772 1310,772 1261,887 1017,887" fill="#000" />
<polygon points="1295,769 1382,769 1600,1850 1175,1850 1142,1827 1087,1827 1087,1850 1067,1850 1067,1805 1072,1805 1055,1784 1125,1784 1171,1805 1550,1805 1360,791 1295,791" fill="#000" />
<polygon points="1087,1802 1125,1802 1171,1827 1087,1827" fill="url(#g35)" />
<polygon points="1016,1771 1024,1771 1072,1805 1064,1805" fill="#000" />
<polygon points="1285,1360 1468,1360 1472,1380 1285,1380" fill="#000" />
<polygon points="1305,1527 1325,1527 1362,1805 1345,1805" fill="#000" />
<polygon points="1206,1537 1325,1507 1325,1527 1207,1556" fill="#f4f4f4" />
<polygon points="1207,1555 1310,1527 1325,1527 1325,1540 1210,1570" fill="#000" />
<polygon points="457,779 527,740 583,896 526,946" fill="#e6e6e6" stroke="#b0b0b0" stroke-width="1.5"/>
<polygon points="473,793 525,761 574,892 530,920" fill="#8c8c8c" stroke="#3a3a3a" stroke-width="2.5"/>
<polygon points="567,744 627,785 669,942 617,900" fill="#e6e6e6" stroke="#b0b0b0" stroke-width="1.5"/>
<polygon points="578,765 624,795 656,923 620,893" fill="#8c8c8c" stroke="#3a3a3a" stroke-width="2.5"/>
<polygon points="1899,884 2998,882 3153,1682 1747,1682" fill="#f7f7f7" />
<polygon points="1899,884 2390,884 2390,1025 1999,1025" fill="url(#g36)" />
<polygon points="1899,884 1999,1025 1902,1677 1747,1682" fill="url(#g37)" />
<line x1="1902" y1="888" x2="1997" y2="1021" stroke="#a8a8ac" stroke-width="26" filter="url(#blur)" opacity="0.42"/>
<polygon points="1999,1025 2390,1025 2378,1682 1902,1677" fill="url(#g38)" />
<g clip-path="url(#cc4)"><polygon points="1999,1025 2390,1025 2378,1682 1902,1677" fill="none" stroke="#6a5e44" stroke-width="56" stroke-linejoin="round" filter="url(#blur3)" opacity="0.68"/><polygon points="1999,1025 2390,1025 2378,1682 1902,1677" fill="none" stroke="#5a5038" stroke-width="16" stroke-linejoin="round" filter="url(#blur4)" opacity="0.7"/></g>
<polygon points="2405,884 2698,884 2660,1025 2414,1025" fill="url(#g39)" />
<polygon points="2414,1025 2660,1025 2660,1120 2566,1115 2566,1335 2414,1335" fill="url(#g40)" />
<g clip-path="url(#cc5)"><polyline points="2660,1120 2660,1025 2414,1025 2414,1335 2566,1335 2566,1115" fill="none" stroke="#6a5e44" stroke-width="56" stroke-linejoin="round" filter="url(#blur3)" opacity="0.68"/><polyline points="2660,1120 2660,1025 2414,1025 2414,1335 2566,1335 2566,1115" fill="none" stroke="#5a5038" stroke-width="16" stroke-linejoin="round" filter="url(#blur4)" opacity="0.7"/></g>
<polygon points="2423,1127 2536,1127 2546,1235 2423,1235" fill="#b4a47c" />
<polygon points="2423,1127 2536,1127 2536,1140 2423,1140" fill="#8c7e5c" />
<polygon points="2423,1140 2536,1140 2536,1150 2423,1150" fill="#c4b48a" />
<polygon points="2401,1002 2414,1002 2414,1335 2401,1335" fill="url(#g41)" />
<polygon points="2546,1125 2566,1115 2573,1335 2546,1335" fill="url(#g42)" />
<polygon points="2425,1180 2552,1178 2552,1184 2425,1186" fill="#b4b4b8" stroke="#808084" stroke-width="1"/>
<polygon points="2425,1198 2552,1196 2552,1202 2425,1204" fill="#b4b4b8" stroke="#808084" stroke-width="1"/>
<polygon points="2425,1216 2552,1214 2552,1220 2425,1222" fill="#b4b4b8" stroke="#808084" stroke-width="1"/>
<polygon points="2421,1172 2429,1172 2429,1224 2421,1224" fill="#a8a8ac" />
<polygon points="2544,1060 2553,1060 2553,1224 2544,1224" fill="#c4c4c8" stroke="#909094" stroke-width="1"/>
<circle cx="2424" cy="1172" r="5" fill="#c8c8cc"/>
<circle cx="2549" cy="1060" r="6" fill="#e0e0e4"/>
<polygon points="2540,1062 2548,1062 2540,1180 2532,1180" fill="#bcbcc0" />
<polygon points="2716,884 2998,882 2901,1026 2702,1026" fill="url(#g43)" />
<polygon points="2998,882 3046,1115 2912,1115 2901,1026" fill="url(#g44)" />
<polygon points="2702,1026 2901,1026 2912,1115 2713,1115" fill="url(#g45)" />
<g clip-path="url(#bclip)" stroke="#bdbdc0" stroke-width="1" opacity="0.32">
<line x1="2700" y1="884.0" x2="3050" y2="884.0"/>
<line x1="2700" y1="895.5" x2="3050" y2="895.5"/>
<line x1="2700" y1="907.0" x2="3050" y2="907.0"/>
<line x1="2700" y1="918.5" x2="3050" y2="918.5"/>
<line x1="2700" y1="930.0" x2="3050" y2="930.0"/>
<line x1="2700" y1="941.5" x2="3050" y2="941.5"/>
<line x1="2700" y1="953.0" x2="3050" y2="953.0"/>
<line x1="2700" y1="964.5" x2="3050" y2="964.5"/>
<line x1="2700" y1="976.0" x2="3050" y2="976.0"/>
<line x1="2700" y1="987.5" x2="3050" y2="987.5"/>
<line x1="2700" y1="999.0" x2="3050" y2="999.0"/>
<line x1="2700" y1="1010.5" x2="3050" y2="1010.5"/>
<line x1="2700" y1="1022.0" x2="3050" y2="1022.0"/>
<line x1="2700" y1="1033.5" x2="3050" y2="1033.5"/>
<line x1="2700" y1="1045.0" x2="3050" y2="1045.0"/>
<line x1="2700" y1="1056.5" x2="3050" y2="1056.5"/>
<line x1="2700" y1="1068.0" x2="3050" y2="1068.0"/>
<line x1="2700" y1="1079.5" x2="3050" y2="1079.5"/>
<line x1="2700" y1="1091.0" x2="3050" y2="1091.0"/>
<line x1="2700" y1="1102.5" x2="3050" y2="1102.5"/>
<line x1="2700" y1="1114.0" x2="3050" y2="1114.0"/>
<line x1="2700" y1="1125.5" x2="3050" y2="1125.5"/>
<line x1="2716.0" y1="880" x2="2711.8" y2="1115"/>
<line x1="2727.5" y1="880" x2="2723.9" y2="1115"/>
<line x1="2739.0" y1="880" x2="2735.9" y2="1115"/>
<line x1="2750.5" y1="880" x2="2748.0" y2="1115"/>
<line x1="2762.0" y1="880" x2="2760.1" y2="1115"/>
<line x1="2773.5" y1="880" x2="2772.2" y2="1115"/>
<line x1="2785.0" y1="880" x2="2784.2" y2="1115"/>
<line x1="2796.5" y1="880" x2="2796.3" y2="1115"/>
<line x1="2808.0" y1="880" x2="2808.4" y2="1115"/>
<line x1="2819.5" y1="880" x2="2820.5" y2="1115"/>
<line x1="2831.0" y1="880" x2="2832.6" y2="1115"/>
<line x1="2842.5" y1="880" x2="2844.6" y2="1115"/>
<line x1="2854.0" y1="880" x2="2856.7" y2="1115"/>
<line x1="2865.5" y1="880" x2="2868.8" y2="1115"/>
<line x1="2877.0" y1="880" x2="2880.8" y2="1115"/>
<line x1="2888.5" y1="880" x2="2892.9" y2="1115"/>
<line x1="2900.0" y1="880" x2="2905.0" y2="1115"/>
<line x1="2911.5" y1="880" x2="2917.1" y2="1115"/>
<line x1="2923.0" y1="880" x2="2929.2" y2="1115"/>
<line x1="2934.5" y1="880" x2="2941.2" y2="1115"/>
<line x1="2946.0" y1="880" x2="2953.3" y2="1115"/>
<line x1="2957.5" y1="880" x2="2965.4" y2="1115"/>
<line x1="2969.0" y1="880" x2="2977.4" y2="1115"/>
<line x1="2980.5" y1="880" x2="2989.5" y2="1115"/>
<line x1="2992.0" y1="880" x2="3001.6" y2="1115"/>
<line x1="3003.5" y1="880" x2="3013.7" y2="1115"/>
<line x1="3015.0" y1="880" x2="3025.8" y2="1115"/>
<line x1="3026.5" y1="880" x2="3037.8" y2="1115"/>
<line x1="3038.0" y1="880" x2="3049.9" y2="1115"/>
<line x1="3049.5" y1="880" x2="3062.0" y2="1115"/>
<line x1="3061.0" y1="880" x2="3074.1" y2="1115"/>
<line x1="3072.5" y1="880" x2="3086.1" y2="1115"/>
</g>
<polygon points="2660,884 2700,884 2713,1115 2660,1115" fill="url(#g46)" />
<polygon points="2659,1060 2681,1052 2681,1099 2659,1106" fill="#8c8c90" opacity="0.75"/>
<polygon points="2757,983 2765,987 2663,1159 2656,1155" fill="#fbfbfb" stroke="#b0b0b0" stroke-width="1"/>
<polygon points="2591,1130 3046,1130 2931,1232 2666,1232" fill="url(#g47)" />
<polygon points="3046,1130 3153,1682 2996,1677 2931,1232" fill="url(#g48)" />
<line x1="3043" y1="1134" x2="2934" y2="1229" stroke="#a8a8ac" stroke-width="26" filter="url(#blur)" opacity="0.42"/>
<polygon points="2587,1120 2666,1120 2666,1232 2931,1232 2996,1677 2410,1677 2410,1415 2566,1415 2591,1352" fill="url(#g49)" />
<g clip-path="url(#cc6)"><polyline points="2666,1120 2666,1232 2931,1232 2996,1677 2410,1677 2410,1415 2566,1415 2591,1352 2587,1120" fill="none" stroke="#6a5e44" stroke-width="56" stroke-linejoin="round" filter="url(#blur3)" opacity="0.68"/><polyline points="2666,1120 2666,1232 2931,1232 2996,1677 2410,1677 2410,1415 2566,1415 2591,1352 2587,1120" fill="none" stroke="#5a5038" stroke-width="16" stroke-linejoin="round" filter="url(#blur4)" opacity="0.7"/></g>
<polygon points="2401,1352 2591,1352 2566,1415 2411,1415" fill="url(#g50)" />
<polygon points="2397,1352 2411,1352 2410,1682 2397,1682" fill="url(#g51)" />
<polygon points="2584,1125 2686,1168 2646,1265 2589,1235" fill="url(#g52)" stroke="#c4c0c0" stroke-width="1.5"/>
<polygon points="2594,1148 2626,1162 2618,1190 2594,1178" fill="none" stroke="#c0bcbc" stroke-width="2"/>
<polygon points="2634,1166 2670,1182 2660,1210 2626,1194" fill="none" stroke="#c0bcbc" stroke-width="2"/>
<polygon points="2594,1190 2616,1200 2608,1230 2594,1222" fill="none" stroke="#c0bcbc" stroke-width="2"/>
<polygon points="2624,1206 2656,1220 2646,1250 2616,1236" fill="none" stroke="#c0bcbc" stroke-width="2"/>
<polygon points="2581,1113 2598,1113 2598,1125 2581,1125" fill="#f6f6f6" />
<polygon points="2351,922 2408,989 2402,1003 2389,1087 2366,1013" fill="url(#g53)" stroke="#d8d4d4" stroke-width="1"/>
<g stroke="#c4c0c0" stroke-width="1.6" fill="none"><path d="M2361 942 L2368 975 M2377 962 L2384 1000 M2366 985 L2373 1022 M2383 1008 L2390 1048 M2372 1030 L2379 1065 M2389 1055 L2394 1082"/></g>
<circle cx="2363" cy="1011" r="2.5" fill="#222"/>
<polygon points="2392,896 2407,896 2407,1002 2392,1002" fill="url(#g54)" />
<polygon points="1874,859 2015,859 2024,884 1899,884 1747,1682 3153,1682 2998,884 2946,884 2946,859 3026,859 3200,1722 2996,1722 2926,1715 2606,1715 2606,1722 2246,1722 2246,1715 1925,1715 1850,1722 1699,1722" fill="#000" />
<polygon points="1849,1701 1888,1698 2246,1698 2246,1704 1888,1704" fill="#7c9c9c" />
<polygon points="2606,1698 2958,1698 2997,1701 2958,1704 2606,1704" fill="#7c9c9c" />
<polygon points="2035,859 2290,859 2302,947 2076,947" fill="url(#g55)" />
<polygon points="2025,859 2035,859 2076,947 2302,947 2303,958 2071,958" fill="#2c4646" />
<polygon points="2015,859 2025,859 2071,958 2305,958 2305,969 2061,969" fill="#000" />
<polygon points="2290,859 2475,859 2475,884 2290,884" fill="#000" />
<polygon points="2392,884 2407,884 2407,896 2392,896" fill="#000" />
<polygon points="2475,859 2630,859 2610,947 2475,947" fill="url(#g55)" />
<polygon points="2475,947 2610,947 2630,859 2639,859 2617,958 2475,958" fill="#2c4646" />
<polygon points="2475,958 2617,958 2639,859 2650,859 2623,969 2475,969" fill="#000" />
<polygon points="2638,859 2761,859 2761,884 2638,884" fill="#000" />
<polygon points="2698,882 2719,882 2719,956 2705,956" fill="#000" />
<polygon points="2761,859 2934,859 2884,947 2731,947" fill="url(#g55)" />
<polygon points="2731,947 2884,947 2934,859 2944,859 2891,958 2731,958" fill="#2c4646" />
<polygon points="2731,958 2891,958 2944,859 2956,859 2897,969 2731,969" fill="#000" />
<polygon points="2389,1002 2405,1002 2397,1682 2377,1682" fill="#000" />
<polygon points="2566,1115 2582,1115 2591,1352 2573,1352" fill="#000" />
<polygon points="2401,1335 2591,1335 2591,1352 2401,1352" fill="#000" />
<polygon points="2714,1113 3046,1113 3049,1128 2714,1128" fill="#000" />
<polygon points="2714,1085 2730,1085 2730,1128 2714,1128" fill="#000" />
<text x="626.3" y="649.2" font-size="65.9" textLength="431.5" lengthAdjust="spacingAndGlyphs">Ground Floor</text>
<text x="2277.8" y="772" font-size="66.3" textLength="334.3" lengthAdjust="spacingAndGlyphs">First Floor</text>
<rect x="417" y="1115" width="246" height="61" fill="#e6e4e0" fill-opacity="0.62"/>
<text x="426.6" y="1164" font-size="63.0" textLength="219.9" lengthAdjust="spacingAndGlyphs">Lounge</text>
<rect x="1002" y="1114" width="248" height="119" fill="#e6e4e0" fill-opacity="0.62"/>
<text x="1030.1" y="1162.9" font-size="61.7" textLength="190.1" lengthAdjust="spacingAndGlyphs">Dining</text>
<text x="1012.5" y="1224" font-size="61.3" textLength="224.2" lengthAdjust="spacingAndGlyphs">Kitchen</text>
<rect x="1298" y="1569" width="153" height="61" fill="#e6e4e0" fill-opacity="0.62"/>
<text x="1309.1" y="1618.5" font-size="63.9" textLength="129.3" lengthAdjust="spacingAndGlyphs">CPD</text>
<rect x="1968" y="1252" width="346" height="61" fill="#e6e4e0" fill-opacity="0.62"/>
<text x="1979.5" y="1302" font-size="61.6" textLength="309.8" lengthAdjust="spacingAndGlyphs">Bedroom 1</text>
<rect x="2427" y="994" width="261" height="61" fill="#e6e4e0" fill-opacity="0.62"/>
<text x="2436.4" y="1043" font-size="60.5" textLength="236.8" lengthAdjust="spacingAndGlyphs">Landing</text>
<rect x="2689" y="1034" width="311" height="59" fill="#e6e4e0" fill-opacity="0.62"/>
<text x="2699.3" y="1081.8" font-size="60.1" textLength="288.1" lengthAdjust="spacingAndGlyphs">Bathroom</text>
<rect x="2608" y="1433" width="346" height="61" fill="#e6e4e0" fill-opacity="0.62"/>
<text x="2619.8" y="1483" font-size="60.1" textLength="317.3" lengthAdjust="spacingAndGlyphs">Bedroom 2</text>
</svg></body></html>
